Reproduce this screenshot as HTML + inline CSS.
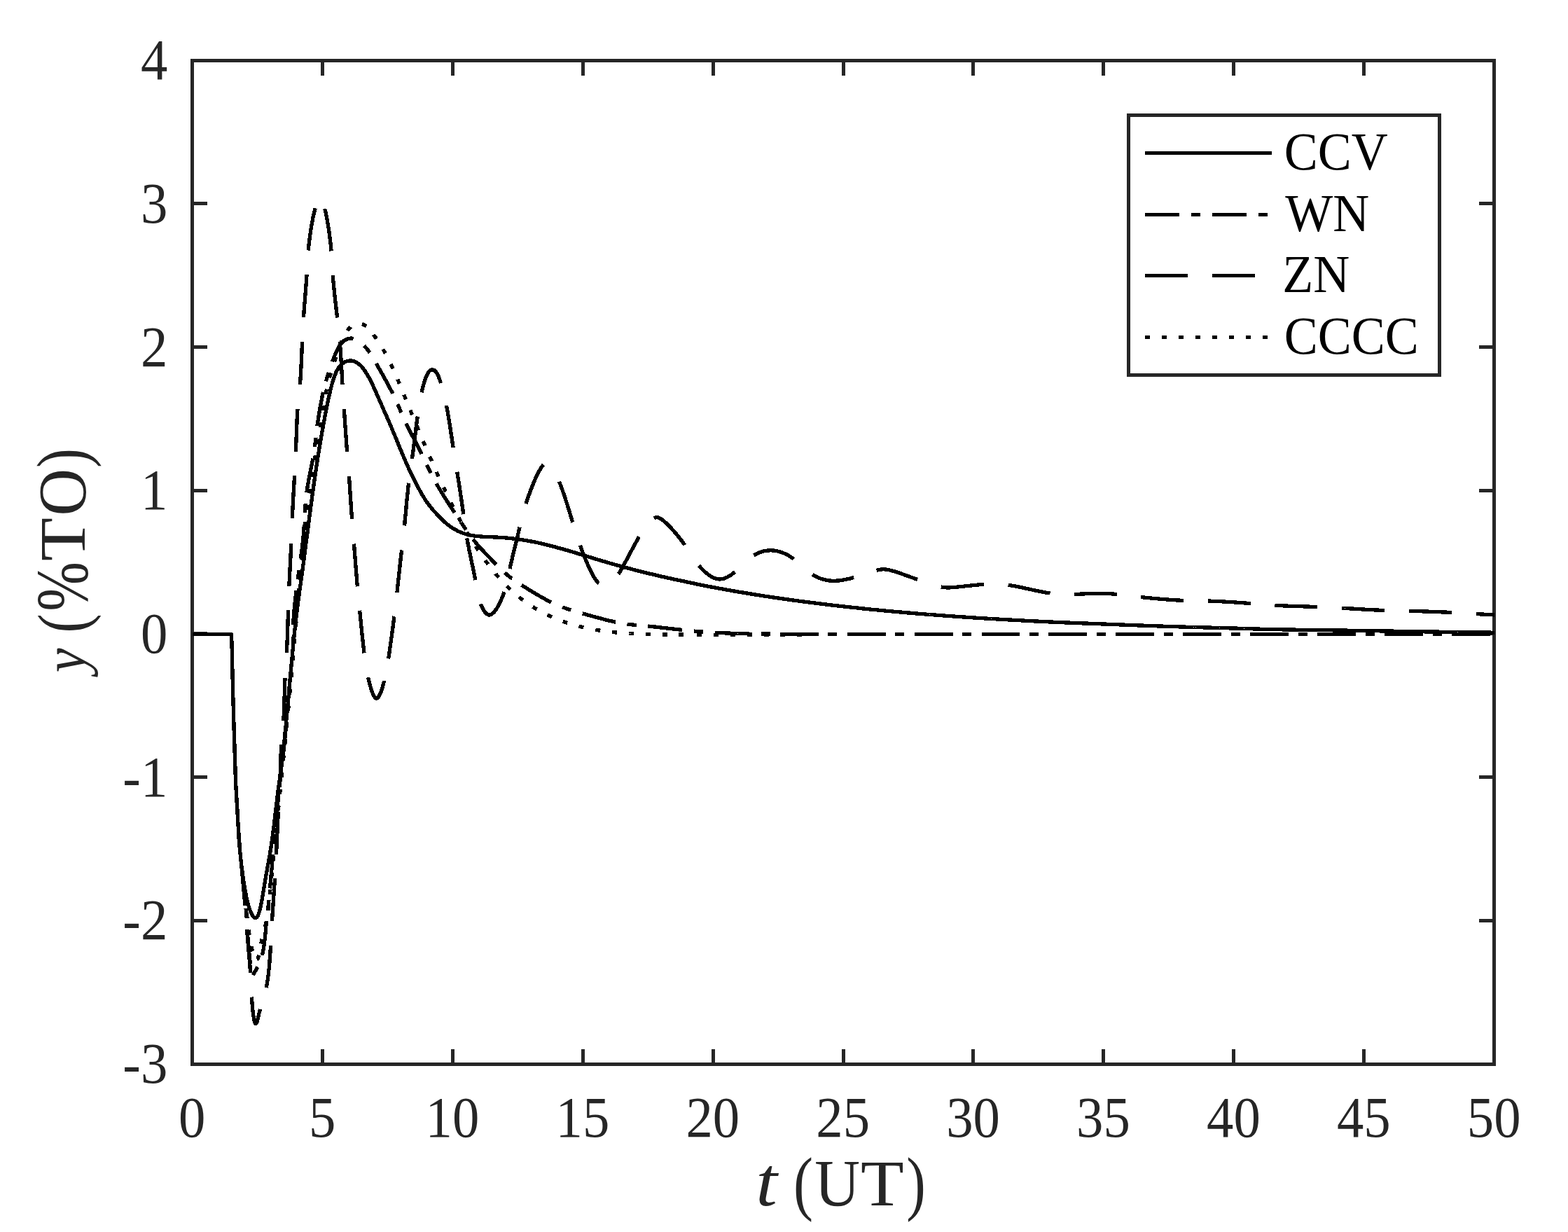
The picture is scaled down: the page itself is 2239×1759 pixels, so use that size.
<!DOCTYPE html>
<html lang="en"><head><meta charset="utf-8"><title>Disturbance response: CCV, WN, ZN, CCCC</title>
<style>html,body{margin:0;padding:0;background:#fff;}body{width:2239px;height:1759px;overflow:hidden;}svg{display:block;}</style>
</head><body>
<svg width="2239" height="1759" viewBox="0 0 2239 1759"><g shape-rendering="crispEdges"><rect x="272" y="84" width="1864" height="5" fill="#262626"/><rect x="272" y="1517" width="1864" height="5" fill="#262626"/><rect x="272" y="84" width="5" height="1438" fill="#262626"/><rect x="2131" y="84" width="5" height="1438" fill="#262626"/><rect x="458" y="1498" width="5" height="19" fill="#262626"/><rect x="458" y="89" width="5" height="19" fill="#262626"/><rect x="644" y="1498" width="5" height="19" fill="#262626"/><rect x="644" y="89" width="5" height="19" fill="#262626"/><rect x="830" y="1498" width="5" height="19" fill="#262626"/><rect x="830" y="89" width="5" height="19" fill="#262626"/><rect x="1016" y="1498" width="5" height="19" fill="#262626"/><rect x="1016" y="89" width="5" height="19" fill="#262626"/><rect x="1202" y="1498" width="5" height="19" fill="#262626"/><rect x="1202" y="89" width="5" height="19" fill="#262626"/><rect x="1387" y="1498" width="5" height="19" fill="#262626"/><rect x="1387" y="89" width="5" height="19" fill="#262626"/><rect x="1573" y="1498" width="5" height="19" fill="#262626"/><rect x="1573" y="89" width="5" height="19" fill="#262626"/><rect x="1759" y="1498" width="5" height="19" fill="#262626"/><rect x="1759" y="89" width="5" height="19" fill="#262626"/><rect x="1945" y="1498" width="5" height="19" fill="#262626"/><rect x="1945" y="89" width="5" height="19" fill="#262626"/><rect x="277" y="1312" width="19" height="5" fill="#262626"/><rect x="2112" y="1312" width="19" height="5" fill="#262626"/><rect x="277" y="1107" width="19" height="5" fill="#262626"/><rect x="2112" y="1107" width="19" height="5" fill="#262626"/><rect x="277" y="902" width="19" height="5" fill="#262626"/><rect x="2112" y="902" width="19" height="5" fill="#262626"/><rect x="277" y="698" width="19" height="5" fill="#262626"/><rect x="2112" y="698" width="19" height="5" fill="#262626"/><rect x="277" y="493" width="19" height="5" fill="#262626"/><rect x="2112" y="493" width="19" height="5" fill="#262626"/><rect x="277" y="288" width="19" height="5" fill="#262626"/><rect x="2112" y="288" width="19" height="5" fill="#262626"/></g>
<g font-family="'Liberation Serif', serif" font-size="80px" fill="#262626"><text transform="translate(274.2,1622.6) scale(0.96,1.026)" text-anchor="middle">0</text><text transform="translate(460.1,1622.6) scale(0.96,1.026)" text-anchor="middle">5</text><text transform="translate(646.0,1622.6) scale(0.96,1.026)" text-anchor="middle">10</text><text transform="translate(831.9,1622.6) scale(0.96,1.026)" text-anchor="middle">15</text><text transform="translate(1017.8,1622.6) scale(0.96,1.026)" text-anchor="middle">20</text><text transform="translate(1203.7,1622.6) scale(0.96,1.026)" text-anchor="middle">25</text><text transform="translate(1389.6,1622.6) scale(0.96,1.026)" text-anchor="middle">30</text><text transform="translate(1575.5,1622.6) scale(0.96,1.026)" text-anchor="middle">35</text><text transform="translate(1761.4,1622.6) scale(0.96,1.026)" text-anchor="middle">40</text><text transform="translate(1947.3,1622.6) scale(0.96,1.026)" text-anchor="middle">45</text><text transform="translate(2133.2,1622.6) scale(0.96,1.026)" text-anchor="middle">50</text><text transform="translate(239.3,1546.1) scale(0.96,1.026)" text-anchor="end">-3</text><text transform="translate(239.3,1341.4) scale(0.96,1.026)" text-anchor="end">-2</text><text transform="translate(239.3,1136.7) scale(0.96,1.026)" text-anchor="end">-1</text><text transform="translate(239.3,932.0) scale(0.96,1.026)" text-anchor="end">0</text><text transform="translate(239.3,727.2) scale(0.96,1.026)" text-anchor="end">1</text><text transform="translate(239.3,522.5) scale(0.96,1.026)" text-anchor="end">2</text><text transform="translate(239.3,317.8) scale(0.96,1.026)" text-anchor="end">3</text><text transform="translate(239.3,113.1) scale(0.96,1.026)" text-anchor="end">4</text></g>
<text font-family="'Liberation Serif', serif" fill="#262626" xml:space="preserve"><tspan x="1079.3" y="1721.3" font-size="100.2px" font-style="italic" textLength="30.6" lengthAdjust="spacingAndGlyphs">t</tspan><tspan x="1120.0" y="1721.3" font-size="20px"> </tspan><tspan x="1133.0" y="1722.5" font-size="100.8px" textLength="28.0" lengthAdjust="spacingAndGlyphs">(</tspan><tspan x="1163.2" y="1722.0" font-size="94.5px" textLength="64.8" lengthAdjust="spacingAndGlyphs">U</tspan><tspan x="1229.1" y="1721.3" font-size="93.5px" textLength="61.7" lengthAdjust="spacingAndGlyphs">T</tspan><tspan x="1294.3" y="1722.5" font-size="100.8px" textLength="27.5" lengthAdjust="spacingAndGlyphs">)</tspan></text>
<text transform="translate(121.1,966.7) rotate(-90)" font-family="'Liberation Serif', serif" fill="#262626" xml:space="preserve"><tspan x="6.5" y="-0.6" font-size="85.8px" font-style="italic" textLength="34.6" lengthAdjust="spacingAndGlyphs">y</tspan><tspan x="50.0" y="0.0" font-size="20px"> </tspan><tspan x="63.3" y="1.8" font-size="100.5px" textLength="27.2" lengthAdjust="spacingAndGlyphs">(</tspan><tspan x="94.0" y="3.4" font-size="105.7px" textLength="70.6" lengthAdjust="spacingAndGlyphs">%</tspan><tspan x="165.8" y="0.0" font-size="93.3px" textLength="62.0" lengthAdjust="spacingAndGlyphs">T</tspan><tspan x="230.2" y="1.1" font-size="97.5px" textLength="67.7" lengthAdjust="spacingAndGlyphs">O</tspan><tspan x="298.7" y="1.7" font-size="101.1px" textLength="28.0" lengthAdjust="spacingAndGlyphs">)</tspan></text>
<g id="curves" shape-rendering="crispEdges"><path d="M274.5 905.5L330.5 905.5L330.5 906.4L330.6 907.3L330.6 908.2L330.6 909.1L330.6 909.7M331.6 944.7L331.6 945.3L331.6 946.2L331.6 947.1L331.7 948.0L331.7 949.0L331.7 949.9L331.7 950.8L331.8 951.7L331.8 952.7L331.8 953.6L331.8 954.6L331.9 955.5L331.9 956.5L331.9 957.4L331.9 958.4L331.9 959.4L332.0 960.3L332.0 961.3L332.0 962.3L332.0 963.3L332.1 964.3L332.1 965.3L332.1 966.2L332.1 967.2L332.2 968.3L332.2 969.3L332.2 970.3L332.2 971.3L332.3 972.3L332.3 973.3L332.3 974.4L332.3 975.4L332.4 976.5L332.4 977.5L332.4 978.5L332.4 979.6L332.5 980.7L332.5 981.7L332.5 982.8L332.5 983.9L332.6 984.9L332.6 986.0L332.6 987.1L332.7 988.2L332.7 989.3L332.7 990.4L332.7 991.5L332.8 992.6L332.8 993.5L332.8 994.4L332.8 995.4L332.9 996.3L332.9 997.2L332.9 998.2L332.9 999.1L333.0 1000.1L333.0 1001.0L333.0 1002.0L333.0 1002.9L333.1 1003.9L333.1 1004.9L333.1 1005.7M334.1 1040.7L334.1 1041.4L334.1 1042.4L334.2 1043.4L334.2 1044.4L334.2 1045.4L334.3 1046.4L334.3 1047.4L334.3 1048.4L334.3 1049.4L334.4 1050.4L334.4 1051.4L334.4 1052.4L334.5 1053.4L334.5 1054.4L334.5 1055.4L334.6 1056.4L334.6 1057.3L334.6 1058.3L334.7 1059.3L334.7 1060.3L334.7 1061.3L334.7 1062.3L334.8 1063.2L334.8 1064.2L334.8 1065.2L334.9 1066.2L334.9 1067.1L334.9 1068.3L335.0 1069.4L335.0 1070.5L335.0 1071.6L335.1 1072.7L335.1 1073.8L335.2 1074.9L335.2 1076.0L335.2 1077.1L335.3 1078.2L335.3 1079.3L335.3 1080.4L335.4 1081.5L335.4 1082.6L335.4 1083.6L335.5 1084.7L335.5 1085.8L335.6 1086.8L335.6 1087.9L335.6 1088.9L335.7 1090.0L335.7 1091.0L335.7 1092.1L335.8 1093.1L335.8 1094.1L335.9 1095.2L335.9 1096.2L335.9 1097.2L336.0 1098.2L336.0 1099.2L336.0 1100.2L336.1 1101.2L336.1 1101.7M337.6 1136.6L337.7 1136.8L337.7 1137.8L337.8 1138.7L337.8 1139.7L337.9 1140.6L337.9 1141.5L338.0 1142.5L338.0 1143.4L338.1 1144.4L338.1 1145.3L338.2 1146.3L338.2 1147.2L338.3 1148.2L338.3 1149.1L338.4 1150.1L338.5 1151.1L338.5 1152.1L338.6 1153.1L338.6 1154.1L338.7 1155.1L338.7 1155.9L338.8 1156.8L338.8 1157.7L338.9 1158.5L339.0 1159.4L339.0 1160.3L339.1 1161.2L339.1 1162.1L339.2 1163.0L339.2 1163.9L339.3 1164.9L339.3 1165.8L339.4 1166.7L339.5 1167.7L339.5 1168.6L339.6 1169.6L339.6 1170.5L339.7 1171.5L339.8 1172.4L339.8 1173.4L339.9 1174.4L339.9 1175.4L340.0 1176.3L340.1 1177.3L340.1 1178.3L340.2 1179.3L340.3 1180.3L340.3 1181.3L340.4 1182.3L340.5 1183.3L340.5 1184.3L340.6 1185.3L340.7 1186.3L340.7 1187.4L340.8 1188.4L340.9 1189.4L341.0 1190.4L341.0 1191.4L341.1 1192.5L341.2 1193.5L341.3 1194.5L341.3 1195.5L341.4 1196.6L341.5 1197.5M344.4 1232.4L344.5 1233.2L344.6 1234.2L344.7 1235.2L344.8 1236.2L344.9 1237.2L345.0 1238.2L345.1 1239.2L345.2 1240.2L345.3 1241.2L345.4 1242.2L345.4 1243.2L345.5 1244.1L345.6 1245.1L345.7 1246.1L345.8 1247.1L345.9 1248.1L346.0 1249.1L346.1 1250.1L346.2 1251.1L346.3 1252.2L346.4 1253.2L346.5 1254.2L346.6 1255.2L346.7 1256.2L346.8 1257.2L346.9 1258.1L346.9 1259.1L347.0 1260.1L347.1 1261.1L347.2 1262.1L347.3 1263.1L347.4 1264.1L347.5 1265.0L347.6 1266.0L347.7 1267.0L347.8 1268.0L347.9 1268.9L347.9 1269.9L348.0 1270.9L348.1 1271.8L348.2 1272.8L348.3 1273.7L348.4 1274.7L348.5 1275.6L348.5 1276.6L348.6 1277.5L348.7 1278.5L348.8 1279.4L348.9 1280.4L348.9 1281.3L349.0 1282.2L349.1 1283.2L349.2 1284.1L349.3 1285.0L349.3 1285.9L349.4 1286.8L349.5 1287.8L349.6 1288.7L349.6 1289.6L349.7 1290.5L349.8 1291.5L349.9 1292.5L349.9 1293.1M352.6 1328.0L352.6 1328.9L352.7 1329.9L352.8 1330.8L352.9 1331.7L352.9 1332.7L353.0 1333.7L353.1 1334.6L353.2 1335.6L353.3 1336.6L353.4 1337.5L353.4 1338.5L353.5 1339.5L353.6 1340.5L353.7 1341.5L353.8 1342.5L353.9 1343.5L354.0 1344.5L354.1 1345.5L354.1 1346.6L354.2 1347.6L354.3 1348.6L354.4 1349.6L354.5 1350.7L354.6 1351.7L354.7 1352.7L354.8 1353.7L354.9 1354.8L355.0 1355.8L355.1 1356.8L355.1 1357.9L355.2 1358.9L355.3 1359.9L355.4 1361.0L355.5 1362.0L355.6 1363.0L355.7 1364.0L355.8 1365.1L355.9 1366.1L355.9 1367.1L356.0 1368.1L356.1 1369.1L356.2 1370.2L356.3 1371.2L356.4 1372.2L356.4 1373.2L356.5 1374.1L356.6 1375.1L356.7 1376.1L356.7 1377.1L356.8 1378.1L356.9 1379.0L357.0 1380.0L357.0 1380.9L357.1 1381.9L357.2 1382.8L357.2 1383.8L357.3 1384.7L357.4 1385.6L357.4 1386.5L357.5 1387.4L357.6 1388.5L357.6 1388.8M359.4 1423.6L359.5 1424.7L359.5 1425.8L359.6 1426.8L359.7 1427.9L359.8 1429.0L359.8 1430.0L359.9 1431.1L360.0 1432.2L360.1 1433.3L360.2 1434.3L360.2 1435.4L360.3 1436.4L360.4 1437.5L360.5 1438.5L360.6 1439.5L360.7 1440.6L360.8 1441.6L360.9 1442.6L361.0 1443.6L361.1 1444.5L361.3 1445.5L361.4 1446.4L361.5 1447.4L361.6 1448.3L361.7 1449.2L361.9 1450.1L362.0 1450.9L362.1 1451.8L362.3 1452.6L362.5 1453.8L362.7 1455.0L362.9 1456.0L363.1 1457.0L363.4 1458.0L363.6 1458.8L363.8 1459.6L364.1 1460.2L364.3 1460.8L364.6 1461.2L364.8 1461.5L365.1 1461.7L365.4 1461.7L365.7 1461.5L366.0 1461.1L366.3 1460.6L366.6 1459.9L366.9 1459.0L367.2 1458.1L367.5 1457.3L367.7 1456.4L367.9 1455.5L368.1 1454.6L368.4 1453.6L368.6 1452.6L368.8 1451.5L369.1 1450.4L369.3 1449.3L369.6 1448.1L369.9 1446.9L370.2 1445.7L370.6 1444.4L370.8 1443.7L371.0 1442.9L371.2 1442.1L371.5 1441.3L371.6 1440.9M380.2 1410.1L380.4 1409.2L380.6 1408.3L380.8 1407.4L381.0 1406.4L381.1 1405.5L381.3 1404.5L381.5 1403.6L381.6 1402.6L381.8 1401.6L381.9 1400.7L382.1 1399.7L382.2 1398.7L382.4 1397.7L382.5 1396.7L382.6 1395.7L382.8 1394.7L382.9 1393.7L383.0 1392.6L383.2 1391.6L383.3 1390.6L383.4 1389.6L383.5 1388.5L383.6 1387.5L383.7 1386.5L383.8 1385.5L384.0 1384.4L384.1 1383.4L384.2 1382.4L384.3 1381.3L384.4 1380.3L384.5 1379.3L384.5 1378.3L384.6 1377.2L384.7 1376.2L384.8 1375.2L384.9 1374.2L385.0 1373.1L385.1 1372.1L385.1 1371.1L385.2 1370.1L385.3 1369.1L385.4 1368.1L385.4 1367.1L385.5 1366.1L385.6 1365.2L385.6 1364.2L385.7 1363.2L385.8 1362.2L385.8 1361.3L385.9 1360.3L385.9 1359.4L386.0 1358.5L386.1 1357.5L386.1 1356.6L386.2 1355.7L386.2 1354.8L386.3 1353.9L386.3 1353.1L386.4 1352.2L386.4 1351.3L386.5 1350.2L386.5 1349.5M388.5 1315.1L388.6 1314.3L388.6 1313.4L388.7 1312.5L388.7 1311.6L388.8 1310.6L388.8 1309.7L388.9 1308.8L389.0 1307.8L389.0 1306.9L389.1 1305.9L389.1 1304.9L389.2 1303.9L389.3 1302.9L389.3 1302.0L389.4 1300.9L389.5 1299.9L389.5 1298.9L389.6 1297.9L389.7 1296.9L389.7 1295.9L389.8 1294.8L389.9 1293.8L389.9 1292.8L390.0 1291.7L390.1 1290.7L390.1 1289.6L390.2 1288.6L390.3 1287.6L390.3 1286.5L390.4 1285.5L390.5 1284.4L390.6 1283.4L390.6 1282.3L390.7 1281.3L390.8 1280.2L390.8 1279.2L390.9 1278.2L391.0 1277.1L391.0 1276.1L391.1 1275.1L391.2 1274.0L391.3 1273.0L391.3 1272.0L391.4 1271.0L391.5 1270.0L391.5 1269.0L391.6 1268.0L391.7 1267.0L391.7 1266.0L391.8 1265.1L391.8 1264.1L391.9 1263.2L392.0 1262.2L392.0 1261.3L392.1 1260.4L392.2 1259.4L392.2 1258.5L392.3 1257.6L392.3 1256.7L392.4 1255.9L392.5 1254.8L392.5 1254.3M394.5 1219.8L394.5 1219.0L394.6 1218.1L394.6 1217.2L394.7 1216.3L394.7 1215.4L394.8 1214.5L394.8 1213.5L394.8 1212.6L394.9 1211.7L394.9 1210.7L395.0 1209.7L395.0 1208.8L395.1 1207.8L395.1 1206.8L395.1 1205.8L395.2 1204.8L395.2 1203.8L395.3 1202.8L395.3 1201.8L395.4 1200.8L395.4 1199.8L395.4 1198.8L395.5 1197.7L395.5 1196.7L395.6 1195.7L395.6 1194.6L395.7 1193.6L395.7 1192.6L395.8 1191.5L395.8 1190.5L395.9 1189.5L395.9 1188.4L396.0 1187.4L396.0 1186.3L396.0 1185.3L396.1 1184.3L396.1 1183.2L396.2 1182.2L396.2 1181.2L396.3 1180.2L396.3 1179.2L396.4 1178.1L396.4 1177.1L396.5 1176.1L396.5 1175.1L396.6 1174.1L396.6 1173.1L396.7 1172.2L396.7 1171.2L396.8 1170.2L396.8 1169.3L396.9 1168.3L396.9 1167.4L397.0 1166.4L397.0 1165.5L397.1 1164.6L397.1 1163.7L397.2 1162.8L397.2 1161.9L397.3 1161.0L397.3 1160.2L397.4 1159.1L397.4 1158.9M399.5 1124.3L399.5 1123.4L399.6 1122.6L399.6 1121.7L399.6 1120.8L399.7 1119.8L399.7 1118.9L399.7 1118.0L399.8 1117.0L399.8 1116.1L399.9 1115.1L399.9 1114.2L399.9 1113.2L400.0 1112.2L400.0 1111.2L400.0 1110.2L400.0 1109.2L400.1 1108.2L400.1 1107.2L400.1 1106.2L400.2 1105.1L400.2 1104.1L400.2 1103.1L400.3 1102.0L400.3 1101.0L400.3 1100.0L400.4 1098.9L400.4 1097.9L400.4 1096.8L400.5 1095.8L400.5 1094.7L400.5 1093.7L400.6 1092.6L400.6 1091.6L400.6 1090.5L400.7 1089.5L400.7 1088.4L400.7 1087.4L400.8 1086.4L400.8 1085.3L400.9 1084.3L400.9 1083.3L400.9 1082.3L401.0 1081.2L401.0 1080.2L401.1 1079.2L401.1 1078.2L401.1 1077.2L401.2 1076.2L401.2 1075.3L401.3 1074.3L401.3 1073.3L401.4 1072.4L401.4 1071.4L401.4 1070.5L401.5 1069.5L401.5 1068.6L401.6 1067.7L401.7 1066.8L401.7 1065.9L401.8 1065.1L401.8 1064.2L401.9 1063.4M404.8 1028.8L404.8 1028.0L404.9 1027.1L404.9 1026.2L405.0 1025.3L405.0 1024.4L405.1 1023.5L405.1 1022.6L405.2 1021.7L405.2 1020.7L405.3 1019.8L405.3 1018.8L405.3 1017.8L405.4 1016.9L405.4 1015.9L405.5 1014.9L405.5 1013.9L405.5 1012.9L405.6 1011.9L405.6 1010.9L405.6 1009.9L405.7 1008.9L405.7 1007.9L405.7 1006.8L405.8 1005.8L405.8 1004.8L405.8 1003.7L405.9 1002.7L405.9 1001.7L405.9 1000.6L406.0 999.6L406.0 998.5L406.0 997.5L406.1 996.5L406.1 995.4L406.1 994.4L406.2 993.4L406.2 992.3L406.2 991.3L406.2 990.3L406.3 989.2L406.3 988.2L406.3 987.2L406.4 986.2L406.4 985.2L406.4 984.1L406.5 983.1L406.5 982.2L406.5 981.2L406.6 980.2L406.6 979.2L406.6 978.2L406.6 977.3L406.7 976.3L406.7 975.4L406.8 974.4L406.8 973.5L406.8 972.6L406.9 971.7L406.9 970.8L406.9 969.9L407.0 969.1L407.0 968.2L407.0 967.9M409.3 932.3L409.3 931.5L409.4 930.6L409.4 929.7L409.5 928.8L409.5 927.9L409.6 927.0L409.6 926.1L409.7 925.1L409.7 924.2L409.8 923.2L409.8 922.3L409.8 921.3L409.9 920.3L409.9 919.3L410.0 918.4L410.0 917.4L410.1 916.4L410.1 915.4L410.1 914.4L410.2 913.3L410.2 912.3L410.3 911.3L410.3 910.3L410.3 909.2L410.4 908.2L410.4 907.2L410.4 906.2L410.5 905.1L410.5 904.1L410.5 903.0L410.6 902.0L410.6 901.0L410.7 899.9L410.7 898.9L410.7 897.9L410.8 896.8L410.8 895.8L410.8 894.8L410.9 893.7L410.9 892.7L410.9 891.7L411.0 890.7L411.0 889.7L411.0 888.7L411.0 887.7L411.1 886.7L411.1 885.7L411.1 884.7L411.2 883.7L411.2 882.8L411.2 881.8L411.3 880.8L411.3 879.9L411.3 879.0L411.3 878.0L411.4 877.1L411.4 876.2L411.4 875.3L411.4 874.4L411.5 873.5L411.5 872.7L411.5 871.6L411.5 871.4M412.8 836.8L412.8 836.0L412.9 835.1L412.9 834.2L413.0 833.3L413.0 832.4L413.1 831.5L413.1 830.6L413.2 829.6L413.2 828.7L413.2 827.7L413.3 826.8L413.3 825.8L413.4 824.8L413.4 823.9L413.5 822.9L413.5 821.9L413.6 820.9L413.6 819.9L413.7 818.9L413.7 817.9L413.8 816.9L413.9 815.8L413.9 814.8L414.0 813.8L414.0 812.8L414.1 811.7L414.1 810.7L414.2 809.7L414.2 808.6L414.3 807.6L414.3 806.6L414.4 805.5L414.4 804.5L414.5 803.5L414.5 802.4L414.6 801.4L414.6 800.4L414.7 799.3L414.8 798.3L414.8 797.3L414.9 796.3L414.9 795.2L415.0 794.2L415.0 793.2L415.1 792.2L415.1 791.2L415.2 790.2L415.2 789.3L415.3 788.3L415.3 787.3L415.4 786.3L415.4 785.4L415.4 784.4L415.5 783.5L415.5 782.6L415.6 781.6L415.6 780.7L415.7 779.8L415.7 778.9L415.7 778.1L415.8 777.2L415.8 776.1L415.8 775.9M417.3 740.1L417.3 739.2L417.4 738.3L417.4 737.4L417.5 736.5L417.5 735.6L417.6 734.7L417.6 733.7L417.6 732.8L417.7 731.8L417.7 730.9L417.8 729.9L417.8 728.9L417.9 727.9L417.9 726.9L418.0 725.9L418.0 724.9L418.1 723.9L418.1 722.9L418.2 721.9L418.2 720.8L418.3 719.8L418.3 718.8L418.4 717.7L418.5 716.7L418.5 715.6L418.6 714.6L418.6 713.6L418.7 712.5L418.7 711.5L418.8 710.4L418.8 709.4L418.9 708.3L419.0 707.3L419.0 706.2L419.1 705.2L419.1 704.2L419.2 703.1L419.2 702.1L419.3 701.0L419.4 700.0L419.4 699.0L419.5 698.0L419.5 697.0L419.6 696.0L419.6 695.0L419.7 694.0L419.7 693.0L419.8 692.0L419.9 691.0L419.9 690.0L420.0 689.1L420.0 688.1L420.1 687.2L420.1 686.2L420.2 685.3L420.2 684.4L420.3 683.5L420.3 682.6L420.4 681.7L420.4 680.9L420.5 680.0L420.5 679.2M422.4 644.8L422.4 643.9L422.5 643.1L422.5 642.2L422.5 641.3L422.6 640.4L422.6 639.5L422.6 638.6L422.7 637.6L422.7 636.7L422.7 635.7L422.8 634.8L422.8 633.8L422.8 632.8L422.9 631.8L422.9 630.8L422.9 629.8L423.0 628.8L423.0 627.8L423.0 626.8L423.1 625.8L423.1 624.8L423.2 623.7L423.2 622.7L423.2 621.7L423.3 620.6L423.3 619.6L423.3 618.6L423.4 617.5L423.4 616.5L423.4 615.4L423.5 614.4L423.5 613.3L423.6 612.3L423.6 611.2L423.6 610.2L423.7 609.2L423.7 608.1L423.8 607.1L423.8 606.0L423.9 605.0L423.9 604.0L423.9 603.0L424.0 601.9L424.0 600.9L424.1 599.9L424.1 598.9L424.2 597.9L424.2 596.9L424.3 596.0L424.3 595.0L424.4 594.0L424.4 593.1L424.5 592.1L424.5 591.2L424.6 590.2L424.7 589.3L424.7 588.4L424.8 587.5L424.8 586.6L424.9 585.7L424.9 584.9L425.0 584.0L425.0 583.9M428.4 548.9L428.5 548.0L428.5 547.2L428.6 546.3L428.7 545.4L428.7 544.5L428.8 543.6L428.9 542.7L428.9 541.8L429.0 540.8L429.0 539.9L429.1 538.9L429.2 537.9L429.2 537.0L429.3 536.0L429.4 535.0L429.4 534.0L429.5 533.0L429.5 532.0L429.6 531.0L429.6 530.0L429.7 529.0L429.7 527.9L429.8 526.9L429.9 525.9L429.9 524.8L430.0 523.8L430.0 522.8L430.1 521.7L430.1 520.7L430.2 519.6L430.2 518.6L430.3 517.6L430.3 516.5L430.4 515.5L430.4 514.4L430.5 513.4L430.5 512.4L430.5 511.3L430.6 510.3L430.6 509.3L430.7 508.2L430.7 507.2L430.8 506.2L430.8 505.2L430.9 504.2L430.9 503.2L430.9 502.2L431.0 501.2L431.0 500.2L431.1 499.2L431.1 498.2L431.1 497.3L431.2 496.3L431.2 495.4L431.3 494.5L431.3 493.5L431.3 492.6L431.4 491.7L431.4 490.8L431.4 489.9L431.5 489.1L431.5 488.2L431.5 488.0M433.5 452.7L433.5 451.8L433.6 451.0L433.6 450.1L433.7 449.2L433.8 448.3L433.9 447.4L433.9 446.4L434.0 445.5L434.1 444.6L434.1 443.6L434.2 442.6L434.3 441.7L434.4 440.7L434.4 439.7L434.5 438.7L434.6 437.7L434.7 436.7L434.8 435.7L434.8 434.7L434.9 433.7L435.0 432.6L435.1 431.6L435.2 430.6L435.3 429.6L435.3 428.5L435.4 427.5L435.5 426.4L435.6 425.4L435.7 424.4L435.8 423.3L435.8 422.3L435.9 421.2L436.0 420.2L436.1 419.2L436.2 418.1L436.2 417.1L436.3 416.0L436.4 415.0L436.5 414.0L436.6 413.0L436.6 411.9L436.7 410.9L436.8 409.9L436.9 408.9L436.9 407.9L437.0 406.9L437.1 405.9L437.2 404.9L437.2 404.0L437.3 403.0L437.4 402.0L437.4 401.1L437.5 400.1L437.6 399.2L437.6 398.3L437.7 397.4L437.7 396.5L437.8 395.6L437.9 394.7L437.9 393.8L438.0 393.0L438.0 391.9L438.0 391.9M440.2 357.5L440.3 356.6L440.3 355.7L440.4 354.8L440.5 353.8L440.6 352.9L440.7 351.9L440.8 351.0L440.9 350.0L441.1 349.0L441.2 348.1L441.3 347.1L441.4 346.1L441.5 345.0L441.7 344.0L441.8 343.0L441.9 342.0L442.0 340.9L442.2 339.9L442.3 338.9L442.5 337.8L442.6 336.7L442.8 335.7L442.9 334.6L443.1 333.6L443.2 332.5L443.4 331.4L443.5 330.4L443.7 329.3L443.8 328.3L444.0 327.2L444.2 326.1L444.4 325.1L444.5 324.0L444.7 323.0L444.9 321.9L445.0 320.9L445.2 319.8L445.4 318.8L445.6 317.8L445.8 316.8L446.0 315.7L446.2 314.7L446.3 313.7L446.5 312.7L446.7 311.8L446.9 310.8L447.1 309.8L447.3 308.9L447.5 307.9L447.7 307.0L447.9 306.1L448.1 305.2L448.3 304.3L448.5 303.4L448.8 302.5L449.0 301.7L449.2 300.8L449.4 300.0L449.6 299.2L449.8 298.4L450.0 297.7L450.1 297.3M463.6 298.0L463.8 298.8L464.0 299.6L464.3 300.4L464.5 301.2L464.7 302.1L464.9 303.0L465.1 303.8L465.3 304.7L465.5 305.6L465.7 306.5L465.9 307.5L466.1 308.4L466.3 309.3L466.4 310.3L466.6 311.3L466.8 312.2L467.0 313.2L467.2 314.2L467.4 315.2L467.6 316.3L467.7 317.3L467.9 318.3L468.1 319.3L468.3 320.4L468.4 321.4L468.6 322.5L468.8 323.5L469.0 324.6L469.1 325.6L469.3 326.7L469.4 327.8L469.6 328.8L469.7 329.9L469.9 330.9L470.1 332.0L470.2 333.1L470.3 334.1L470.5 335.2L470.6 336.3L470.8 337.3L470.9 338.4L471.0 339.4L471.2 340.5L471.3 341.5L471.4 342.5L471.5 343.6L471.7 344.6L471.8 345.6L471.9 346.6L472.0 347.6L472.1 348.6L472.2 349.6L472.3 350.6L472.4 351.5L472.5 352.5L472.6 353.4L472.7 354.4L472.8 355.3L472.9 356.2L473.0 357.1L473.0 358.0L473.1 358.2M475.2 393.0L475.3 393.8L475.4 394.7L475.4 395.6L475.5 396.5L475.6 397.4L475.7 398.3L475.7 399.2L475.8 400.2L475.9 401.1L476.0 402.1L476.1 403.0L476.2 404.0L476.3 405.0L476.4 406.0L476.4 407.0L476.5 408.0L476.6 409.0L476.7 410.0L476.8 411.0L476.9 412.0L477.0 413.1L477.2 414.1L477.3 415.1L477.4 416.2L477.5 417.2L477.6 418.3L477.7 419.3L477.8 420.4L477.9 421.4L478.0 422.5L478.1 423.5L478.3 424.6L478.4 425.6L478.5 426.7L478.6 427.7L478.7 428.8L478.8 429.8L479.0 430.8L479.1 431.9L479.2 432.9L479.3 434.0L479.4 435.0L479.5 436.0L479.7 437.0L479.8 438.0L479.9 439.0L480.0 440.0L480.1 441.0L480.2 442.0L480.3 443.0L480.5 444.0L480.6 444.9L480.7 445.9L480.8 446.8L480.9 447.7L481.0 448.7L481.1 449.6L481.2 450.5L481.3 451.4L481.4 452.2L481.5 453.1L481.6 453.6M485.3 488.2L485.4 489.1L485.4 489.9L485.5 490.8L485.6 491.7L485.6 492.6L485.7 493.5L485.8 494.4L485.8 495.4L485.9 496.3L486.0 497.2L486.0 498.2L486.1 499.2L486.2 500.1L486.2 501.1L486.3 502.1L486.3 503.1L486.4 504.1L486.5 505.1L486.5 506.1L486.6 507.2L486.7 508.2L486.7 509.2L486.8 510.2L486.9 511.3L486.9 512.3L487.0 513.3L487.0 514.4L487.1 515.4L487.2 516.5L487.2 517.5L487.3 518.5L487.3 519.6L487.4 520.6L487.5 521.7L487.5 522.7L487.6 523.8L487.6 524.8L487.7 525.8L487.8 526.9L487.8 527.9L487.9 528.9L487.9 529.9L488.0 531.0L488.0 532.0L488.1 533.0L488.2 534.0L488.2 535.0L488.3 536.0L488.3 536.9L488.4 537.9L488.4 538.9L488.5 539.8L488.5 540.8L488.6 541.7L488.6 542.7L488.7 543.6L488.7 544.5L488.8 545.4L488.8 546.3L488.9 547.2L488.9 548.0L489.0 548.9L489.0 549.1M491.3 584.0L491.4 584.9L491.4 585.7L491.5 586.6L491.5 587.5L491.6 588.4L491.7 589.3L491.7 590.2L491.8 591.2L491.9 592.1L491.9 593.1L492.0 594.0L492.1 595.0L492.1 596.0L492.2 596.9L492.3 597.9L492.3 598.9L492.4 599.9L492.5 600.9L492.5 602.0L492.6 603.0L492.7 604.0L492.7 605.0L492.8 606.1L492.9 607.1L493.0 608.1L493.0 609.2L493.1 610.2L493.2 611.2L493.2 612.3L493.3 613.3L493.4 614.4L493.5 615.4L493.5 616.5L493.6 617.5L493.7 618.6L493.8 619.6L493.8 620.6L493.9 621.7L494.0 622.7L494.0 623.7L494.1 624.8L494.2 625.8L494.3 626.8L494.3 627.8L494.4 628.8L494.5 629.8L494.6 630.8L494.6 631.8L494.7 632.8L494.8 633.8L494.8 634.8L494.9 635.7L495.0 636.7L495.0 637.6L495.1 638.6L495.2 639.5L495.3 640.4L495.3 641.3L495.4 642.2L495.5 643.1L495.5 643.9L495.6 644.8L495.6 644.8M498.4 680.0L498.5 680.9L498.5 681.7L498.6 682.6L498.7 683.5L498.7 684.4L498.8 685.3L498.9 686.3L498.9 687.2L499.0 688.1L499.1 689.1L499.1 690.1L499.2 691.0L499.3 692.0L499.3 693.0L499.4 694.0L499.5 695.0L499.5 696.0L499.6 697.0L499.7 698.0L499.7 699.0L499.8 700.1L499.9 701.1L499.9 702.1L500.0 703.2L500.1 704.2L500.1 705.2L500.2 706.3L500.3 707.3L500.3 708.4L500.4 709.4L500.5 710.5L500.6 711.5L500.6 712.6L500.7 713.6L500.8 714.7L500.8 715.7L500.9 716.7L501.0 717.8L501.0 718.8L501.1 719.8L501.2 720.9L501.2 721.9L501.3 722.9L501.4 723.9L501.4 725.0L501.5 726.0L501.6 727.0L501.6 728.0L501.7 728.9L501.8 729.9L501.8 730.9L501.9 731.9L502.0 732.8L502.0 733.8L502.1 734.7L502.2 735.6L502.2 736.5L502.3 737.5L502.4 738.4L502.4 739.2L502.5 740.1L502.5 740.9M505.4 776.6L505.5 777.5L505.6 778.3L505.6 779.2L505.7 780.1L505.8 781.1L505.9 782.0L505.9 782.9L506.0 783.9L506.1 784.8L506.2 785.8L506.2 786.7L506.3 787.7L506.4 788.7L506.5 789.7L506.6 790.7L506.6 791.7L506.7 792.7L506.8 793.7L506.9 794.7L507.0 795.7L507.0 796.8L507.1 797.8L507.2 798.8L507.3 799.8L507.4 800.9L507.5 801.9L507.5 803.0L507.6 804.0L507.7 805.0L507.8 806.1L507.9 807.1L508.0 808.2L508.0 809.2L508.1 810.3L508.2 811.3L508.3 812.3L508.4 813.4L508.5 814.4L508.5 815.4L508.6 816.5L508.7 817.5L508.8 818.5L508.9 819.5L509.0 820.5L509.0 821.5L509.1 822.5L509.2 823.5L509.3 824.5L509.4 825.5L509.4 826.4L509.5 827.4L509.6 828.4L509.7 829.3L509.8 830.2L509.8 831.2L509.9 832.1L510.0 833.0L510.1 833.9L510.1 834.8L510.2 835.6L510.3 836.5L510.4 837.4M513.6 871.7L513.7 872.6L513.8 873.5L513.9 874.3L514.0 875.2L514.1 876.1L514.2 877.1L514.2 878.0L514.3 878.9L514.4 879.9L514.5 880.8L514.6 881.8L514.7 882.8L514.8 883.7L514.9 884.7L515.0 885.7L515.1 886.7L515.2 887.7L515.3 888.7L515.4 889.7L515.5 890.7L515.6 891.8L515.7 892.8L515.8 893.8L516.0 894.8L516.1 895.9L516.2 896.9L516.3 897.9L516.4 899.0L516.5 900.0L516.6 901.1L516.7 902.1L516.8 903.1L516.9 904.2L517.0 905.2L517.1 906.3L517.2 907.3L517.3 908.3L517.5 909.4L517.6 910.4L517.7 911.4L517.8 912.4L517.9 913.5L518.0 914.5L518.1 915.5L518.2 916.5L518.3 917.5L518.4 918.5L518.5 919.5L518.6 920.5L518.7 921.4L518.9 922.4L519.0 923.4L519.1 924.3L519.2 925.2L519.3 926.2L519.4 927.1L519.5 928.0L519.6 928.9L519.7 929.8L519.8 930.7L519.9 931.8L520.0 932.4M525.6 967.2L525.9 968.4L526.2 969.5L526.4 970.7L526.7 971.9L527.0 973.1L527.3 974.2L527.6 975.4L527.9 976.6L528.2 977.8L528.5 979.0L528.9 980.1L529.2 981.3L529.5 982.4L529.9 983.5L530.2 984.6L530.6 985.7L530.9 986.7L531.3 987.7L531.7 988.7L532.0 989.6L532.4 990.5L532.8 991.4L533.2 992.2L533.5 992.9L533.9 993.6L534.3 994.3L534.7 994.8L535.1 995.4L535.5 995.8L535.8 996.2L536.2 996.5L536.6 996.8L537.0 996.9L537.4 997.0L537.9 997.0L538.3 996.9L538.8 996.7L539.3 996.3L539.7 995.9L540.2 995.4L540.6 994.8L541.1 994.1L541.5 993.3L542.0 992.5L542.4 991.6L542.8 990.7L543.3 989.6L543.7 988.6L544.1 987.5L544.5 986.3L544.9 985.2L545.3 984.0L545.7 982.8L546.1 981.5L546.4 980.3L546.8 979.1L547.1 977.8L547.5 976.6L547.7 975.6L548.0 974.6L548.3 973.6L548.5 972.6L548.6 972.1M554.6 940.5L554.8 939.6L554.9 938.7L555.0 937.8L555.2 936.9L555.3 936.0L555.4 935.0L555.6 934.1L555.7 933.2L555.9 932.2L556.0 931.3L556.1 930.3L556.3 929.3L556.4 928.3L556.6 927.4L556.7 926.4L556.8 925.4L557.0 924.4L557.1 923.4L557.3 922.4L557.4 921.4L557.6 920.4L557.7 919.4L557.8 918.3L558.0 917.3L558.1 916.3L558.3 915.3L558.4 914.3L558.6 913.3L558.7 912.2L558.8 911.2L559.0 910.2L559.1 909.2L559.3 908.2L559.4 907.1L559.5 906.1L559.7 905.1L559.8 904.1L559.9 903.1L560.1 902.1L560.2 901.1L560.3 900.1L560.5 899.1L560.6 898.1L560.7 897.1L560.9 896.2L561.0 895.2L561.1 894.2L561.3 893.3L561.4 892.3L561.5 891.4L561.6 890.4L561.7 889.5L561.9 888.6L562.0 887.6L562.1 886.7L562.2 885.8L562.3 885.0L562.4 884.1L562.6 883.2L562.7 882.4L562.8 881.5L562.9 880.4L563.0 880.1M566.9 846.0L567.0 845.1L567.1 844.3L567.2 843.4L567.3 842.5L567.4 841.5L567.5 840.6L567.6 839.7L567.7 838.7L567.8 837.8L567.9 836.8L568.0 835.9L568.1 834.9L568.2 833.9L568.3 832.9L568.4 831.9L568.6 830.9L568.7 829.9L568.8 828.9L568.9 827.9L569.0 826.9L569.1 825.8L569.2 824.8L569.3 823.8L569.4 822.7L569.5 821.7L569.7 820.6L569.8 819.6L569.9 818.6L570.0 817.5L570.1 816.5L570.2 815.4L570.3 814.4L570.5 813.3L570.6 812.3L570.7 811.3L570.8 810.2L570.9 809.2L571.0 808.1L571.1 807.1L571.2 806.1L571.4 805.1L571.5 804.0L571.6 803.0L571.7 802.0L571.8 801.0L571.9 800.0L572.0 799.0L572.1 798.0L572.2 797.1L572.3 796.1L572.5 795.1L572.6 794.2L572.7 793.2L572.8 792.3L572.9 791.4L573.0 790.4L573.1 789.5L573.2 788.6L573.3 787.8L573.4 786.9L573.5 785.8L573.6 785.4M577.5 750.5L577.6 749.7L577.7 748.8L577.8 747.9L577.9 747.0L578.0 746.1L578.0 745.1L578.1 744.2L578.2 743.2L578.3 742.3L578.4 741.3L578.5 740.4L578.6 739.4L578.7 738.4L578.8 737.4L578.9 736.4L579.0 735.4L579.1 734.4L579.2 733.4L579.3 732.4L579.4 731.3L579.5 730.3L579.6 729.3L579.7 728.3L579.8 727.2L579.9 726.2L580.0 725.1L580.1 724.1L580.1 723.1L580.2 722.0L580.3 721.0L580.4 719.9L580.5 718.9L580.6 717.8L580.7 716.8L580.8 715.7L580.9 714.7L581.0 713.7L581.1 712.6L581.2 711.6L581.4 710.6L581.5 709.5L581.6 708.5L581.7 707.5L581.8 706.5L581.9 705.5L582.0 704.5L582.1 703.5L582.2 702.5L582.3 701.5L582.4 700.6L582.5 699.6L582.6 698.6L582.7 697.7L582.8 696.8L582.9 695.8L583.0 694.9L583.1 694.0L583.2 693.1L583.3 692.2L583.4 691.3L583.5 690.5L583.6 689.8M588.4 655.1L588.5 654.2L588.7 653.4L588.8 652.5L588.9 651.6L589.0 650.7L589.1 649.8L589.3 648.9L589.4 648.0L589.5 647.1L589.6 646.2L589.7 645.2L589.9 644.3L590.0 643.3L590.1 642.4L590.2 641.4L590.4 640.4L590.5 639.4L590.6 638.5L590.7 637.5L590.9 636.5L591.0 635.5L591.1 634.5L591.2 633.5L591.4 632.5L591.5 631.4L591.6 630.4L591.8 629.4L591.9 628.4L592.0 627.4L592.1 626.3L592.3 625.3L592.4 624.3L592.5 623.3L592.7 622.2L592.8 621.2L592.9 620.2L593.1 619.1L593.2 618.1L593.3 617.1L593.4 616.1L593.6 615.0L593.7 614.0L593.8 613.0L594.0 612.0L594.1 611.0L594.2 610.0L594.3 609.0L594.5 608.0L594.6 607.0L594.7 606.0L594.9 605.0L595.0 604.1L595.1 603.1L595.2 602.1L595.4 601.2L595.5 600.2L595.6 599.3L595.7 598.3L595.9 597.4L596.0 596.5L596.1 595.6L596.3 594.6M602.1 560.1L602.4 559.1L602.6 558.0L602.9 556.9L603.1 555.9L603.4 554.9L603.6 553.8L603.9 552.8L604.1 551.8L604.4 550.8L604.7 549.8L604.9 548.8L605.2 547.8L605.5 546.8L605.8 545.9L606.1 545.0L606.4 544.1L606.6 543.2L606.9 542.3L607.2 541.4L607.5 540.6L607.8 539.7L608.2 538.9L608.5 538.1L608.8 537.4L609.3 536.2L609.8 535.1L610.3 534.1L610.9 533.1L611.4 532.2L611.9 531.4L612.5 530.6L613.1 530.0L613.6 529.4L614.4 528.8L615.2 528.4L615.9 528.1L616.7 527.9L617.5 527.9L618.2 528.0L618.9 528.2L619.7 528.5L620.4 528.9L621.0 529.4L621.5 529.9L622.0 530.4L622.5 530.9L623.0 531.5L623.4 532.2L623.9 532.9L624.3 533.6L624.7 534.5L625.2 535.3L625.6 536.2L626.0 537.2L626.4 538.2L626.8 539.3L627.2 540.4L627.7 541.6L628.1 542.8L628.5 544.2L628.7 544.8L629.0 545.5L629.2 546.3L629.4 547.0L629.4 547.0M637.5 579.0L637.6 580.0L637.8 580.9L638.0 581.9L638.2 582.8L638.4 583.8L638.6 584.7L638.7 585.7L638.9 586.7L639.1 587.7L639.3 588.6L639.4 589.6L639.6 590.6L639.8 591.6L640.0 592.6L640.1 593.6L640.3 594.7L640.5 595.7L640.6 596.7L640.8 597.7L641.0 598.7L641.2 599.7L641.3 600.8L641.5 601.8L641.6 602.8L641.8 603.8L642.0 604.8L642.1 605.9L642.3 606.9L642.5 607.9L642.6 608.9L642.8 609.9L642.9 611.0L643.1 612.0L643.2 613.0L643.4 614.0L643.5 615.0L643.7 616.0L643.8 617.0L644.0 618.0L644.1 619.0L644.3 620.0L644.4 621.0L644.6 621.9L644.7 622.9L644.9 623.9L645.0 624.8L645.2 625.8L645.3 626.7L645.4 627.7L645.6 628.6L645.7 629.5L645.8 630.5L646.0 631.4L646.1 632.3L646.2 633.2L646.4 634.1L646.5 634.9L646.6 635.8L646.8 636.7L646.9 637.5L647.1 638.6L647.2 639.2M652.7 673.7L652.9 674.6L653.0 675.5L653.1 676.4L653.3 677.3L653.4 678.2L653.6 679.1L653.7 680.1L653.9 681.0L654.0 682.0L654.2 682.9L654.3 683.9L654.5 684.9L654.6 685.9L654.8 686.9L655.0 687.9L655.1 688.9L655.3 689.9L655.4 690.9L655.6 691.9L655.7 692.9L655.9 693.9L656.1 695.0L656.2 696.0L656.4 697.0L656.5 698.0L656.7 699.1L656.9 700.1L657.0 701.2L657.2 702.2L657.3 703.2L657.5 704.3L657.6 705.3L657.8 706.3L657.9 707.4L658.1 708.4L658.3 709.5L658.4 710.5L658.6 711.5L658.7 712.5L658.9 713.6L659.0 714.6L659.2 715.6L659.3 716.6L659.5 717.6L659.6 718.6L659.7 719.6L659.9 720.6L660.0 721.5L660.2 722.5L660.3 723.5L660.4 724.4L660.6 725.4L660.7 726.3L660.8 727.3L661.0 728.2L661.1 729.1L661.2 730.0L661.3 730.9L661.4 731.8L661.6 732.6L661.7 733.7L661.8 734.1M666.6 768.3L666.8 769.1L667.0 770.0L667.1 770.8L667.3 771.7L667.4 772.6L667.6 773.4L667.8 774.3L668.0 775.2L668.1 776.1L668.3 777.1L668.5 778.0L668.7 778.9L668.9 779.9L669.1 780.8L669.2 781.8L669.4 782.7L669.6 783.7L669.8 784.6L670.0 785.6L670.2 786.6L670.4 787.6L670.6 788.6L670.9 789.5L671.1 790.5L671.3 791.5L671.5 792.5L671.7 793.5L671.9 794.5L672.1 795.5L672.3 796.5L672.5 797.5L672.7 798.6L673.0 799.6L673.2 800.6L673.4 801.6L673.6 802.6L673.8 803.6L674.0 804.6L674.2 805.6L674.4 806.6L674.6 807.6L674.8 808.6L675.1 809.6L675.3 810.6L675.5 811.6L675.7 812.6L675.9 813.6L676.1 814.5L676.3 815.5L676.5 816.5L676.7 817.4L676.9 818.4L677.0 819.4L677.2 820.3L677.4 821.2L677.6 822.2L677.8 823.1L678.0 824.0L678.1 824.9L678.3 825.8L678.5 826.7L678.6 827.6L678.7 828.1M686.5 862.5L687.0 863.7L687.5 864.8L687.9 866.0L688.4 867.1L689.0 868.2L689.5 869.2L690.1 870.3L690.7 871.3L691.2 872.2L691.9 873.1L692.5 873.9L693.1 874.7L693.8 875.4L694.4 876.0L695.1 876.6L695.8 877.1L696.5 877.4L697.2 877.7L697.9 877.9L698.7 878.0L699.4 877.9L700.0 877.8L700.5 877.6L701.1 877.4L701.6 877.1L702.2 876.8L702.8 876.4L703.3 875.9L703.9 875.4L704.5 874.9L705.1 874.3L705.6 873.7L706.2 873.0L706.8 872.3L707.3 871.5L707.9 870.7L708.5 869.9L709.0 869.1L709.6 868.2L710.1 867.3L710.7 866.3L711.2 865.4L711.7 864.4L712.3 863.4L712.8 862.4L713.3 861.4L713.8 860.3L714.3 859.3L714.8 858.2L715.3 857.1L715.8 856.1L716.2 855.0L716.7 853.9L717.1 852.9L717.5 851.8L718.0 850.7L718.4 849.7L718.7 848.7L719.1 847.6L719.5 846.6L719.9 845.5L720.0 845.2M728.0 812.0L728.2 811.2L728.4 810.3L728.6 809.4L728.7 808.5L728.9 807.6L729.2 806.7L729.4 805.8L729.6 804.8L729.8 803.9L730.0 802.9L730.2 802.0L730.4 801.0L730.7 800.0L730.9 799.1L731.1 798.1L731.3 797.1L731.6 796.1L731.8 795.1L732.1 794.1L732.3 793.1L732.5 792.1L732.8 791.1L733.0 790.1L733.3 789.1L733.5 788.1L733.8 787.1L734.0 786.0L734.2 785.0L734.5 784.0L734.7 783.0L735.0 782.0L735.2 781.0L735.5 779.9L735.7 778.9L736.0 777.9L736.2 776.9L736.5 775.9L736.7 774.9L737.0 773.9L737.2 772.9L737.5 771.9L737.7 770.9L737.9 770.0L738.2 769.0L738.4 768.0L738.7 767.0L738.9 766.1L739.1 765.1L739.4 764.2L739.6 763.3L739.8 762.3L740.0 761.4L740.3 760.5L740.5 759.6L740.7 758.7L740.9 757.9L741.1 757.0L741.3 756.1L741.5 755.3L741.7 754.5L741.9 753.6L742.1 752.7M751.0 719.2L751.3 718.3L751.6 717.4L751.9 716.5L752.2 715.5L752.5 714.6L752.8 713.6L753.2 712.6L753.5 711.6L753.9 710.6L754.2 709.6L754.6 708.6L754.9 707.6L755.3 706.6L755.7 705.5L756.1 704.5L756.4 703.5L756.8 702.4L757.2 701.4L757.6 700.3L758.0 699.3L758.4 698.2L758.8 697.2L759.2 696.1L759.6 695.1L760.1 694.0L760.5 693.0L760.9 691.9L761.3 690.9L761.7 689.9L762.2 688.8L762.6 687.8L763.0 686.8L763.5 685.8L763.9 684.8L764.3 683.9L764.8 682.9L765.2 681.9L765.6 681.0L766.1 680.1L766.5 679.1L766.9 678.2L767.4 677.4L767.8 676.5L768.2 675.6L768.6 674.8L769.1 674.0L769.5 673.2L769.9 672.4L770.3 671.7L770.8 670.9L771.2 670.2L771.6 669.5L772.0 668.9L772.4 668.2L772.8 667.6L773.2 667.0L773.6 666.5L774.0 666.0L774.4 665.5L774.8 665.0L775.7 663.9L775.8 663.8M798.5 687.6L798.8 688.5L799.2 689.4L799.6 690.3L799.9 691.2L800.3 692.1L800.6 693.1L801.0 694.0L801.3 695.0L801.7 695.9L802.0 696.9L802.4 697.8L802.7 698.8L803.1 699.8L803.4 700.8L803.8 701.7L804.1 702.7L804.5 703.7L804.8 704.7L805.2 705.7L805.5 706.7L805.8 707.7L806.2 708.7L806.5 709.7L806.8 710.7L807.2 711.7L807.5 712.7L807.8 713.7L808.1 714.7L808.5 715.7L808.8 716.7L809.1 717.7L809.4 718.7L809.7 719.7L810.1 720.7L810.4 721.7L810.7 722.7L811.0 723.7L811.3 724.6L811.6 725.6L811.9 726.6L812.2 727.6L812.5 728.5L812.8 729.5L813.1 730.4L813.4 731.4L813.6 732.3L813.9 733.2L814.2 734.2L814.5 735.1L814.7 736.0L815.0 736.9L815.3 737.8L815.5 738.6L815.8 739.5L816.1 740.4L816.3 741.2L816.6 742.1L816.8 742.9L817.1 743.7L817.3 744.5L817.5 745.3L817.6 745.5M828.3 778.6L828.6 779.5L829.0 780.3L829.3 781.2L829.6 782.1L830.0 783.1L830.3 784.0L830.7 784.9L831.0 785.9L831.4 786.9L831.8 787.8L832.1 788.8L832.5 789.8L832.9 790.8L833.3 791.8L833.7 792.8L834.1 793.8L834.5 794.8L834.9 795.9L835.3 796.9L835.7 797.9L836.2 798.9L836.6 800.0L837.0 801.0L837.4 802.0L837.9 803.0L838.3 804.0L838.8 805.0L839.2 806.1L839.6 807.1L840.1 808.1L840.6 809.1L841.0 810.0L841.5 811.0L841.9 812.0L842.4 813.0L842.8 813.9L843.3 814.9L843.8 815.8L844.2 816.7L844.7 817.6L845.2 818.5L845.7 819.4L846.1 820.3L846.6 821.1L847.1 821.9L847.6 822.8L848.0 823.6L848.5 824.3L849.0 825.1L849.4 825.9L849.9 826.6L850.4 827.3L850.9 828.0L851.3 828.6L851.8 829.3L852.3 829.9L852.8 830.5L853.2 831.0L853.7 831.6L854.6 832.6L855.1 833.0M883.1 819.6L883.6 818.9L884.0 818.2L884.5 817.5L885.0 816.7L885.4 815.9L885.9 815.2L886.3 814.4L886.8 813.6L887.3 812.8L887.7 812.0L888.2 811.2L888.7 810.3L889.1 809.5L889.6 808.7L890.1 807.8L890.5 807.0L891.0 806.1L891.5 805.3L892.0 804.4L892.4 803.5L892.9 802.6L893.4 801.7L893.9 800.8L894.3 800.0L894.8 799.0L895.3 798.1L895.8 797.2L896.3 796.3L896.8 795.4L897.2 794.5L897.7 793.6L898.2 792.7L898.7 791.7L899.2 790.8L899.7 789.9L900.2 789.0L900.7 788.0L901.1 787.1L901.6 786.2L902.1 785.3L902.6 784.3L903.1 783.4L903.6 782.5L904.1 781.6L904.6 780.6L905.1 779.7L905.6 778.8L906.1 777.9L906.6 777.0L907.1 776.1L907.6 775.2L908.1 774.3L908.6 773.4L909.1 772.5L909.6 771.6L910.1 770.7L910.6 769.8L911.1 769.0L911.6 768.1L912.1 767.2L912.7 766.3M934.1 739.7L935.1 739.2L936.2 738.8L937.2 738.7L938.3 738.6L939.4 738.8L940.6 739.2L941.8 739.7L942.3 740.0L942.8 740.3L943.4 740.6L943.9 741.0L944.5 741.3L945.1 741.7L945.7 742.2L946.3 742.6L946.9 743.1L947.5 743.6L948.1 744.1L948.8 744.7L949.4 745.2L950.1 745.8L950.7 746.4L951.4 747.0L952.1 747.7L952.8 748.3L953.5 749.0L954.2 749.7L954.9 750.4L955.6 751.1L956.3 751.9L957.0 752.6L957.7 753.4L958.5 754.2L959.2 754.9L959.9 755.7L960.6 756.5L961.4 757.4L962.1 758.2L962.8 759.0L963.5 759.8L964.3 760.7L965.0 761.5L965.7 762.4L966.4 763.2L967.1 764.1L967.8 765.0L968.5 765.8L969.2 766.7L969.9 767.5L970.6 768.4L971.3 769.3L971.9 770.1L972.6 771.0L973.2 771.8L973.9 772.7L974.5 773.5L975.1 774.4L975.7 775.2L976.3 776.0L976.9 776.8L977.6 777.8L977.8 778.1M998.1 807.6L998.8 808.4L999.5 809.2L1000.2 810.0L1000.9 810.8L1001.6 811.6L1002.4 812.4L1003.1 813.1L1003.9 813.9L1004.7 814.7L1005.5 815.4L1006.3 816.2L1007.1 816.9L1007.9 817.6L1008.7 818.3L1009.6 818.9L1010.4 819.6L1011.2 820.2L1012.1 820.9L1012.9 821.4L1013.8 822.0L1014.7 822.6L1015.5 823.1L1016.4 823.6L1017.3 824.0L1018.1 824.5L1019.0 824.9L1019.9 825.2L1020.7 825.6L1021.6 825.9L1022.5 826.1L1023.3 826.4L1024.2 826.5L1025.1 826.7L1026.0 826.8L1027.0 826.9L1027.9 826.9L1028.9 826.9L1029.8 826.8L1030.7 826.7L1031.7 826.5L1032.6 826.3L1033.5 826.1L1034.4 825.8L1035.3 825.5L1036.2 825.1L1037.1 824.7L1038.0 824.3L1038.9 823.8L1039.8 823.3L1040.7 822.8L1041.6 822.3L1042.5 821.7L1043.4 821.1L1044.3 820.5L1045.2 819.8L1046.1 819.1L1046.9 818.4L1047.8 817.7L1048.7 817.0L1049.4 816.4L1049.4 816.4M1076.4 792.9L1077.3 792.4L1078.3 791.8L1079.2 791.3L1080.1 790.8L1081.1 790.3L1082.0 789.9L1083.0 789.4L1083.9 789.0L1084.9 788.7L1085.8 788.3L1086.8 788.0L1087.8 787.7L1088.7 787.4L1089.7 787.1L1090.7 786.9L1091.6 786.7L1092.6 786.5L1093.6 786.3L1094.6 786.2L1095.6 786.1L1096.6 786.0L1097.5 785.9L1098.5 785.9L1099.5 785.8L1100.5 785.8L1101.5 785.8L1102.5 785.9L1103.4 785.9L1104.3 786.0L1105.2 786.1L1106.0 786.2L1106.9 786.3L1107.8 786.5L1108.7 786.6L1109.6 786.8L1110.5 787.0L1111.4 787.2L1112.2 787.5L1113.1 787.7L1114.0 788.0L1114.9 788.3L1115.8 788.6L1116.7 788.9L1117.5 789.2L1118.4 789.5L1119.3 789.9L1120.2 790.3L1121.0 790.7L1121.9 791.1L1122.8 791.5L1123.7 792.0L1124.5 792.4L1125.4 792.9L1126.2 793.4L1127.1 793.9L1128.0 794.5L1128.8 795.0L1129.7 795.6L1130.5 796.1L1131.4 796.7L1132.2 797.3L1133.0 797.9L1133.2 798.1M1160.3 820.3L1161.2 820.9L1162.0 821.4L1162.9 821.9L1163.8 822.5L1164.7 822.9L1165.6 823.4L1166.5 823.8L1167.4 824.3L1168.3 824.7L1169.2 825.0L1170.1 825.4L1171.0 825.8L1171.9 826.1L1172.8 826.4L1173.7 826.7L1174.6 827.0L1175.5 827.2L1176.4 827.5L1177.3 827.7L1178.3 827.9L1179.2 828.1L1180.1 828.3L1181.0 828.5L1182.0 828.6L1182.9 828.7L1183.8 828.9L1184.7 829.0L1185.7 829.0L1186.6 829.1L1187.5 829.2L1188.5 829.2L1189.4 829.2L1190.4 829.3L1191.3 829.3L1192.3 829.2L1193.2 829.2L1194.2 829.2L1195.2 829.1L1196.1 829.0L1197.1 829.0L1198.1 828.9L1199.0 828.8L1200.0 828.7L1201.0 828.5L1202.0 828.4L1203.0 828.2L1204.0 828.1L1205.0 827.9L1206.0 827.7L1207.0 827.5L1208.0 827.3L1209.0 827.1L1210.0 826.9L1211.1 826.6L1212.1 826.4L1213.2 826.1L1214.2 825.9L1215.3 825.6L1216.4 825.3L1217.4 825.0L1218.4 824.7L1219.1 824.5M1251.6 814.5L1252.7 814.2L1253.7 813.9L1254.7 813.6L1255.7 813.4L1256.7 813.2L1257.6 813.1L1258.6 813.0L1259.5 812.9L1260.5 812.8L1261.4 812.8L1262.4 812.8L1263.4 812.9L1264.5 812.9L1265.6 813.1L1266.8 813.3L1267.4 813.4L1268.2 813.5L1268.9 813.7L1269.6 813.8L1270.4 814.0L1271.2 814.2L1272.0 814.4L1272.8 814.6L1273.6 814.8L1274.5 815.1L1275.3 815.3L1276.2 815.6L1277.1 815.8L1278.0 816.1L1278.9 816.4L1279.8 816.7L1280.8 817.0L1281.7 817.3L1282.7 817.6L1283.6 817.9L1284.6 818.2L1285.6 818.6L1286.5 818.9L1287.5 819.3L1288.5 819.6L1289.5 820.0L1290.5 820.3L1291.6 820.7L1292.6 821.1L1293.6 821.4L1294.6 821.8L1295.6 822.2L1296.7 822.6L1297.7 822.9L1298.7 823.3L1299.8 823.7L1300.8 824.1L1301.8 824.5L1302.9 824.8L1303.9 825.2L1304.9 825.6L1305.9 826.0L1306.9 826.4L1307.9 826.7L1309.0 827.1L1310.0 827.5L1310.0 827.5M1344.0 838.0L1345.0 838.2L1345.9 838.3L1346.9 838.5L1347.8 838.6L1348.7 838.7L1349.6 838.8L1350.5 838.8L1351.4 838.9L1352.4 838.9L1353.3 838.9L1354.2 838.9L1355.2 838.9L1356.2 838.9L1357.2 838.8L1358.3 838.8L1359.4 838.7L1360.5 838.6L1361.3 838.6L1362.1 838.5L1362.9 838.4L1363.7 838.4L1364.5 838.3L1365.4 838.2L1366.2 838.1L1367.1 838.0L1368.0 838.0L1368.9 837.9L1369.8 837.8L1370.8 837.7L1371.7 837.6L1372.7 837.5L1373.7 837.4L1374.6 837.3L1375.6 837.2L1376.6 837.1L1377.6 836.9L1378.7 836.8L1379.7 836.7L1380.7 836.6L1381.7 836.5L1382.8 836.4L1383.8 836.3L1384.9 836.2L1385.9 836.1L1386.9 836.0L1388.0 835.8L1389.0 835.7L1390.1 835.6L1391.1 835.5L1392.2 835.4L1393.2 835.3L1394.2 835.2L1395.3 835.1L1396.3 835.0L1397.3 834.9L1398.3 834.8L1399.3 834.7L1400.3 834.6L1401.3 834.5L1402.3 834.5L1403.3 834.4L1404.3 834.3L1404.7 834.3M1439.6 835.2L1440.4 835.4L1441.3 835.5L1442.2 835.6L1443.1 835.8L1444.0 836.0L1444.9 836.1L1445.9 836.3L1446.8 836.4L1447.7 836.6L1448.7 836.8L1449.6 837.0L1450.6 837.2L1451.6 837.4L1452.5 837.6L1453.5 837.7L1454.5 837.9L1455.5 838.2L1456.5 838.4L1457.5 838.6L1458.5 838.8L1459.5 839.0L1460.5 839.2L1461.5 839.4L1462.5 839.6L1463.5 839.8L1464.5 840.1L1465.6 840.3L1466.6 840.5L1467.6 840.7L1468.6 841.0L1469.6 841.2L1470.7 841.4L1471.7 841.6L1472.7 841.8L1473.7 842.1L1474.7 842.3L1475.8 842.5L1476.8 842.7L1477.8 842.9L1478.8 843.1L1479.8 843.4L1480.8 843.6L1481.8 843.8L1482.8 844.0L1483.8 844.2L1484.8 844.4L1485.8 844.6L1486.8 844.8L1487.8 845.0L1488.7 845.1L1489.7 845.3L1490.7 845.5L1491.6 845.7L1492.6 845.9L1493.5 846.0L1494.4 846.2L1495.4 846.3L1496.3 846.5L1497.2 846.6L1498.1 846.8L1499.2 846.9L1499.4 847.0M1534.2 848.5L1535.2 848.5L1536.2 848.4L1537.1 848.4L1538.1 848.4L1539.1 848.3L1540.1 848.3L1541.1 848.2L1542.1 848.2L1543.1 848.1L1544.1 848.1L1545.1 848.0L1546.1 848.0L1547.1 847.9L1548.1 847.9L1549.1 847.8L1550.1 847.8L1551.0 847.7L1552.0 847.7L1553.0 847.6L1554.0 847.6L1555.0 847.6L1556.0 847.5L1557.0 847.5L1558.0 847.4L1558.9 847.4L1559.9 847.4L1560.9 847.3L1561.9 847.3L1562.8 847.3L1563.8 847.3L1564.7 847.2L1565.7 847.2L1566.6 847.2L1567.6 847.2L1568.6 847.2L1569.6 847.2L1570.6 847.2L1571.6 847.2L1572.6 847.2L1573.6 847.2L1574.6 847.3L1575.5 847.3L1576.5 847.3L1577.5 847.4L1578.5 847.4L1579.4 847.4L1580.4 847.5L1581.3 847.5L1582.3 847.6L1583.3 847.7L1584.2 847.7L1585.2 847.8L1586.1 847.8L1587.1 847.9L1588.0 848.0L1589.0 848.1L1589.9 848.1L1590.9 848.2L1591.8 848.3L1592.8 848.4L1593.7 848.5L1594.7 848.6L1595.1 848.6M1629.0 852.5L1629.9 852.6L1630.8 852.7L1631.7 852.8L1632.7 852.9L1633.6 853.0L1634.5 853.1L1635.5 853.2L1636.5 853.3L1637.4 853.4L1638.4 853.5L1639.4 853.6L1640.4 853.7L1641.4 853.8L1642.4 853.9L1643.4 854.0L1644.4 854.1L1645.4 854.2L1646.4 854.3L1647.4 854.4L1648.5 854.4L1649.5 854.5L1650.5 854.6L1651.5 854.7L1652.6 854.8L1653.6 854.9L1654.6 855.0L1655.7 855.1L1656.7 855.2L1657.7 855.3L1658.8 855.3L1659.8 855.4L1660.9 855.5L1661.9 855.6L1662.9 855.7L1663.9 855.8L1665.0 855.8L1666.0 855.9L1667.0 856.0L1668.0 856.1L1669.1 856.2L1670.1 856.2L1671.1 856.3L1672.1 856.4L1673.1 856.4L1674.1 856.5L1675.0 856.6L1676.0 856.6L1677.0 856.7L1678.0 856.8L1678.9 856.8L1679.9 856.9L1680.8 856.9L1681.8 857.0L1682.7 857.0L1683.6 857.1L1684.5 857.1L1685.4 857.2L1686.3 857.2L1687.2 857.3L1688.0 857.3L1688.9 857.3L1689.7 857.4L1689.8 857.4M1725.1 858.0L1726.0 858.0L1726.8 858.1L1727.7 858.1L1728.6 858.1L1729.6 858.2L1730.5 858.2L1731.4 858.2L1732.4 858.3L1733.3 858.3L1734.3 858.3L1735.3 858.4L1736.2 858.4L1737.2 858.5L1738.2 858.5L1739.2 858.6L1740.3 858.6L1741.3 858.7L1742.3 858.7L1743.3 858.8L1744.3 858.8L1745.4 858.9L1746.4 858.9L1747.5 859.0L1748.5 859.1L1749.6 859.1L1750.6 859.2L1751.7 859.2L1752.7 859.3L1753.8 859.4L1754.8 859.4L1755.9 859.5L1756.9 859.6L1758.0 859.6L1759.0 859.7L1760.1 859.8L1761.1 859.8L1762.2 859.9L1763.2 860.0L1764.3 860.0L1765.3 860.1L1766.3 860.2L1767.4 860.2L1768.4 860.3L1769.4 860.4L1770.4 860.5L1771.4 860.5L1772.4 860.6L1773.4 860.7L1774.4 860.7L1775.4 860.8L1776.4 860.9L1777.3 861.0L1778.3 861.0L1779.2 861.1L1780.1 861.2L1781.1 861.2L1782.0 861.3L1782.9 861.4L1783.8 861.5L1784.6 861.5L1785.5 861.6L1786.0 861.6M1820.4 864.3L1821.3 864.4L1822.1 864.4L1823.0 864.4L1823.9 864.5L1824.8 864.5L1825.8 864.6L1826.7 864.6L1827.6 864.7L1828.6 864.7L1829.5 864.8L1830.5 864.8L1831.5 864.8L1832.5 864.9L1833.5 864.9L1834.5 865.0L1835.5 865.0L1836.5 865.0L1837.5 865.1L1838.5 865.1L1839.5 865.2L1840.6 865.2L1841.6 865.2L1842.6 865.3L1843.7 865.3L1844.7 865.3L1845.8 865.4L1846.8 865.4L1847.9 865.4L1848.9 865.5L1850.0 865.5L1851.0 865.5L1852.1 865.6L1853.1 865.6L1854.2 865.6L1855.2 865.7L1856.3 865.7L1857.3 865.7L1858.4 865.8L1859.4 865.8L1860.5 865.8L1861.5 865.9L1862.5 865.9L1863.5 865.9L1864.6 866.0L1865.6 866.0L1866.6 866.0L1867.6 866.1L1868.6 866.1L1869.6 866.1L1870.6 866.2L1871.5 866.2L1872.5 866.2L1873.4 866.3L1874.4 866.3L1875.3 866.3L1876.2 866.3L1877.2 866.4L1878.1 866.4L1879.0 866.4L1879.8 866.5L1880.7 866.5L1881.4 866.5M1916.1 868.2L1916.9 868.3L1917.8 868.3L1918.7 868.4L1919.6 868.4L1920.5 868.5L1921.4 868.5L1922.3 868.6L1923.2 868.6L1924.2 868.7L1925.1 868.7L1926.1 868.8L1927.1 868.9L1928.0 868.9L1929.0 869.0L1930.0 869.0L1931.0 869.1L1932.0 869.1L1933.0 869.2L1934.0 869.3L1935.0 869.3L1936.0 869.4L1937.1 869.4L1938.1 869.5L1939.1 869.6L1940.1 869.6L1941.2 869.7L1942.2 869.7L1943.2 869.8L1944.3 869.9L1945.3 869.9L1946.4 870.0L1947.4 870.0L1948.5 870.1L1949.5 870.2L1950.5 870.2L1951.6 870.3L1952.6 870.3L1953.6 870.4L1954.7 870.4L1955.7 870.5L1956.7 870.5L1957.7 870.6L1958.8 870.7L1959.8 870.7L1960.8 870.8L1961.8 870.8L1962.8 870.9L1963.8 870.9L1964.7 871.0L1965.7 871.0L1966.7 871.1L1967.6 871.1L1968.6 871.1L1969.5 871.2L1970.5 871.2L1971.4 871.3L1972.3 871.3L1973.2 871.3L1974.1 871.4L1975.0 871.4L1975.9 871.5L1976.7 871.5L1977.0 871.5M2012.1 872.3L2013.0 872.3L2013.9 872.3L2014.7 872.4L2015.6 872.4L2016.5 872.4L2017.4 872.4L2018.3 872.5L2019.3 872.5L2020.2 872.5L2021.1 872.5L2022.1 872.6L2023.0 872.6L2024.0 872.6L2025.0 872.7L2026.0 872.7L2026.9 872.7L2027.9 872.7L2028.9 872.8L2029.9 872.8L2030.9 872.8L2032.0 872.9L2033.0 872.9L2034.0 872.9L2035.0 873.0L2036.1 873.0L2037.1 873.0L2038.1 873.1L2039.2 873.1L2040.2 873.2L2041.2 873.2L2042.3 873.2L2043.3 873.3L2044.4 873.3L2045.4 873.3L2046.5 873.4L2047.5 873.4L2048.6 873.5L2049.6 873.5L2050.7 873.5L2051.7 873.6L2052.7 873.6L2053.8 873.7L2054.8 873.7L2055.8 873.8L2056.9 873.8L2057.9 873.8L2058.9 873.9L2059.9 873.9L2060.9 874.0L2062.0 874.0L2063.0 874.1L2064.0 874.1L2064.9 874.1L2065.9 874.2L2066.9 874.2L2067.9 874.3L2068.8 874.3L2069.8 874.4L2070.7 874.4L2071.7 874.5L2072.6 874.5L2073.1 874.5M2108.0 876.5L2109.0 876.6L2110.0 876.6L2110.9 876.7L2111.9 876.7L2112.8 876.8L2113.8 876.9L2114.7 876.9L2115.7 877.0L2116.6 877.0L2117.5 877.1L2118.5 877.1L2119.4 877.2L2120.4 877.2L2121.3 877.3L2122.3 877.4L2123.3 877.4L2124.2 877.5L2125.2 877.5L2126.2 877.6L2127.2 877.6L2128.2 877.7L2129.2 877.7L2130.3 877.8L2131.3 877.8L2132.4 877.9L2133.5 877.9" fill="none" stroke="#000" stroke-width="5.3" stroke-linejoin="round"/><path d="M274.5 905.5L321.8 905.5M330.8 913.8L330.8 913.8L330.8 914.8L330.9 915.7L330.9 916.7L330.9 917.6L330.9 918.6L331.0 919.6L331.0 920.5L331.0 921.5L331.1 922.5L331.1 923.5L331.1 924.5L331.1 925.5L331.2 926.5L331.2 926.8M331.6 943.8L331.6 944.4L331.6 945.3L331.6 946.2L331.7 947.1L331.7 948.0L331.7 948.9L331.7 949.8L331.7 950.8L331.8 951.7L331.8 952.6L331.8 953.6L331.8 954.5L331.8 955.4L331.9 956.4L331.9 957.3L331.9 958.3L331.9 959.2L331.9 960.2L332.0 961.2L332.0 962.2L332.0 963.1L332.0 964.1L332.0 965.1L332.1 966.1L332.1 967.1L332.1 968.1L332.1 969.1L332.2 970.1L332.2 971.1L332.2 972.1L332.2 973.2L332.3 974.2L332.3 975.2L332.3 976.2L332.3 977.3L332.4 978.3L332.4 979.4L332.4 980.4L332.4 981.5L332.5 982.6L332.5 983.6L332.5 984.7L332.5 985.8L332.6 986.9L332.6 988.0L332.6 989.1L332.7 990.2L332.7 991.3L332.7 992.4L332.7 992.8M333.2 1009.8L333.2 1010.7L333.3 1011.6L333.3 1012.6L333.3 1013.6L333.3 1014.6L333.4 1015.6L333.4 1016.6L333.4 1017.6L333.5 1018.6L333.5 1019.6L333.5 1020.6L333.5 1021.6L333.6 1022.6L333.6 1022.8M334.1 1039.8L334.1 1040.7L334.2 1041.7L334.2 1042.7L334.2 1043.8L334.3 1044.8L334.3 1045.8L334.3 1046.8L334.4 1047.8L334.4 1048.8L334.4 1049.8L334.5 1050.8L334.5 1051.8L334.5 1052.8L334.6 1053.8L334.6 1054.8L334.6 1055.8L334.6 1056.7L334.7 1057.7L334.7 1058.7L334.7 1059.7L334.8 1060.7L334.8 1061.7L334.8 1062.6L334.9 1063.6L334.9 1064.6L334.9 1065.6L335.0 1066.5L335.0 1067.5L335.0 1068.6L335.1 1069.7L335.1 1070.8L335.1 1071.9L335.2 1073.0L335.2 1074.1L335.2 1075.2L335.3 1076.3L335.3 1077.4L335.3 1078.4L335.4 1079.5L335.4 1080.6L335.4 1081.6L335.5 1082.7L335.5 1083.7L335.5 1084.8L335.6 1085.8L335.6 1086.9L335.6 1087.9L335.6 1088.7M336.2 1105.7L336.2 1106.6L336.3 1107.6L336.3 1108.5L336.4 1109.4L336.4 1110.3L336.4 1111.2L336.5 1112.1L336.5 1113.0L336.5 1113.9L336.6 1114.8L336.6 1115.7L336.6 1116.5L336.7 1117.4L336.7 1118.3L336.7 1118.7M337.6 1135.7L337.6 1136.6L337.7 1137.6L337.7 1138.6L337.8 1139.6L337.9 1140.5L337.9 1141.5L338.0 1142.5L338.0 1143.5L338.1 1144.4L338.2 1145.4L338.2 1146.4L338.3 1147.4L338.3 1148.4L338.4 1149.4L338.5 1150.4L338.5 1151.4L338.6 1152.4L338.6 1153.4L338.7 1154.4L338.8 1155.4L338.8 1156.3L338.9 1157.2L338.9 1158.1L339.0 1158.9L339.0 1159.8L339.1 1160.7L339.1 1161.6L339.2 1162.5L339.2 1163.4L339.3 1164.4L339.3 1165.3L339.4 1166.2L339.4 1167.1L339.5 1168.1L339.5 1169.0L339.6 1169.9L339.7 1170.9L339.7 1171.8L339.8 1172.8L339.8 1173.8L339.9 1174.7L339.9 1175.7L340.0 1176.6L340.1 1177.6L340.1 1178.6L340.2 1179.6L340.2 1180.5L340.3 1181.5L340.4 1182.5L340.4 1183.5L340.5 1184.5L340.5 1184.6M341.7 1201.6L341.8 1202.6L341.9 1203.6L341.9 1204.6L342.0 1205.6L342.1 1206.6L342.2 1207.6L342.3 1208.6L342.4 1209.6L342.4 1210.6L342.5 1211.7L342.6 1212.7L342.7 1213.7L342.8 1214.5M344.4 1231.5L344.4 1231.9L344.5 1232.9L344.6 1234.0L344.7 1235.0L344.8 1236.0L344.9 1237.0L345.0 1238.0L345.1 1239.1L345.2 1240.1L345.3 1241.1L345.4 1242.1L345.5 1243.1L345.6 1244.2L345.7 1245.2L345.8 1246.2L345.9 1247.2L346.1 1248.3L346.2 1249.3L346.3 1250.4L346.4 1251.4L346.5 1252.5L346.6 1253.6L346.7 1254.6L346.8 1255.6L346.9 1256.7L347.0 1257.7L347.1 1258.8L347.2 1259.8L347.3 1260.8L347.4 1261.9L347.5 1262.9L347.6 1263.9L347.7 1264.9L347.8 1265.9L347.9 1266.9L348.0 1267.9L348.1 1268.9L348.2 1269.9L348.3 1270.9L348.4 1271.8L348.5 1272.8L348.6 1273.7L348.7 1274.7L348.8 1275.6L348.9 1276.5L348.9 1277.4L349.0 1278.3L349.1 1279.2L349.2 1280.1L349.2 1280.2M351.1 1297.1L351.2 1298.1L351.3 1299.1L351.4 1300.1L351.5 1301.2L351.6 1302.2L351.7 1303.2L351.8 1304.2L351.8 1305.0L351.9 1305.8L352.0 1306.6L352.0 1307.4L352.1 1308.2L352.1 1309.0L352.2 1309.9L352.2 1310.1M353.1 1327.0L353.2 1327.9L353.3 1328.8L353.3 1329.6L353.4 1330.5L353.4 1331.4L353.5 1332.3L353.6 1333.3L353.6 1334.2L353.7 1335.2L353.8 1336.1L353.8 1337.1L353.9 1338.1L354.0 1339.0L354.1 1340.0L354.1 1341.0L354.2 1342.0L354.3 1343.0L354.4 1344.0L354.5 1345.1L354.5 1346.1L354.6 1347.1L354.7 1348.1L354.8 1349.2L354.9 1350.2L355.0 1351.2L355.1 1352.3L355.2 1353.3L355.2 1354.3L355.3 1355.4L355.4 1356.4L355.5 1357.4L355.6 1358.5L355.7 1359.5L355.8 1360.5L355.9 1361.5L356.0 1362.5L356.1 1363.5L356.2 1364.5L356.3 1365.5L356.4 1366.5L356.5 1367.5L356.6 1368.4L356.7 1369.4L356.8 1370.4L356.9 1371.3L357.0 1372.2L357.1 1373.1L357.2 1374.0L357.3 1374.9L357.4 1375.8L357.4 1375.8M361.2 1392.0L361.4 1391.6L361.9 1390.8L362.4 1390.0L362.9 1389.2L363.5 1388.2L364.1 1387.2L364.5 1386.6L364.8 1386.0L365.2 1385.4L365.6 1384.7L366.0 1384.0L366.4 1383.3L366.8 1382.5L367.2 1381.8L367.6 1381.0L367.8 1380.7M374.3 1363.7L374.5 1362.8L374.8 1361.8L375.0 1360.8L375.2 1359.8L375.4 1358.8L375.6 1357.8L375.8 1356.8L376.0 1355.8L376.2 1354.7L376.4 1353.7L376.6 1352.6L376.7 1351.5L376.9 1350.5L377.1 1349.4L377.2 1348.3L377.4 1347.2L377.5 1346.2L377.7 1345.1L377.8 1344.0L377.9 1342.9L378.1 1341.8L378.2 1340.7L378.3 1339.7L378.4 1338.6L378.5 1337.5L378.6 1336.5L378.7 1335.4L378.8 1334.4L378.9 1333.3L379.0 1332.3L379.1 1331.3L379.2 1330.3L379.3 1329.3L379.4 1328.3L379.5 1327.4L379.5 1326.4L379.6 1325.5L379.7 1324.6L379.8 1323.7L379.8 1322.8L379.9 1322.0L380.0 1321.1L380.0 1320.3L380.1 1319.5L380.2 1318.7L380.3 1318.0L380.3 1317.3L380.4 1316.2L380.5 1315.2M382.6 1298.3L382.7 1297.6L382.8 1296.7L382.9 1295.8L383.0 1294.9L383.1 1293.9L383.2 1293.0L383.3 1292.0L383.4 1291.0L383.5 1289.9L383.6 1288.9L383.7 1287.8L383.8 1286.7L383.9 1285.6L383.9 1285.4M385.5 1268.5L385.6 1267.6L385.7 1266.6L385.8 1265.7L385.8 1264.7L385.9 1263.8L386.0 1262.8L386.1 1261.9L386.2 1260.9L386.3 1260.0L386.3 1259.0L386.4 1258.0L386.5 1257.1L386.6 1256.1L386.7 1255.1L386.8 1254.1L386.9 1253.2L386.9 1252.2L387.0 1251.2L387.1 1250.2L387.2 1249.2L387.3 1248.3L387.4 1247.3L387.5 1246.3L387.5 1245.3L387.6 1244.3L387.7 1243.4L387.8 1242.4L387.9 1241.4L388.0 1240.4L388.1 1239.4L388.2 1238.5L388.2 1237.5L388.3 1236.5L388.4 1235.6L388.5 1234.6L388.6 1233.6L388.7 1232.7L388.8 1231.7L388.8 1230.8L388.9 1229.8L389.0 1228.9L389.1 1227.9L389.2 1227.0L389.3 1226.1L389.4 1225.2L389.4 1224.2L389.5 1223.3L389.6 1222.4L389.7 1221.5L389.8 1220.6L389.9 1219.7L389.9 1219.7M391.4 1204.4L391.4 1204.0L391.5 1203.0L391.6 1202.0L391.7 1201.0L391.8 1200.1L391.9 1199.1L392.1 1198.1L392.2 1197.2L392.3 1196.2L392.4 1195.2L392.5 1194.2L392.6 1193.3L392.7 1192.3L392.8 1191.5M394.3 1175.3L394.4 1174.4L394.5 1173.5L394.6 1172.6L394.7 1171.7L394.7 1170.8L394.8 1169.8L394.9 1168.9L395.0 1168.0L395.1 1167.0L395.1 1166.1L395.2 1165.1L395.3 1164.1L395.4 1163.1L395.5 1162.1L395.5 1161.1L395.6 1160.1L395.7 1159.1L395.8 1158.1L395.9 1157.1L396.0 1156.1L396.0 1155.1L396.1 1154.0L396.2 1153.0L396.3 1152.0L396.4 1150.9L396.5 1149.9L396.5 1148.9L396.6 1147.8L396.7 1146.8L396.8 1145.8L396.9 1144.7L397.0 1143.7L397.1 1142.6L397.1 1141.6L397.2 1140.6L397.3 1139.5L397.4 1138.5L397.5 1137.5L397.6 1136.4L397.6 1135.4L397.7 1134.4L397.8 1133.4L397.9 1132.4L398.0 1131.4L398.1 1130.4L398.2 1129.4L398.2 1128.4L398.3 1127.4L398.4 1126.4L398.4 1126.4M400.0 1110.3L400.1 1109.4L400.2 1108.2L400.3 1107.1L400.5 1106.0L400.6 1105.0L400.7 1104.0L400.9 1102.9L401.0 1101.9L401.1 1101.0L401.2 1100.0L401.4 1099.0L401.5 1098.1L401.6 1097.4M403.8 1081.0L403.9 1080.2L404.0 1079.3L404.2 1078.5L404.3 1077.7L404.4 1076.8L404.5 1075.9L404.6 1075.0L404.7 1074.1L404.8 1073.2L404.9 1072.3L405.0 1071.3L405.1 1070.4L405.2 1069.4L405.3 1068.4L405.4 1067.5L405.5 1066.5L405.6 1065.5L405.8 1064.5L405.9 1063.5L406.0 1062.5L406.1 1061.4L406.2 1060.4L406.3 1059.4L406.4 1058.4L406.5 1057.3L406.6 1056.3L406.7 1055.2L406.8 1054.2L406.9 1053.1L407.0 1052.1L407.2 1051.0L407.3 1050.0L407.4 1048.9L407.5 1047.9L407.6 1046.8L407.7 1045.8L407.8 1044.7L407.9 1043.7L408.0 1042.6L408.1 1041.6L408.2 1040.6L408.3 1039.5L408.4 1038.5L408.5 1037.5L408.6 1036.5L408.6 1035.5L408.7 1034.4L408.8 1033.4L408.9 1032.5L408.9 1032.3M410.3 1016.1L410.4 1015.1L410.4 1014.1L410.5 1013.1L410.6 1012.1L410.7 1011.1L410.7 1010.2L410.8 1009.2L410.9 1008.3L410.9 1007.4L411.0 1006.4L411.1 1005.5L411.1 1004.6L411.2 1003.7L411.2 1003.1M412.6 986.6L412.6 985.7L412.7 984.9L412.8 984.0L412.9 983.1L413.0 982.3L413.0 981.4L413.1 980.4L413.2 979.5L413.3 978.6L413.4 977.7L413.5 976.7L413.6 975.8L413.7 974.8L413.7 973.8L413.8 972.8L413.9 971.8L414.0 970.8L414.1 969.8L414.2 968.8L414.3 967.8L414.4 966.8L414.5 965.8L414.6 964.7L414.7 963.7L414.8 962.7L414.9 961.6L415.0 960.6L415.1 959.5L415.2 958.5L415.3 957.4L415.4 956.4L415.5 955.3L415.6 954.3L415.7 953.2L415.8 952.2L415.9 951.1L416.0 950.1L416.1 949.0L416.2 948.0L416.3 946.9L416.4 945.9L416.5 944.9L416.6 943.8L416.6 942.8L416.7 941.8L416.8 940.8L416.9 939.8L417.0 938.7L417.1 937.8M418.2 921.6L418.2 921.3L418.2 920.5L418.3 919.3L418.3 918.1L418.4 916.9L418.4 915.8L418.4 914.7L418.4 913.6L418.5 912.6L418.5 911.5L418.5 910.5L418.5 909.5L418.5 908.6M418.7 892.0L418.7 891.2L418.7 890.4L418.8 889.6L418.8 888.7L418.9 887.9L418.9 887.0L419.0 886.2L419.0 885.3L419.1 884.4L419.1 883.5L419.2 882.6L419.2 881.7L419.3 880.8L419.4 879.8L419.5 878.9L419.5 877.9L419.6 877.0L419.7 876.0L419.8 875.1L419.8 874.1L419.9 873.1L420.0 872.1L420.1 871.1L420.2 870.1L420.3 869.1L420.4 868.1L420.5 867.1L420.6 866.1L420.7 865.1L420.8 864.1L420.9 863.0L421.0 862.0L421.1 861.0L421.2 860.0L421.3 858.9L421.4 857.9L421.5 856.9L421.6 855.8L421.8 854.8L421.9 853.8L422.0 852.7L422.1 851.7L422.2 850.7L422.3 849.6L422.5 848.6L422.6 847.6L422.7 846.6L422.8 845.6L422.9 844.6L423.1 843.5L423.1 843.2M425.2 826.9L425.3 826.7L425.4 825.7L425.5 824.7L425.7 823.7L425.8 822.7L426.0 821.7L426.1 820.7L426.2 819.7L426.4 818.7L426.5 817.7L426.7 816.7L426.8 815.7L426.9 814.7L427.0 814.0M429.4 797.4L429.5 796.5L429.6 795.6L429.7 794.6L429.9 793.7L430.0 792.8L430.1 791.8L430.2 790.9L430.4 790.0L430.5 789.0L430.6 788.1L430.7 787.2L430.8 786.3L430.9 785.3L431.1 784.4L431.2 783.4L431.3 782.5L431.4 781.6L431.5 780.6L431.6 779.7L431.7 778.8L431.8 777.8L432.0 776.9L432.1 775.9L432.2 775.0L432.3 774.0L432.4 773.1L432.5 772.1L432.6 771.2L432.7 770.2L432.8 769.2L432.9 768.3L432.9 767.3L433.0 766.3L433.1 765.3L433.2 764.4L433.3 763.4L433.4 762.4L433.5 761.4L433.6 760.4L433.6 759.4L433.7 758.4L433.8 757.4L433.9 756.4L433.9 755.4L434.0 754.4L434.1 753.5L434.1 752.6L434.2 751.6L434.3 750.7L434.3 749.7L434.4 748.8L434.4 748.7M435.3 732.4L435.3 732.2L435.4 731.2L435.5 730.2L435.5 729.2L435.6 728.2L435.7 727.2L435.7 726.2L435.8 725.2L435.9 724.2L435.9 723.2L436.0 722.2L436.1 721.1L436.2 720.1L436.2 719.4M438.0 702.8L438.1 701.8L438.3 700.7L438.4 699.7L438.6 698.6L438.7 697.6L438.9 696.5L439.0 695.4L439.2 694.4L439.4 693.3L439.6 692.3L439.7 691.3L439.9 690.2L440.1 689.2L440.3 688.1L440.5 687.1L440.7 686.1L440.8 685.1L441.0 684.0L441.2 683.0L441.4 682.0L441.6 681.0L441.8 680.0L442.0 679.0L442.2 678.0L442.4 677.0L442.6 676.0L442.8 675.1L443.0 674.1L443.2 673.1L443.4 672.2L443.6 671.2L443.8 670.3L443.9 669.4L444.1 668.4L444.3 667.5L444.5 666.6L444.7 665.7L444.9 664.8L445.1 663.9L445.2 663.0L445.4 662.2L445.6 661.3L445.8 660.4L445.9 659.6L446.1 658.8L446.3 657.9L446.4 657.1L446.6 656.3L446.7 655.5L446.9 654.7M449.5 637.8L449.6 637.1L449.7 636.2L449.8 635.3L449.9 634.4L450.0 633.5L450.1 632.7L450.2 631.8L450.3 630.9L450.4 630.0L450.5 629.2L450.6 628.3L450.7 627.4L450.8 626.5L450.9 625.6L450.9 624.9M453.0 608.0L453.1 607.1L453.2 606.2L453.4 605.3L453.5 604.4L453.6 603.5L453.8 602.6L453.9 601.6L454.1 600.6L454.2 599.7L454.4 598.7L454.5 597.7L454.7 596.7L454.8 595.8L455.0 594.8L455.1 593.8L455.3 592.7L455.5 591.7L455.6 590.7L455.8 589.7L456.0 588.7L456.1 587.7L456.3 586.6L456.5 585.6L456.7 584.6L456.8 583.6L457.0 582.6L457.2 581.5L457.4 580.5L457.6 579.5L457.7 578.5L457.9 577.5L458.1 576.5L458.3 575.5L458.5 574.5L458.7 573.5L458.8 572.6L459.0 571.6L459.2 570.7L459.4 569.7L459.6 568.8L459.8 567.8L460.0 566.9L460.1 566.0L460.3 565.1L460.5 564.2L460.7 563.4L460.9 562.5L461.1 561.7L461.3 560.5L461.5 559.8M465.5 544.5L465.7 543.8L465.9 542.9L466.2 542.0L466.5 541.1L466.7 540.2L467.0 539.3L467.3 538.5L467.5 537.6L467.8 536.7L468.1 535.9L468.4 535.0L468.6 534.1L468.9 533.3L469.2 532.4L469.3 532.1M474.6 516.5L474.9 515.5L475.3 514.5L475.7 513.5L476.0 512.5L476.4 511.6L476.8 510.6L477.2 509.6L477.6 508.7L477.9 507.8L478.3 506.8L478.7 505.9L479.1 505.0L479.5 504.1L479.9 503.2L480.3 502.4L480.6 501.5L481.0 500.7L481.4 499.9L481.8 499.1L482.3 498.1L482.8 497.1L483.3 496.2L483.9 495.3L484.4 494.4L484.9 493.6L485.4 492.7L486.0 491.9L486.6 491.2L487.1 490.5L487.7 489.8L488.4 489.0L489.0 488.4L489.7 487.7L490.4 487.1L491.2 486.5L492.0 486.0L492.8 485.5L493.6 485.1L494.4 484.6L495.3 484.3L496.2 484.0L497.1 483.7L498.0 483.5L498.9 483.3L499.9 483.2L500.9 483.1L501.9 483.1L502.9 483.2L504.0 483.3L504.7 483.5M519.9 493.6L520.4 494.1L521.1 494.9L521.8 495.6L522.4 496.4L523.1 497.1L523.7 497.9L524.3 498.7L525.0 499.4L525.6 500.2L526.1 501.0L526.7 501.8L527.3 502.6L527.8 503.4L528.1 503.7M537.2 518.9L537.7 519.6L538.1 520.4L538.5 521.2L539.0 521.9L539.4 522.7L539.9 523.5L540.4 524.4L540.8 525.2L541.3 526.0L541.8 526.8L542.2 527.7L542.7 528.5L543.2 529.4L543.7 530.3L544.2 531.1L544.7 532.0L545.1 532.9L545.6 533.8L546.1 534.6L546.6 535.5L547.1 536.4L547.6 537.3L548.1 538.2L548.6 539.1L549.1 540.0L549.6 540.9L550.1 541.8L550.6 542.7L551.1 543.6L551.6 544.5L552.1 545.4L552.5 546.2L553.0 547.1L553.5 548.0L554.0 548.9L554.4 549.8L554.9 550.6L555.4 551.5L555.8 552.4L556.3 553.2L556.7 554.1L557.2 554.9L557.6 555.7L558.0 556.5L558.4 557.4L558.9 558.2L559.3 559.0L559.7 559.8L560.1 560.5L560.6 561.6L560.7 561.9M567.8 577.1L567.9 577.3L568.3 578.1L568.6 579.0L569.0 579.8L569.3 580.6L569.6 581.4L570.0 582.2L570.3 583.0L570.7 583.8L571.0 584.6L571.3 585.4L571.7 586.2L572.0 587.1L572.4 587.9L572.7 588.7L572.9 589.1M579.8 604.5L580.2 605.3L580.6 606.1L581.0 606.9L581.4 607.8L581.8 608.6L582.2 609.4L582.7 610.3L583.1 611.1L583.5 612.0L584.0 612.9L584.4 613.8L584.9 614.7L585.3 615.5L585.8 616.4L586.3 617.4L586.7 618.3L587.2 619.2L587.7 620.1L588.2 621.0L588.6 622.0L589.1 622.9L589.6 623.8L590.1 624.7L590.6 625.7L591.1 626.6L591.5 627.5L592.0 628.5L592.5 629.4L593.0 630.3L593.5 631.2L594.0 632.2L594.4 633.1L594.9 634.0L595.4 634.9L595.9 635.8L596.3 636.7L596.8 637.6L597.2 638.5L597.7 639.4L598.1 640.2L598.6 641.1L599.0 642.0L599.4 642.8L599.9 643.6L600.3 644.5L600.7 645.3L601.1 646.1L601.5 646.9L602.0 647.9L602.1 648.2M609.4 663.6L609.7 664.2L610.1 665.0L610.5 665.8L610.8 666.6L611.2 667.4L611.5 668.2L611.9 669.0L612.3 669.8L612.7 670.6L613.0 671.4L613.4 672.2L613.8 673.0L614.2 673.8L614.6 674.6L615.0 675.4M623.0 690.4L623.4 691.2L623.9 691.9L624.3 692.7L624.8 693.5L625.3 694.3L625.8 695.1L626.2 695.9L626.7 696.8L627.2 697.6L627.7 698.4L628.2 699.3L628.8 700.1L629.3 701.0L629.8 701.8L630.3 702.7L630.9 703.6L631.4 704.4L631.9 705.3L632.5 706.2L633.0 707.1L633.6 707.9L634.1 708.8L634.7 709.7L635.2 710.6L635.8 711.5L636.3 712.3L636.9 713.2L637.4 714.1L638.0 714.9L638.5 715.8L639.1 716.6L639.6 717.5L640.2 718.3L640.7 719.2L641.2 720.0L641.8 720.9L642.3 721.7L642.8 722.5L643.3 723.3L643.9 724.1L644.4 724.9L644.9 725.6L645.4 726.4L645.9 727.1L646.3 727.9L646.8 728.6L647.3 729.3L647.7 730.0L648.2 730.7L648.9 731.7L649.0 731.9M658.3 745.7L658.3 745.8L658.9 746.6L659.4 747.3L659.9 748.1L660.3 748.8L660.8 749.5L661.2 750.1L661.7 750.8L662.1 751.5L662.6 752.2L663.1 752.9L663.5 753.7L664.0 754.4L664.5 755.1L665.0 755.9L665.4 756.5M675.4 770.0L676.0 770.7L676.6 771.4L677.2 772.1L677.8 772.9L678.4 773.6L679.0 774.3L679.6 775.0L680.3 775.8L680.9 776.5L681.5 777.3L682.2 778.0L682.9 778.8L683.5 779.5L684.2 780.3L684.9 781.0L685.6 781.8L686.3 782.6L686.9 783.3L687.6 784.1L688.3 784.9L689.0 785.6L689.7 786.4L690.4 787.1L691.1 787.9L691.9 788.7L692.6 789.4L693.3 790.2L694.0 790.9L694.7 791.7L695.4 792.4L696.1 793.2L696.8 793.9L697.5 794.6L698.2 795.4L698.9 796.1L699.6 796.8L700.3 797.5L701.0 798.2L701.6 798.9L702.3 799.6L703.0 800.3L703.6 801.0L704.3 801.6L704.9 802.3L705.6 802.9L706.2 803.6L706.8 804.2L707.5 804.8L708.1 805.5L708.6 806.0M720.7 817.6L721.1 818.0L721.8 818.6L722.4 819.2L723.1 819.7L723.7 820.3L724.4 820.8L725.1 821.4L725.7 821.9L726.4 822.5L727.1 823.0L727.8 823.6L728.5 824.1L729.2 824.7L729.9 825.2L730.7 825.8L730.8 825.8M744.7 835.3L745.4 835.8L746.2 836.3L746.9 836.7L747.7 837.2L748.5 837.7L749.3 838.2L750.1 838.7L750.9 839.2L751.7 839.7L752.5 840.2L753.3 840.8L754.2 841.3L755.0 841.8L755.9 842.3L756.8 842.9L757.6 843.4L758.5 843.9L759.4 844.4L760.3 845.0L761.2 845.5L762.0 846.0L762.9 846.6L763.8 847.1L764.7 847.6L765.6 848.2L766.5 848.7L767.4 849.2L768.3 849.8L769.2 850.3L770.1 850.8L771.0 851.3L771.9 851.8L772.8 852.3L773.7 852.8L774.6 853.3L775.5 853.8L776.4 854.3L777.2 854.8L778.1 855.3L779.0 855.7L779.8 856.2L780.7 856.7L781.5 857.1L782.3 857.5L783.2 858.0L784.0 858.4L784.8 858.8L785.6 859.2L786.3 859.6L787.0 860.0M803.0 866.8L803.2 866.9L804.0 867.2L804.9 867.5L805.7 867.7L806.5 868.0L807.3 868.3L808.2 868.6L809.0 868.9L809.8 869.1L810.6 869.4L811.5 869.7L812.3 870.0L813.1 870.2L814.0 870.5L814.8 870.8L815.3 870.9M831.7 875.9L832.5 876.1L833.4 876.4L834.2 876.6L835.1 876.9L836.0 877.1L836.9 877.4L837.8 877.6L838.7 877.9L839.7 878.1L840.6 878.4L841.6 878.7L842.5 878.9L843.5 879.2L844.5 879.5L845.4 879.7L846.4 880.0L847.4 880.3L848.4 880.6L849.4 880.8L850.4 881.1L851.4 881.4L852.4 881.6L853.4 881.9L854.4 882.2L855.4 882.4L856.4 882.7L857.5 883.0L858.5 883.2L859.5 883.5L860.5 883.7L861.5 884.0L862.5 884.3L863.5 884.5L864.5 884.8L865.4 885.0L866.4 885.2L867.4 885.5L868.4 885.7L869.3 886.0L870.3 886.2L871.2 886.4L872.2 886.6L873.1 886.9L874.0 887.1L874.9 887.3L875.8 887.5L876.7 887.7L877.6 887.9L878.4 888.1L879.1 888.2M895.6 891.1L895.9 891.2L896.8 891.3L897.7 891.4L898.6 891.5L899.5 891.6L900.4 891.7L901.2 891.8L902.1 891.9L903.0 892.0L903.9 892.1L904.7 892.2L905.6 892.3L906.5 892.4L907.4 892.4L908.3 892.5L908.5 892.5M925.3 894.0L926.1 894.1L926.9 894.2L927.8 894.3L928.6 894.4L929.5 894.4L930.4 894.5L931.3 894.6L932.2 894.7L933.1 894.8L934.0 894.9L934.9 895.0L935.8 895.1L936.8 895.2L937.7 895.3L938.7 895.4L939.6 895.5L940.6 895.7L941.6 895.8L942.6 895.9L943.6 896.0L944.6 896.1L945.6 896.2L946.6 896.3L947.6 896.4L948.6 896.6L949.6 896.7L950.6 896.8L951.7 896.9L952.7 897.0L953.7 897.2L954.8 897.3L955.8 897.4L956.8 897.5L957.9 897.6L958.9 897.7L960.0 897.9L961.0 898.0L962.0 898.1L963.1 898.2L964.1 898.3L965.2 898.4L966.2 898.6L967.2 898.7L968.3 898.8L969.3 898.9L970.3 899.0L971.4 899.1L972.4 899.2L973.4 899.3L974.0 899.4M990.9 901.1L991.4 901.1L992.4 901.2L993.4 901.3L994.4 901.4L995.4 901.4L996.3 901.5L997.3 901.6L998.3 901.7L999.3 901.8L1000.2 901.8L1001.2 901.9L1002.2 902.0L1003.1 902.1L1003.8 902.1M1020.8 903.2L1021.8 903.2L1022.8 903.3L1023.7 903.3L1024.7 903.4L1025.7 903.4L1026.7 903.5L1027.7 903.5L1028.7 903.6L1029.7 903.6L1030.7 903.7L1031.7 903.7L1032.7 903.8L1033.6 903.8L1034.6 903.8L1035.6 903.9L1036.6 903.9L1037.6 904.0L1038.6 904.0L1039.6 904.0L1040.6 904.1L1041.6 904.1L1042.6 904.1L1043.6 904.2L1044.6 904.2L1045.6 904.2L1046.6 904.3L1047.6 904.3L1048.6 904.3L1049.6 904.3L1050.6 904.4L1051.6 904.4L1052.6 904.4L1053.5 904.5L1054.5 904.5L1055.5 904.5L1056.5 904.5L1057.5 904.5L1058.4 904.6L1059.4 904.6L1060.4 904.6L1061.3 904.6L1062.3 904.7L1063.3 904.7L1064.2 904.7L1065.2 904.7L1066.1 904.7L1067.1 904.8L1068.0 904.8L1069.0 904.8L1069.8 904.8M1086.7 905.0L1086.9 905.0L1087.8 905.0L1088.7 905.0L1089.7 905.0L1090.6 905.1L1091.6 905.1L1092.6 905.1L1093.5 905.1L1094.5 905.1L1095.5 905.1L1096.5 905.1L1097.4 905.1L1098.4 905.1L1099.4 905.1L1099.7 905.1M1116.6 905.2L1117.4 905.2L1118.2 905.2L1119.1 905.2L1119.9 905.2L1120.8 905.2L1121.6 905.2L1122.5 905.2L1123.3 905.2L1124.2 905.2L1125.1 905.2L1125.9 905.2L1126.8 905.2L1127.7 905.2L1128.6 905.3L1129.5 905.3L1130.4 905.3L1131.3 905.3L1132.2 905.3L1133.2 905.3L1134.1 905.3L1135.0 905.3L1135.9 905.3L1136.9 905.3L1137.8 905.3L1138.8 905.3L1139.7 905.3L1140.7 905.3L1141.6 905.3L1142.6 905.3L1143.6 905.3L1144.5 905.3L1145.5 905.3L1146.5 905.3L1147.5 905.3L1148.5 905.3L1149.5 905.3L1150.5 905.3L1151.5 905.3L1152.5 905.3L1153.5 905.3L1154.5 905.3L1155.5 905.3L1156.5 905.4L1157.5 905.4L1158.5 905.4L1159.5 905.4L1160.6 905.4L1161.6 905.4L1162.6 905.4L1163.6 905.4L1164.7 905.4L1165.6 905.4M1182.3 905.4L1182.5 905.4L1183.6 905.4L1184.6 905.4L1185.7 905.4L1186.7 905.4L1187.8 905.4L1188.9 905.4L1189.9 905.5L1191.0 905.5L1192.1 905.5L1193.1 905.5L1194.2 905.5L1195.2 905.5L1195.3 905.5M1212.2 905.5L1213.2 905.5L1214.2 905.5L1215.3 905.5L1216.3 905.5L1217.4 905.5L1218.4 905.5L1219.5 905.5L1220.5 905.5L1221.5 905.5L1222.6 905.5L1223.6 905.5L1224.6 905.5L1225.7 905.5L1226.7 905.5L1227.7 905.5L1228.8 905.5L1229.8 905.5L1230.8 905.5L1231.8 905.5L1232.8 905.5L1233.9 905.5L1234.9 905.5L1235.9 905.5L1236.9 905.5L1237.9 905.5L1239.0 905.5L1240.0 905.5L1241.0 905.5L1242.0 905.5L1243.0 905.5L1244.0 905.5L1245.0 905.5L1246.0 905.5L1247.1 905.5L1248.1 905.5L1249.1 905.5L1250.1 905.5L1251.1 905.5L1252.1 905.5L1253.1 905.5L1254.1 905.5L1255.1 905.5L1256.1 905.5L1257.1 905.5L1258.1 905.5L1259.1 905.5L1260.1 905.5L1261.1 905.5L1261.2 905.5M1278.4 905.5L1278.9 905.5L1279.9 905.5L1280.9 905.5L1281.9 905.5L1282.9 905.5L1283.9 905.5L1284.8 905.5L1285.8 905.5L1286.8 905.5L1287.8 905.5L1288.8 905.5L1289.8 905.5L1290.8 905.5L1291.4 905.5M1308.5 905.5L1309.5 905.5L1310.4 905.5L1311.4 905.5L1312.4 905.5L1313.4 905.5L1314.4 905.5L1315.4 905.5L1316.4 905.5L1317.4 905.5L1318.3 905.5L1319.3 905.5L1320.3 905.5L1321.3 905.5L1322.3 905.5L1323.3 905.5L1324.3 905.5L1325.3 905.5L1326.2 905.5L1327.2 905.5L1328.2 905.5L1329.2 905.5L1330.2 905.5L1331.2 905.5L1332.2 905.5L1333.2 905.5L1334.2 905.5L1335.2 905.5L1336.1 905.5L1337.1 905.5L1338.1 905.5L1339.1 905.5L1340.1 905.5L1341.1 905.5L1342.1 905.5L1343.1 905.5L1344.1 905.5L1345.1 905.5L1346.1 905.5L1347.1 905.5L1348.0 905.5L1349.0 905.5L1350.0 905.5L1351.0 905.5L1352.0 905.5L1353.0 905.5L1354.0 905.5L1355.0 905.5L1356.0 905.5L1357.0 905.5L1357.5 905.5M1374.0 905.5L1374.9 905.5L1375.9 905.5L1376.9 905.5L1377.9 905.5L1378.9 905.5L1379.9 905.5L1380.9 905.5L1381.9 905.5L1382.9 905.5L1383.9 905.5L1384.9 905.5L1385.9 905.5L1386.9 905.5L1387.0 905.5M1403.8 905.5L1404.8 905.5L1405.8 905.5L1406.8 905.5L1407.8 905.5L1408.8 905.5L1409.8 905.5L1410.8 905.5L1411.8 905.5L1412.8 905.5L1413.8 905.5L1414.8 905.5L1415.8 905.5L1416.8 905.5L1417.8 905.5L1418.8 905.5L1419.8 905.5L1420.8 905.5L1421.8 905.5L1422.8 905.5L1423.8 905.5L1424.8 905.5L1425.9 905.5L1426.9 905.5L1427.9 905.5L1428.9 905.5L1429.9 905.5L1430.9 905.5L1431.9 905.5L1432.9 905.5L1433.9 905.5L1434.9 905.5L1435.9 905.5L1436.9 905.5L1437.9 905.5L1438.9 905.5L1439.9 905.5L1440.9 905.5L1441.9 905.5L1442.9 905.5L1443.9 905.5L1444.9 905.5L1445.9 905.5L1446.9 905.5L1447.9 905.5L1448.9 905.5L1449.9 905.5L1450.9 905.5L1451.9 905.5L1452.8 905.5M1470.0 905.5L1470.9 905.5L1471.9 905.5L1472.9 905.5L1473.9 905.5L1474.9 905.5L1475.9 905.5L1477.0 905.5L1478.0 905.5L1479.0 905.5L1480.0 905.5L1481.0 905.5L1482.0 905.5L1483.0 905.5M1500.0 905.5L1501.0 905.5L1502.0 905.5L1503.0 905.5L1504.0 905.5L1505.0 905.5L1506.0 905.5L1507.0 905.5L1508.0 905.5L1509.0 905.5L1510.0 905.5L1511.0 905.5L1512.0 905.5L1513.0 905.5L1514.0 905.5L1515.0 905.5L1516.0 905.5L1517.0 905.5L1518.0 905.5L1519.0 905.5L1520.0 905.5L1521.0 905.5L1522.0 905.5L1523.1 905.5L1524.1 905.5L1525.1 905.5L1526.1 905.5L1527.1 905.5L1528.1 905.5L1529.1 905.5L1530.1 905.5L1531.1 905.5L1532.1 905.5L1533.1 905.5L1534.1 905.5L1535.1 905.5L1536.1 905.5L1537.1 905.5L1538.1 905.5L1539.1 905.5L1540.1 905.5L1541.1 905.5L1542.1 905.5L1543.1 905.5L1544.1 905.5L1545.1 905.5L1546.1 905.5L1547.1 905.5L1548.1 905.5L1549.0 905.5M1566.1 905.5L1566.1 905.5L1567.1 905.5L1568.1 905.5L1569.1 905.5L1570.1 905.5L1571.1 905.5L1572.1 905.5L1573.1 905.5L1574.1 905.5L1575.1 905.5L1576.1 905.5L1577.1 905.5L1578.1 905.5L1579.1 905.5M1596.1 905.5L1597.1 905.5L1598.1 905.5L1599.1 905.5L1600.1 905.5L1601.1 905.5L1602.1 905.5L1603.1 905.5L1604.1 905.5L1605.1 905.5L1606.1 905.5L1607.1 905.5L1608.1 905.5L1609.1 905.5L1610.1 905.5L1611.1 905.5L1612.1 905.5L1613.1 905.5L1614.1 905.5L1615.1 905.5L1616.1 905.5L1617.1 905.5L1618.1 905.5L1619.1 905.5L1620.1 905.5L1621.1 905.5L1622.1 905.5L1623.1 905.5L1624.1 905.5L1625.1 905.5L1626.1 905.5L1627.1 905.5L1628.1 905.5L1629.1 905.5L1630.1 905.5L1631.1 905.5L1632.1 905.5L1633.1 905.5L1634.1 905.5L1635.1 905.5L1636.1 905.5L1637.1 905.5L1638.1 905.5L1639.1 905.5L1640.1 905.5L1641.1 905.5L1642.1 905.5L1643.1 905.5L1644.1 905.5L1645.1 905.5L1645.1 905.5M1662.1 905.5L1662.1 905.5L1663.1 905.5L1664.1 905.5L1665.1 905.5L1666.1 905.5L1667.1 905.5L1668.1 905.5L1669.1 905.5L1670.1 905.5L1671.1 905.5L1672.1 905.5L1673.1 905.5L1674.1 905.5L1675.1 905.5L1675.1 905.5M1692.0 905.5L1693.0 905.5L1694.0 905.5L1695.0 905.5L1696.0 905.5L1697.0 905.5L1698.0 905.5L1699.0 905.5L1700.0 905.5L1701.0 905.5L1702.0 905.5L1703.0 905.5L1704.0 905.5L1705.0 905.5L1706.0 905.5L1707.0 905.5L1708.0 905.5L1709.0 905.5L1710.0 905.5L1711.0 905.5L1712.0 905.5L1713.0 905.5L1714.0 905.5L1715.0 905.5L1716.0 905.5L1717.0 905.5L1718.0 905.5L1719.0 905.5L1720.0 905.5L1721.0 905.5L1722.0 905.5L1723.0 905.5L1724.0 905.5L1725.0 905.5L1726.0 905.5L1727.0 905.5L1728.0 905.5L1729.0 905.5L1730.0 905.5L1731.0 905.5L1732.0 905.5L1733.0 905.5L1734.0 905.5L1735.0 905.5L1736.0 905.5L1737.0 905.5L1738.0 905.5L1739.0 905.5L1740.0 905.5L1741.0 905.5L1741.0 905.5M1758.0 905.5L1759.0 905.5L1760.0 905.5L1761.0 905.5L1762.0 905.5L1763.0 905.5L1764.0 905.5L1765.0 905.5L1766.0 905.5L1767.0 905.5L1768.0 905.5L1769.0 905.5L1770.0 905.5L1771.0 905.5L1771.0 905.5M1787.9 905.5L1788.9 905.5L1789.9 905.5L1790.9 905.5L1791.9 905.5L1792.9 905.5L1793.9 905.5L1794.9 905.5L1795.9 905.5L1796.9 905.5L1797.9 905.5L1798.9 905.5L1799.9 905.5L1800.9 905.5L1801.9 905.5L1802.9 905.5L1803.9 905.5L1804.9 905.5L1805.9 905.5L1806.9 905.5L1807.9 905.5L1808.9 905.5L1809.9 905.5L1810.9 905.5L1811.9 905.5L1812.9 905.5L1813.9 905.5L1814.9 905.5L1815.9 905.5L1816.9 905.5L1817.9 905.5L1818.9 905.5L1819.9 905.5L1820.9 905.5L1821.9 905.5L1822.9 905.5L1823.9 905.5L1824.9 905.5L1825.9 905.5L1826.9 905.5L1827.9 905.5L1828.9 905.5L1829.9 905.5L1830.9 905.5L1831.9 905.5L1832.9 905.5L1833.9 905.5L1834.9 905.5L1835.9 905.5L1836.9 905.5L1836.9 905.5M1853.9 905.5L1854.9 905.5L1855.9 905.5L1856.9 905.5L1857.9 905.5L1858.9 905.5L1859.9 905.5L1860.9 905.5L1861.9 905.5L1862.9 905.5L1863.9 905.5L1864.9 905.5L1865.9 905.5L1866.9 905.5L1866.9 905.5M1883.9 905.5L1884.9 905.5L1885.9 905.5L1886.9 905.5L1888.0 905.5L1889.0 905.5L1890.0 905.5L1891.0 905.5L1892.0 905.5L1893.0 905.5L1894.0 905.5L1895.0 905.5L1896.0 905.5L1897.0 905.5L1898.0 905.5L1899.0 905.5L1900.0 905.5L1901.0 905.5L1902.0 905.5L1903.0 905.5L1904.0 905.5L1905.0 905.5L1906.0 905.5L1907.0 905.5L1908.0 905.5L1909.0 905.5L1910.0 905.5L1911.0 905.5L1912.0 905.5L1913.0 905.5L1914.0 905.5L1915.0 905.5L1916.0 905.5L1917.0 905.5L1918.0 905.5L1919.0 905.5L1920.0 905.5L1921.0 905.5L1922.0 905.5L1923.0 905.5L1924.0 905.5L1925.0 905.5L1926.0 905.5L1927.0 905.5L1928.0 905.5L1929.0 905.5L1930.0 905.5L1931.0 905.5L1932.0 905.5L1932.9 905.5M1950.0 905.5L1950.1 905.5L1951.1 905.5L1952.1 905.5L1953.1 905.5L1954.1 905.5L1955.1 905.5L1956.1 905.5L1957.1 905.5L1958.1 905.5L1959.1 905.5L1960.1 905.5L1961.1 905.5L1962.1 905.5L1963.0 905.5M1980.1 905.5L1981.1 905.5L1982.1 905.5L1983.1 905.5L1984.1 905.5L1985.1 905.5L1986.1 905.5L1987.1 905.5L1988.1 905.5L1989.1 905.5L1990.1 905.5L1991.1 905.5L1992.1 905.5L1993.1 905.5L1994.1 905.5L1995.1 905.5L1996.1 905.5L1997.1 905.5L1998.1 905.5L1999.1 905.5L2000.1 905.5L2001.1 905.5L2002.1 905.5L2003.1 905.5L2004.1 905.5L2005.1 905.5L2006.1 905.5L2007.1 905.5L2008.1 905.5L2009.1 905.5L2010.1 905.5L2011.1 905.5L2012.1 905.5L2013.1 905.5L2014.1 905.5L2015.1 905.5L2016.1 905.5L2017.1 905.5L2018.1 905.5L2019.1 905.5L2020.1 905.5L2021.1 905.5L2022.1 905.5L2023.1 905.5L2024.1 905.5L2025.1 905.5L2026.1 905.5L2027.1 905.5L2028.1 905.5L2029.1 905.5L2029.1 905.5M2046.0 905.5L2046.1 905.5L2047.1 905.5L2048.1 905.5L2049.0 905.5L2050.0 905.5L2051.0 905.5L2052.0 905.5L2053.0 905.5L2054.0 905.5L2055.0 905.5L2056.0 905.5L2057.0 905.5L2058.0 905.5L2059.0 905.5M2075.9 905.5L2077.2 905.5L2078.5 905.5L2079.8 905.5L2081.0 905.5L2082.3 905.5L2083.6 905.5L2084.8 905.5L2086.1 905.5L2087.4 905.5L2088.6 905.5L2089.8 905.5L2091.1 905.5L2092.3 905.5L2093.6 905.5L2094.8 905.5L2096.0 905.5L2097.2 905.5L2098.4 905.5L2099.6 905.5L2100.8 905.5L2101.9 905.5L2103.1 905.5L2104.2 905.5L2105.4 905.5L2106.5 905.5L2107.6 905.5L2108.7 905.5L2109.8 905.5L2110.8 905.5L2111.9 905.5L2112.9 905.5L2114.0 905.5L2115.0 905.5L2116.0 905.5L2116.9 905.5L2117.9 905.5L2118.8 905.5L2119.7 905.5L2120.6 905.5L2121.5 905.5L2122.4 905.5L2123.2 905.5L2124.1 905.5L2124.9 905.5L2124.9 905.5" fill="none" stroke="#000" stroke-width="5.3" stroke-linejoin="round"/><path d="M274.5 905.5L280.7 905.5M297.7 905.5L304.7 905.5M321.7 905.5L328.7 905.5M331.0 920.7L331.0 921.5L331.1 922.5L331.1 923.4L331.1 924.4L331.1 925.4L331.2 926.4L331.2 927.4L331.2 927.7M331.6 944.7L331.6 945.3L331.6 946.2L331.7 947.1L331.7 948.0L331.7 948.9L331.7 949.8L331.7 950.7L331.8 951.7L331.8 951.7M332.1 968.7L332.1 969.1L332.2 970.1L332.2 971.1L332.2 972.1L332.2 973.1L332.3 974.2L332.3 975.2L332.3 975.7M332.7 992.7L332.7 993.4L332.8 994.3L332.8 995.3L332.8 996.2L332.8 997.2L332.9 998.1L332.9 999.1L332.9 999.7M333.4 1016.7L333.4 1016.7L333.4 1017.7L333.5 1018.7L333.5 1019.7L333.5 1020.7L333.5 1021.7L333.6 1022.7L333.6 1023.6M334.1 1040.6L334.1 1040.9L334.2 1041.9L334.2 1042.9L334.2 1043.9L334.3 1044.9L334.3 1045.9L334.3 1046.9L334.3 1047.6M334.9 1064.6L334.9 1064.7L334.9 1065.6L334.9 1066.6L335.0 1067.5L335.0 1068.6L335.0 1069.7L335.1 1070.8L335.1 1071.6M335.7 1088.6L335.7 1088.8L335.7 1089.8L335.7 1090.8L335.8 1091.9L335.8 1092.9L335.8 1093.9L335.9 1094.8L335.9 1095.6M336.5 1112.6L336.5 1112.8L336.5 1113.6L336.6 1114.5L336.6 1115.4L336.6 1116.3L336.7 1117.1L336.7 1118.0L336.8 1118.9L336.8 1119.6M337.6 1136.6L337.6 1136.6L337.7 1137.6L337.7 1138.6L337.8 1139.6L337.8 1140.6L337.9 1141.6L337.9 1142.6L338.0 1143.6M339.0 1160.5L339.0 1161.1L339.1 1162.0L339.2 1162.9L339.2 1163.8L339.3 1164.7L339.3 1165.6L339.4 1166.5L339.4 1167.4L339.4 1167.5M340.6 1184.5L340.6 1184.6L340.6 1185.6L340.7 1186.6L340.8 1187.6L340.8 1188.5L340.9 1189.5L341.0 1190.5L341.0 1191.5M342.3 1208.4L342.3 1208.5L342.4 1209.5L342.5 1210.5L342.6 1211.5L342.7 1212.5L342.8 1213.5L342.8 1214.5L342.9 1215.4M344.4 1232.3L344.5 1232.5L344.6 1233.5L344.7 1234.6L344.8 1235.6L344.9 1236.6L344.9 1237.6L345.0 1238.6L345.1 1239.3M346.8 1256.2L346.9 1256.8L347.0 1257.8L347.1 1258.8L347.2 1259.8L347.3 1260.9L347.4 1261.9L347.5 1262.9L347.6 1263.2M349.4 1280.1L349.5 1280.9L349.6 1281.9L349.7 1282.9L349.9 1283.8L350.0 1284.8L350.1 1285.8L350.2 1286.8L350.2 1287.0M352.2 1303.9L352.3 1304.4L352.4 1305.3L352.5 1306.3L352.6 1307.3L352.7 1308.2L352.9 1309.2L353.0 1310.1L353.1 1310.9M355.2 1327.7L355.3 1328.4L355.4 1329.3L355.5 1330.4L355.7 1331.5L355.8 1332.6L356.0 1333.7L356.1 1334.7M358.8 1351.4L359.0 1352.1L359.2 1353.0L359.4 1354.0L359.6 1354.8L359.9 1355.9L360.1 1357.0L360.4 1358.0L360.5 1358.2M366.9 1369.9L367.6 1369.3L368.2 1368.3L368.8 1367.0L369.0 1366.4L369.2 1365.7L369.4 1365.0L369.6 1364.3L369.7 1363.6M372.6 1347.5L372.7 1347.2L372.9 1346.2L373.1 1345.1L373.3 1344.1L373.5 1343.1L373.7 1342.0L373.9 1341.0L374.0 1340.7M378.4 1323.8L378.6 1323.3L378.8 1322.3L379.0 1321.4L379.3 1320.4L379.5 1319.5L379.7 1318.6L379.9 1317.6L380.1 1317.0M383.0 1300.3L383.0 1300.0L383.1 1299.1L383.2 1298.2L383.4 1297.3L383.5 1296.4L383.6 1295.5L383.7 1294.5L383.8 1293.6L383.8 1293.3M385.4 1276.5L385.4 1276.3L385.5 1275.3L385.6 1274.2L385.7 1273.1L385.8 1272.0L385.9 1270.9L386.0 1269.8L386.0 1269.5M387.7 1252.6L387.7 1252.2L387.8 1251.2L387.9 1250.3L388.0 1249.4L388.1 1248.4L388.2 1247.5L388.3 1246.5L388.4 1245.6M390.1 1228.8L390.1 1228.1L390.3 1227.0L390.4 1225.9L390.5 1224.8L390.6 1223.7L390.7 1222.6L390.8 1221.8M392.5 1205.0L392.6 1204.5L392.6 1203.6L392.7 1202.6L392.8 1201.7L392.9 1200.7L393.0 1199.8L393.1 1198.8L393.2 1198.0M394.9 1181.1L395.0 1180.4L395.1 1179.4L395.2 1178.4L395.3 1177.4L395.4 1176.4L395.5 1175.4L395.6 1174.4L395.6 1174.2M397.3 1157.3L397.3 1157.3L397.4 1156.2L397.5 1155.2L397.6 1154.2L397.7 1153.2L397.8 1152.2L397.9 1151.2L398.0 1150.3M399.7 1133.5L399.7 1132.9L399.8 1131.9L399.9 1130.9L400.0 1129.9L400.1 1128.9L400.2 1127.9L400.3 1126.9L400.3 1126.5M402.0 1109.6L402.1 1109.0L402.2 1108.0L402.3 1107.0L402.4 1105.9L402.5 1104.9L402.6 1103.9L402.7 1102.9L402.7 1102.7M404.5 1085.8L404.5 1084.9L404.6 1083.9L404.7 1083.0L404.8 1082.0L404.9 1081.0L405.0 1080.0L405.1 1079.0L405.2 1078.8M406.9 1062.0L406.9 1061.5L407.0 1060.5L407.1 1059.5L407.2 1058.6L407.3 1057.6L407.4 1056.6L407.5 1055.6L407.6 1055.0M409.2 1038.1L409.3 1038.0L409.4 1037.0L409.5 1036.0L409.6 1035.0L409.6 1034.0L409.7 1033.0L409.8 1032.0L409.9 1031.2M411.5 1014.3L411.6 1014.1L411.6 1013.1L411.7 1012.2L411.8 1011.2L411.9 1010.2L412.0 1009.2L412.1 1008.2L412.2 1007.3M413.7 990.4L413.8 990.3L413.8 989.3L413.9 988.3L414.0 987.2L414.1 986.2L414.2 985.2L414.3 984.2L414.4 983.5M415.9 966.6L415.9 966.1L416.0 965.1L416.1 964.1L416.2 963.1L416.3 962.1L416.4 961.1L416.5 960.1L416.5 959.6M418.0 942.7L418.0 942.2L418.1 941.2L418.2 940.2L418.3 939.2L418.4 938.2L418.5 937.3L418.6 936.3L418.6 935.7M420.1 918.9L420.2 918.0L420.3 917.0L420.4 915.9L420.5 914.9L420.5 913.9L420.6 912.8L420.7 911.9M422.2 895.0L422.2 894.8L422.3 893.8L422.4 892.8L422.5 891.9L422.6 890.9L422.7 889.9L422.8 888.9L422.9 888.0M424.3 871.1L424.4 870.5L424.5 869.5L424.6 868.5L424.7 867.5L424.7 866.6L424.8 865.6L424.9 864.6L425.0 864.2M426.4 847.3L426.4 846.9L426.5 845.9L426.6 844.9L426.7 843.9L426.8 842.9L426.8 841.9L426.9 840.9L427.0 840.3M428.4 823.4L428.4 822.9L428.5 821.9L428.6 820.9L428.6 819.9L428.7 818.9L428.8 817.9L428.9 816.8L428.9 816.4M430.3 799.5L430.4 798.6L430.5 797.6L430.6 796.6L430.6 795.6L430.7 794.6L430.8 793.5L430.9 792.6M432.4 775.7L432.5 774.8L432.6 773.8L432.7 772.9L432.8 771.9L432.9 770.9L432.9 770.0L433.0 769.0L433.1 768.7M434.8 751.8L434.9 750.8L435.1 749.7L435.2 748.6L435.3 747.5L435.5 746.4L435.6 745.3L435.6 744.9M437.8 728.1L437.8 727.9L438.0 726.9L438.1 726.0L438.2 725.0L438.4 724.0L438.5 723.1L438.7 722.1L438.8 721.1M441.3 704.4L441.3 704.3L441.5 703.4L441.6 702.4L441.8 701.5L441.9 700.5L442.1 699.6L442.2 698.7L442.4 697.7L442.4 697.5M445.2 680.7L445.3 679.8L445.5 678.9L445.6 677.9L445.8 677.0L445.9 676.0L446.1 675.1L446.3 674.2L446.3 673.8M449.1 657.1L449.3 656.3L449.5 655.3L449.6 654.3L449.8 653.4L450.0 652.4L450.1 651.4L450.3 650.4L450.3 650.2M453.2 633.5L453.3 632.8L453.5 631.8L453.6 630.8L453.8 629.8L454.0 628.8L454.1 627.7L454.3 626.7L454.3 626.6M457.1 609.9L457.2 609.3L457.4 608.3L457.5 607.3L457.7 606.4L457.9 605.4L458.0 604.4L458.2 603.4L458.2 603.0M461.0 586.2L461.1 585.5L461.3 584.5L461.4 583.6L461.6 582.6L461.8 581.6L461.9 580.7L462.1 579.7L462.1 579.3M465.2 562.7L465.2 562.5L465.4 561.7L465.5 560.9L465.7 560.0L465.8 559.2L466.1 558.0L466.3 556.9L466.6 555.8M470.5 539.2L470.8 538.4L471.0 537.5L471.3 536.6L471.5 535.7L471.8 534.8L472.0 533.9L472.3 533.1L472.5 532.5M477.6 516.3L477.8 515.5L478.1 514.6L478.4 513.7L478.7 512.8L479.0 511.9L479.3 510.9L479.6 510.0L479.8 509.6M485.4 493.5L485.7 492.7L486.1 491.8L486.4 490.8L486.8 489.9L487.2 488.9L487.6 488.0L488.0 487.1L488.0 487.0M496.1 472.1L496.2 472.0L496.7 471.3L497.2 470.6L497.7 470.0L498.3 469.3L499.0 468.5L499.7 467.7L500.4 467.0L500.6 466.7M517.0 462.4L518.0 462.8L519.1 463.4L520.1 464.0L520.8 464.5L521.5 464.9L522.2 465.4L522.8 466.0L523.0 466.1M533.5 477.9L533.7 478.3L534.3 479.1L534.9 479.9L535.5 480.8L536.1 481.6L536.7 482.5L537.3 483.3L537.5 483.6M546.8 498.4L547.0 498.8L547.5 499.7L548.0 500.5L548.5 501.4L549.0 502.3L549.5 503.1L549.9 504.0L550.2 504.5M558.1 520.0L558.4 520.5L558.8 521.4L559.2 522.3L559.6 523.1L560.1 524.0L560.5 524.9L560.9 525.8L561.1 526.3M567.8 541.5L568.0 542.0L568.4 542.9L568.8 543.9L569.1 544.8L569.5 545.6L569.9 546.5L570.2 547.4L570.5 548.0M576.9 563.7L577.1 564.3L577.5 565.2L577.8 566.0L578.2 566.9L578.6 567.8L578.9 568.8L579.3 569.7L579.5 570.2M585.8 585.7L586.0 586.2L586.4 587.1L586.8 588.0L587.2 588.9L587.5 589.8L587.9 590.8L588.3 591.7L588.5 592.2M594.9 607.7L595.1 608.1L595.5 609.0L595.9 609.9L596.3 610.8L596.6 611.8L597.0 612.7L597.4 613.6L597.6 614.2M604.2 629.7L604.4 630.1L604.7 631.0L605.1 632.0L605.5 632.9L605.9 633.8L606.3 634.7L606.7 635.5L606.9 636.1M613.6 651.9L613.9 652.4L614.3 653.3L614.6 654.2L615.0 655.1L615.4 656.0L615.8 656.8L616.2 657.7L616.4 658.3M623.3 673.9L623.5 674.5L623.9 675.3L624.3 676.2L624.7 677.1L625.1 678.0L625.5 678.8L625.9 679.7L626.2 680.3M633.3 695.8L633.5 696.3L634.0 697.2L634.4 698.0L634.8 698.9L635.2 699.8L635.6 700.7L636.0 701.6L636.3 702.1M643.9 717.7L644.2 718.3L644.6 719.1L645.1 720.0L645.5 720.9L646.0 721.8L646.4 722.6L646.9 723.5L647.1 724.0M654.9 738.9L655.2 739.4L655.7 740.3L656.1 741.1L656.6 742.0L657.1 742.9L657.6 743.7L658.0 744.6L658.3 745.1M666.6 759.7L666.9 760.2L667.4 761.0L667.9 761.9L668.4 762.8L668.9 763.6L669.4 764.5L670.0 765.3L670.2 765.7M679.1 780.0L679.4 780.5L680.0 781.3L680.5 782.1L681.0 783.0L681.6 783.8L682.1 784.6L682.6 785.4L683.0 785.9M692.8 800.0L693.1 800.5L693.7 801.3L694.3 802.1L694.8 802.9L695.4 803.6L696.0 804.4L696.6 805.2L696.9 805.7M707.6 819.1L707.9 819.6L708.6 820.3L709.2 821.1L709.8 821.8L710.5 822.6L711.1 823.3L711.8 824.0L712.1 824.4M723.6 836.7L723.9 837.1L724.6 837.8L725.3 838.4L726.0 839.1L726.7 839.8L727.4 840.5L728.1 841.1L728.6 841.6M741.2 852.6L741.7 853.0L742.5 853.6L743.2 854.2L744.0 854.8L744.8 855.4L745.6 856.0L746.4 856.6L746.8 856.9M760.7 866.4L761.1 866.7L762.0 867.2L762.8 867.7L763.7 868.2L764.5 868.8L765.4 869.3L766.2 869.8L766.7 870.0M781.6 877.9L782.1 878.1L783.0 878.6L783.9 879.0L784.8 879.4L785.7 879.8L786.6 880.2L787.5 880.7L787.9 880.9M803.7 887.2L804.1 887.3L805.1 887.7L806.0 888.0L807.0 888.3L807.9 888.6L808.9 889.0L809.8 889.3L810.3 889.4M826.6 894.1L827.1 894.3L828.1 894.5L829.0 894.8L830.0 895.0L830.9 895.2L831.9 895.4L832.8 895.7L833.4 895.8M850.3 899.2L850.9 899.3L851.9 899.4L852.8 899.6L853.8 899.7L854.8 899.9L855.7 900.0L856.7 900.2L857.2 900.3M874.1 902.4L874.6 902.5L875.6 902.6L876.6 902.7L877.6 902.8L878.6 902.9L879.6 903.0L880.6 903.1L881.1 903.1M898.0 904.4L898.5 904.5L899.5 904.5L900.5 904.6L901.5 904.6L902.5 904.7L903.5 904.7L904.5 904.8L905.0 904.8M921.9 905.5L922.4 905.5L923.4 905.5L924.4 905.5L925.4 905.6L926.4 905.6L927.3 905.6L928.3 905.6L928.9 905.6M945.6 905.9L946.3 905.9L947.2 905.9L948.2 905.9L949.1 905.9L950.0 905.9L951.0 906.0L951.9 906.0L952.6 906.0M968.8 906.1L969.6 906.1L970.5 906.1L971.4 906.1L972.3 906.1L973.3 906.1L974.2 906.1L975.2 906.1L975.8 906.1M994.8 906.3L995.6 906.3L996.9 906.3L998.3 906.3L998.9 906.3L999.6 906.3L1000.3 906.3L1001.0 906.3L1001.7 906.3L1001.8 906.3M1018.7 906.3L1018.9 906.3L1019.8 906.3L1020.7 906.3L1021.6 906.3L1022.4 906.3L1023.3 906.3L1024.2 906.3L1025.1 906.3L1025.7 906.3M1042.6 906.2L1043.5 906.2L1044.5 906.2L1045.6 906.2L1046.6 906.2L1047.6 906.2L1048.7 906.2L1049.6 906.2M1066.6 906.1L1067.1 906.1L1068.3 906.1L1069.4 906.1L1070.5 906.1L1071.7 906.1L1072.8 906.1L1073.6 906.1M1090.5 906.0L1091.5 906.0L1092.7 906.0L1093.8 906.0L1095.0 906.0L1096.2 906.0L1097.4 906.0L1097.5 906.0M1114.4 905.9L1114.7 905.9L1115.6 905.9L1116.5 905.9L1117.4 905.9L1118.3 905.9L1119.2 905.9L1120.0 905.9L1120.9 905.9L1121.4 905.9M1138.3 905.9L1139.0 905.9L1140.0 905.9L1140.9 905.9L1141.8 905.9L1142.7 905.9L1143.6 905.9L1144.6 905.9L1145.3 905.9M1162.3 905.8L1162.4 905.8L1163.3 905.8L1164.3 905.8L1165.2 905.8L1166.2 905.8L1167.1 905.8L1168.1 905.8L1169.0 905.8L1169.3 905.8M1186.2 905.8L1186.5 905.8L1187.5 905.8L1188.5 905.8L1189.5 905.8L1190.5 905.7L1191.5 905.7L1192.4 905.7L1193.2 905.7M1210.1 905.7L1210.5 905.7L1211.5 905.7L1212.6 905.7L1213.6 905.7L1214.6 905.7L1215.6 905.7L1216.6 905.7L1217.1 905.7M1234.0 905.7L1234.3 905.7L1235.3 905.7L1236.4 905.7L1237.4 905.7L1238.5 905.7L1239.6 905.7L1240.6 905.7L1241.0 905.7M1258.0 905.6L1258.8 905.6L1259.9 905.6L1261.0 905.6L1262.1 905.6L1263.2 905.6L1264.3 905.6L1265.0 905.6M1281.9 905.6L1282.0 905.6L1283.1 905.6L1284.2 905.6L1285.3 905.6L1286.5 905.6L1287.6 905.6L1288.7 905.6L1288.9 905.6M1305.8 905.6L1306.7 905.6L1307.6 905.6L1308.6 905.6L1309.5 905.6L1310.5 905.6L1311.5 905.6L1312.4 905.6L1312.8 905.6M1329.7 905.6L1329.8 905.6L1330.7 905.6L1331.7 905.6L1332.7 905.6L1333.7 905.6L1334.6 905.6L1335.6 905.6L1336.6 905.6L1336.7 905.6M1353.7 905.6L1354.3 905.6L1355.3 905.6L1356.3 905.6L1357.3 905.6L1358.3 905.6L1359.3 905.6L1360.3 905.6L1360.7 905.6M1377.6 905.5L1378.4 905.5L1379.4 905.5L1380.4 905.5L1381.4 905.5L1382.4 905.5L1383.4 905.5L1384.4 905.5L1384.6 905.5M1401.5 905.5L1401.6 905.5L1402.6 905.5L1403.7 905.5L1404.7 905.5L1405.7 905.5L1406.7 905.5L1407.7 905.5L1408.5 905.5M1425.4 905.5L1426.1 905.5L1427.1 905.5L1428.2 905.5L1429.2 905.5L1430.2 905.5L1431.2 905.5L1432.3 905.5L1432.4 905.5M1449.4 905.5L1449.7 905.5L1450.7 905.5L1451.7 905.5L1452.8 905.5L1453.8 905.5L1454.8 905.5L1455.8 905.5L1456.4 905.5M1473.3 905.5L1474.3 905.5L1475.3 905.5L1476.3 905.5L1477.3 905.5L1478.3 905.5L1479.4 905.5L1480.3 905.5M1497.2 905.5L1497.7 905.5L1498.7 905.5L1499.7 905.5L1500.8 905.5L1501.8 905.5L1502.8 905.5L1503.8 905.5L1504.2 905.5M1521.1 905.5L1522.0 905.5L1523.0 905.5L1524.0 905.5L1525.0 905.5L1526.0 905.5L1527.0 905.5L1528.0 905.5L1528.1 905.5M1545.1 905.5L1546.0 905.5L1547.0 905.5L1548.0 905.5L1548.9 905.5L1549.9 905.5L1550.9 905.5L1551.9 905.5L1552.1 905.5M1569.0 905.5L1569.5 905.5L1570.5 905.5L1571.5 905.5L1572.5 905.5L1573.4 905.5L1574.4 905.5L1575.4 905.5L1576.0 905.5M1592.9 905.5L1593.6 905.5L1594.5 905.5L1595.5 905.5L1596.4 905.5L1597.5 905.5L1598.6 905.5L1599.7 905.5L1599.9 905.5M1616.9 905.5L1617.2 905.5L1618.3 905.5L1619.4 905.5L1620.5 905.5L1621.5 905.5L1622.6 905.5L1623.7 905.5L1623.9 905.5M1641.0 905.5L1641.7 905.5L1642.8 905.5L1643.8 905.5L1644.9 905.5L1645.9 905.5L1647.0 905.5L1648.0 905.5M1665.0 905.5L1665.6 905.5L1666.7 905.5L1667.7 905.5L1668.7 905.5L1669.7 905.5L1670.8 905.5L1671.8 905.5L1672.0 905.5M1689.0 905.5L1690.0 905.5L1691.0 905.5L1692.0 905.5L1693.0 905.5L1694.0 905.5L1695.0 905.5L1696.0 905.5L1696.0 905.5M1713.0 905.5L1713.8 905.5L1714.8 905.5L1715.8 905.5L1716.8 905.5L1717.8 905.5L1718.7 905.5L1719.7 905.5L1720.0 905.5M1737.0 905.5L1737.3 905.5L1738.2 905.5L1739.2 905.5L1740.2 905.5L1741.1 905.5L1742.1 905.5L1743.1 905.5L1744.0 905.5L1744.0 905.5M1761.1 905.5L1761.3 905.5L1762.3 905.5L1763.2 905.5L1764.2 905.5L1765.1 905.5L1766.1 905.5L1767.0 905.5L1768.0 905.5L1768.1 905.5M1785.1 905.5L1785.1 905.5L1786.1 905.5L1787.0 905.5L1788.0 905.5L1788.9 905.5L1789.9 905.5L1790.8 905.5L1791.8 905.5L1792.1 905.5M1809.1 905.5L1809.8 905.5L1810.7 905.5L1811.7 905.5L1812.6 905.5L1813.6 905.5L1814.5 905.5L1815.5 905.5L1816.1 905.5M1833.1 905.5L1833.5 905.5L1834.4 905.5L1835.3 905.5L1836.3 905.5L1837.2 905.5L1838.2 905.5L1839.1 905.5L1840.1 905.5L1840.1 905.5M1857.1 905.5L1857.2 905.5L1858.2 905.5L1859.1 905.5L1860.1 905.5L1861.0 905.5L1862.0 905.5L1862.9 905.5L1863.9 905.5L1864.1 905.5M1881.1 905.5L1881.2 905.5L1882.1 905.5L1883.1 905.5L1884.1 905.5L1885.0 905.5L1886.0 905.5L1887.0 905.5L1887.9 905.5L1888.1 905.5M1905.0 905.5L1905.4 905.5L1906.4 905.5L1907.4 905.5L1908.4 905.5L1909.4 905.5L1910.3 905.5L1911.3 905.5L1912.0 905.5M1929.0 905.5L1929.1 905.5L1930.1 905.5L1931.1 905.5L1932.1 905.5L1933.1 905.5L1934.1 905.5L1935.1 905.5L1936.0 905.5M1953.0 905.5L1953.3 905.5L1954.3 905.5L1955.3 905.5L1956.3 905.5L1957.3 905.5L1958.4 905.5L1959.4 905.5L1960.0 905.5M1977.0 905.5L1978.0 905.5L1979.0 905.5L1980.1 905.5L1981.1 905.5L1982.2 905.5L1983.2 905.5L1984.0 905.5M2000.9 905.5L2001.2 905.5L2002.3 905.5L2003.4 905.5L2004.4 905.5L2005.5 905.5L2006.6 905.5L2007.7 905.5L2007.9 905.5M2024.9 905.5L2025.1 905.5L2026.2 905.5L2027.3 905.5L2028.4 905.5L2030.0 905.5L2031.6 905.5L2031.9 905.5M2048.9 905.5L2049.1 905.5L2050.7 905.5L2052.3 905.5L2053.9 905.5L2055.5 905.5L2055.9 905.5M2072.9 905.5L2074.0 905.5L2075.5 905.5L2077.0 905.5L2078.5 905.5L2079.9 905.5M2096.9 905.5L2098.0 905.5L2099.3 905.5L2100.5 905.5L2101.8 905.5L2103.0 905.5L2103.9 905.5M2120.9 905.5L2121.1 905.5L2122.0 905.5L2122.9 905.5L2123.7 905.5L2124.5 905.5L2125.2 905.5L2126.0 905.5L2126.7 905.5L2127.4 905.5L2127.9 905.5" fill="none" stroke="#000" stroke-width="5.3" stroke-linejoin="round"/><path d="M274.5 905.5L330.5 905.5L330.5 906.4L330.6 907.3L330.6 908.2L330.6 909.1L330.7 910.1L330.7 911.0L330.7 911.9L330.8 912.9L330.8 913.8L330.8 914.8L330.9 915.7L330.9 916.7L330.9 917.6L331.0 918.6L331.0 919.5L331.0 920.5L331.0 921.5L331.1 922.5L331.1 923.5L331.1 924.5L331.1 925.5L331.2 926.5L331.2 927.5L331.2 928.5L331.3 929.5L331.3 930.5L331.3 931.6L331.3 932.6L331.4 933.6L331.4 934.7L331.4 935.7L331.4 936.8L331.5 937.9L331.5 938.9L331.5 940.0L331.5 940.9L331.5 941.8L331.6 942.6L331.6 943.5L331.6 944.4L331.6 945.3L331.6 946.2L331.7 947.1L331.7 948.0L331.7 949.0L331.7 949.9L331.7 950.8L331.8 951.7L331.8 952.7L331.8 953.6L331.8 954.5L331.8 955.5L331.9 956.4L331.9 957.4L331.9 958.3L331.9 959.3L331.9 960.2L332.0 961.2L332.0 962.2L332.0 963.2L332.0 964.1L332.0 965.1L332.1 966.1L332.1 967.1L332.1 968.1L332.1 969.1L332.2 970.1L332.2 971.1L332.2 972.2L332.2 973.2L332.2 974.2L332.3 975.2L332.3 976.3L332.3 977.3L332.3 978.4L332.4 979.4L332.4 980.5L332.4 981.5L332.4 982.6L332.5 983.7L332.5 984.7L332.5 985.8L332.6 986.9L332.6 988.0L332.6 989.1L332.6 990.2L332.7 991.3L332.7 992.4L332.7 993.3L332.8 994.3L332.8 995.2L332.8 996.1L332.8 997.1L332.9 998.0L332.9 999.0L332.9 999.9L332.9 1000.9L333.0 1001.8L333.0 1002.8L333.0 1003.8L333.1 1004.7L333.1 1005.7L333.1 1006.7L333.1 1007.7L333.2 1008.6L333.2 1009.6L333.2 1010.6L333.3 1011.6L333.3 1012.6L333.3 1013.5L333.3 1014.5L333.4 1015.5L333.4 1016.5L333.4 1017.5L333.5 1018.5L333.5 1019.5L333.5 1020.5L333.6 1021.5L333.6 1022.5L333.6 1023.5L333.7 1024.5L333.7 1025.5L333.7 1026.5L333.7 1027.5L333.8 1028.5L333.8 1029.5L333.8 1030.5L333.9 1031.5L333.9 1032.5L333.9 1033.5L334.0 1034.5L334.0 1035.6L334.0 1036.6L334.1 1037.6L334.1 1038.6L334.1 1039.6L334.2 1040.6L334.2 1041.6L334.2 1042.6L334.3 1043.6L334.3 1044.6L334.3 1045.6L334.4 1046.6L334.4 1047.6L334.4 1048.6L334.5 1049.6L334.5 1050.6L334.5 1051.6L334.5 1052.6L334.6 1053.6L334.6 1054.6L334.6 1055.6L334.7 1056.6L334.7 1057.6L334.7 1058.6L334.8 1059.6L334.8 1060.6L334.8 1061.6L334.9 1062.5L334.9 1063.5L334.9 1064.5L334.9 1065.5L335.0 1066.5L335.0 1067.4L335.0 1068.5L335.1 1069.7L335.1 1070.8L335.1 1071.9L335.2 1073.0L335.2 1074.1L335.2 1075.2L335.3 1076.3L335.3 1077.4L335.3 1078.4L335.4 1079.5L335.4 1080.6L335.4 1081.7L335.4 1082.7L335.5 1083.8L335.5 1084.9L335.5 1085.9L335.6 1087.0L335.6 1088.0L335.6 1089.1L335.7 1090.1L335.7 1091.1L335.7 1092.2L335.8 1093.2L335.8 1094.2L335.8 1095.2L335.8 1096.2L335.9 1097.2L335.9 1098.2L335.9 1099.2L336.0 1100.2L336.0 1101.2L336.0 1102.1L336.1 1103.1L336.1 1104.1L336.1 1105.0L336.2 1106.0L336.2 1106.9L336.2 1107.8L336.3 1108.8L336.3 1109.7L336.3 1110.6L336.4 1111.5L336.4 1112.4L336.4 1113.3L336.5 1114.2L336.5 1115.1L336.5 1116.0L336.6 1116.8L336.6 1117.7L336.7 1118.6L336.7 1119.4L336.7 1120.2L336.8 1121.1L336.8 1121.9L336.9 1122.7L336.9 1123.5L336.9 1124.6L337.0 1125.6L337.1 1126.7L337.1 1127.7L337.2 1128.7L337.2 1129.8L337.3 1130.8L337.4 1131.7L337.4 1132.7L337.5 1133.7L337.5 1134.7L337.6 1135.6L337.7 1136.6L337.7 1137.6L337.8 1138.5L337.9 1139.5L337.9 1140.4L338.0 1141.4L338.0 1142.3L338.1 1143.3L338.2 1144.2L338.2 1145.2L338.3 1146.2L338.4 1147.1L338.4 1148.1L338.5 1149.1L338.5 1150.0L338.6 1151.0L338.7 1152.0L338.7 1153.0L338.8 1154.0L338.8 1155.1L338.9 1155.9L338.9 1156.8L339.0 1157.7L339.0 1158.6L339.1 1159.5L339.1 1160.4L339.2 1161.3L339.2 1162.2L339.3 1163.1L339.3 1164.0L339.4 1164.9L339.4 1165.9L339.5 1166.8L339.5 1167.8L339.6 1168.7L339.6 1169.7L339.7 1170.6L339.7 1171.6L339.8 1172.6L339.8 1173.5L339.9 1174.5L339.9 1175.5L340.0 1176.5L340.0 1177.5L340.1 1178.5L340.1 1179.5L340.2 1180.5L340.2 1181.5L340.3 1182.5L340.3 1183.5L340.4 1184.5L340.4 1185.5L340.5 1186.6L340.6 1187.6L340.6 1188.6L340.7 1189.6L340.7 1190.7L340.8 1191.7L340.9 1192.7L340.9 1193.8L341.0 1194.8L341.1 1195.8L341.1 1196.9L341.2 1197.9L341.3 1198.9L341.4 1200.0L341.4 1201.0L341.5 1202.0L341.6 1203.1L341.7 1204.1L341.8 1205.1L341.9 1206.2L341.9 1207.2L342.0 1208.2L342.1 1209.3L342.2 1210.3L342.3 1211.3L342.4 1212.4L342.5 1213.4L342.6 1214.4L342.7 1215.4L342.8 1216.5L342.9 1217.5L343.0 1218.5L343.1 1219.5L343.2 1220.5L343.3 1221.5L343.4 1222.5L343.5 1223.5L343.6 1224.6L343.7 1225.6L343.8 1226.6L343.9 1227.5L344.0 1228.5L344.1 1229.5L344.2 1230.5L344.4 1231.5L344.5 1232.5L344.6 1233.4L344.7 1234.4L344.8 1235.4L344.9 1236.3L345.0 1237.3L345.2 1238.3L345.3 1239.2L345.4 1240.1L345.5 1241.1L345.6 1242.0L345.8 1243.0L345.9 1243.9L346.0 1244.8L346.1 1245.7L346.2 1246.6L346.4 1247.7L346.5 1248.9L346.7 1250.0L346.8 1251.0L347.0 1252.1L347.1 1253.2L347.3 1254.3L347.5 1255.3L347.6 1256.4L347.8 1257.4L347.9 1258.4L348.1 1259.4L348.2 1260.4L348.4 1261.4L348.5 1262.4L348.7 1263.3L348.8 1264.3L349.0 1265.2L349.1 1266.2L349.3 1267.1L349.4 1268.0L349.6 1268.9L349.7 1269.7L349.9 1270.6L350.0 1271.4L350.2 1272.3L350.3 1273.1L350.5 1273.9L350.6 1274.7L350.8 1275.4L351.0 1276.5L351.2 1277.6L351.4 1278.6L351.6 1279.6L351.8 1280.5L352.0 1281.5L352.2 1282.4L352.4 1283.4L352.6 1284.3L352.8 1285.2L353.1 1286.1L353.3 1287.0L353.5 1287.9L353.7 1288.9L354.0 1289.8L354.3 1290.8L354.5 1291.8L354.8 1292.7L355.1 1293.7L355.4 1294.7L355.7 1295.8L356.1 1296.8L356.4 1297.8L356.7 1298.8L357.1 1299.8L357.5 1300.7L357.9 1301.7L358.3 1302.7L358.7 1303.6L359.2 1304.6L359.8 1305.6L360.3 1306.6L360.8 1307.4L361.4 1308.2L361.9 1309.0L362.5 1309.6L363.0 1310.1L363.6 1310.5L364.2 1310.7L364.7 1310.8L365.3 1310.7L365.9 1310.4L366.5 1309.9L367.1 1309.2L367.7 1308.3L368.2 1307.2L368.8 1306.0L369.3 1304.6L369.5 1304.0L369.8 1303.3L370.0 1302.6L370.2 1301.9L370.4 1301.2L370.6 1300.5L370.8 1299.7L371.0 1298.9L371.2 1298.1L371.4 1297.3L371.6 1296.5L371.8 1295.6L372.0 1294.7L372.2 1293.8L372.4 1292.9L372.6 1292.0L372.8 1291.1L373.0 1290.1L373.2 1289.1L373.4 1288.2L373.6 1287.2L373.8 1286.2L374.0 1285.2L374.1 1284.2L374.3 1283.1L374.5 1282.1L374.7 1281.1L374.9 1280.0L375.1 1279.0L375.2 1277.9L375.4 1276.9L375.6 1275.8L375.8 1274.7L375.9 1273.7L376.1 1272.6L376.3 1271.5L376.5 1270.4L376.6 1269.4L376.8 1268.3L377.0 1267.2L377.2 1266.2L377.3 1265.1L377.5 1264.1L377.7 1263.0L377.8 1262.0L378.0 1260.9L378.2 1259.9L378.3 1258.9L378.5 1257.8L378.7 1256.7L378.9 1255.6L379.1 1254.6L379.3 1253.5L379.4 1252.4L379.6 1251.4L379.8 1250.3L380.0 1249.3L380.2 1248.2L380.4 1247.2L380.6 1246.2L380.7 1245.2L380.9 1244.2L381.1 1243.2L381.3 1242.2L381.5 1241.2L381.6 1240.3L381.8 1239.3L382.0 1238.3L382.2 1237.4L382.4 1236.4L382.5 1235.5L382.7 1234.5L382.9 1233.6L383.1 1232.6L383.2 1231.7L383.4 1230.8L383.6 1229.8L383.7 1228.9L383.9 1228.0L384.1 1227.1L384.2 1226.1L384.4 1225.2L384.6 1224.3L384.7 1223.4L384.9 1222.4L385.1 1221.5L385.2 1220.6L385.4 1219.6L385.5 1218.7L385.7 1217.8L385.8 1216.9L386.0 1215.9L386.1 1215.0L386.3 1214.0L386.4 1213.1L386.6 1212.2L386.7 1211.2L386.9 1210.3L387.0 1209.3L387.2 1208.4L387.3 1207.4L387.5 1206.5L387.6 1205.5L387.7 1204.6L387.9 1203.6L388.0 1202.6L388.1 1201.7L388.3 1200.7L388.4 1199.8L388.5 1198.8L388.7 1197.8L388.8 1196.9L388.9 1195.9L389.1 1194.9L389.2 1194.0L389.3 1193.0L389.5 1192.0L389.6 1191.0L389.7 1190.1L389.8 1189.1L390.0 1188.1L390.1 1187.1L390.2 1186.2L390.3 1185.2L390.5 1184.2L390.6 1183.2L390.7 1182.3L390.8 1181.3L390.9 1180.3L391.1 1179.3L391.2 1178.3L391.3 1177.3L391.4 1176.3L391.5 1175.3L391.7 1174.3L391.8 1173.3L391.9 1172.3L392.0 1171.3L392.1 1170.3L392.3 1169.2L392.4 1168.2L392.5 1167.2L392.6 1166.2L392.7 1165.2L392.9 1164.2L393.0 1163.2L393.1 1162.2L393.2 1161.2L393.3 1160.2L393.4 1159.2L393.6 1158.2L393.7 1157.2L393.8 1156.2L393.9 1155.2L394.0 1154.2L394.1 1153.2L394.3 1152.2L394.4 1151.2L394.5 1150.2L394.6 1149.2L394.7 1148.2L394.9 1147.2L395.0 1146.2L395.1 1145.3L395.2 1144.3L395.3 1143.3L395.4 1142.3L395.6 1141.3L395.7 1140.2L395.8 1139.2L396.0 1138.1L396.1 1137.1L396.2 1136.0L396.4 1135.0L396.5 1133.9L396.6 1132.9L396.7 1131.8L396.9 1130.8L397.0 1129.8L397.1 1128.8L397.3 1127.8L397.4 1126.8L397.5 1125.8L397.7 1124.8L397.8 1123.8L397.9 1122.8L398.0 1121.9L398.2 1120.9L398.3 1120.0L398.4 1119.1L398.6 1118.2L398.7 1117.2L398.8 1116.4L398.9 1115.5L399.0 1114.6L399.2 1113.8L399.3 1112.9L399.4 1112.1L399.5 1111.3L399.6 1110.5L399.7 1109.7L399.9 1108.7L400.0 1107.8L400.2 1106.8L400.3 1105.9L400.4 1105.0L400.6 1104.1L400.7 1103.2L400.8 1102.3L401.0 1101.4L401.1 1100.4L401.2 1099.5L401.4 1098.5L401.5 1097.5L401.7 1096.5L401.8 1095.5L401.9 1094.4L402.1 1093.3L402.2 1092.1L402.4 1090.9L402.5 1089.7L402.6 1089.0L402.7 1088.4L402.8 1087.7L402.9 1087.0L402.9 1086.3L403.0 1085.5L403.1 1084.8L403.2 1084.1L403.3 1083.3L403.4 1082.5L403.5 1081.7L403.6 1080.9L403.6 1080.1L403.7 1079.3L403.8 1078.5L403.9 1077.6L404.0 1076.8L404.1 1075.9L404.2 1075.0L404.3 1074.1L404.4 1073.3L404.5 1072.4L404.6 1071.4L404.7 1070.5L404.8 1069.6L404.9 1068.6L405.0 1067.7L405.1 1066.7L405.2 1065.8L405.3 1064.8L405.4 1063.8L405.5 1062.8L405.6 1061.8L405.7 1060.8L405.8 1059.8L405.9 1058.8L406.0 1057.8L406.1 1056.8L406.2 1055.7L406.3 1054.7L406.4 1053.7L406.5 1052.6L406.6 1051.5L406.7 1050.5L406.8 1049.4L406.9 1048.4L407.0 1047.3L407.1 1046.2L407.2 1045.1L407.3 1044.1L407.5 1043.0L407.6 1041.9L407.7 1040.8L407.8 1039.7L407.9 1038.6L408.0 1037.5L408.1 1036.4L408.2 1035.3L408.3 1034.2L408.4 1033.1L408.5 1032.0L408.6 1030.9L408.7 1029.8L408.8 1028.7L408.9 1027.6L409.0 1026.5L409.1 1025.3L409.2 1024.2L409.4 1023.1L409.5 1022.0L409.6 1020.9L409.7 1019.8L409.8 1018.7L409.9 1017.6L410.0 1016.5L410.1 1015.4L410.2 1014.4L410.3 1013.3L410.4 1012.2L410.5 1011.1L410.6 1010.0L410.7 1008.9L410.8 1007.8L410.9 1006.7L411.0 1005.6L411.1 1004.5L411.2 1003.4L411.3 1002.4L411.4 1001.3L411.5 1000.2L411.6 999.1L411.7 998.1L411.8 997.0L411.9 996.0L412.0 994.9L412.1 993.8L412.2 992.8L412.3 991.8L412.4 990.7L412.5 989.7L412.6 988.6L412.6 987.6L412.7 986.6L412.8 985.5L412.9 984.5L413.0 983.5L413.1 982.5L413.2 981.5L413.3 980.5L413.4 979.4L413.5 978.4L413.6 977.4L413.7 976.4L413.8 975.4L413.8 974.5L413.9 973.5L414.0 972.5L414.1 971.5L414.2 970.5L414.3 969.5L414.4 968.5L414.5 967.6L414.6 966.6L414.6 965.6L414.7 964.7L414.8 963.7L414.9 962.7L415.0 961.8L415.1 960.8L415.2 959.9L415.2 958.9L415.3 958.0L415.4 957.0L415.5 956.1L415.6 955.2L415.7 954.2L415.8 953.3L415.8 952.4L415.9 951.4L416.0 950.5L416.1 949.6L416.2 948.7L416.3 947.7L416.3 946.8L416.4 945.9L416.5 945.0L416.6 944.1L416.7 943.2L416.8 942.3L416.8 941.4L416.9 940.5L417.0 939.6L417.1 938.7L417.2 937.8L417.3 936.9L417.3 936.0L417.4 935.0L417.5 933.9L417.6 932.9L417.7 931.9L417.8 930.9L417.9 929.9L418.0 928.9L418.1 927.9L418.2 926.9L418.3 925.9L418.4 924.9L418.5 923.9L418.6 922.9L418.6 921.9L418.7 920.9L418.8 919.9L418.9 918.9L419.0 917.9L419.1 916.9L419.2 915.9L419.3 914.9L419.4 914.0L419.5 913.0L419.6 912.0L419.7 911.0L419.8 910.0L419.9 909.1L420.0 908.1L420.1 907.1L420.2 906.1L420.3 905.2L420.4 904.2L420.5 903.2L420.6 902.2L420.7 901.3L420.8 900.3L420.9 899.3L421.0 898.4L421.1 897.4L421.2 896.4L421.3 895.5L421.4 894.5L421.5 893.5L421.6 892.5L421.7 891.6L421.8 890.6L421.9 889.6L422.0 888.7L422.2 887.7L422.3 886.7L422.4 885.7L422.5 884.8L422.6 883.8L422.7 882.8L422.8 881.8L423.0 880.9L423.1 879.9L423.2 878.9L423.3 878.0L423.4 877.0L423.5 876.0L423.7 875.1L423.8 874.1L423.9 873.1L424.0 872.2L424.1 871.2L424.3 870.2L424.4 869.2L424.5 868.3L424.6 867.3L424.8 866.3L424.9 865.3L425.0 864.4L425.1 863.4L425.3 862.4L425.4 861.4L425.5 860.5L425.7 859.5L425.8 858.5L425.9 857.5L426.1 856.5L426.2 855.6L426.3 854.6L426.5 853.6L426.6 852.6L426.7 851.6L426.9 850.6L427.0 849.7L427.1 848.7L427.3 847.7L427.4 846.7L427.5 845.7L427.7 844.7L427.8 843.8L427.9 842.8L428.1 841.8L428.2 840.8L428.3 839.8L428.5 838.8L428.6 837.9L428.8 836.9L428.9 835.9L429.0 834.9L429.2 833.9L429.3 832.9L429.4 832.0L429.6 831.0L429.7 830.0L429.8 829.0L430.0 828.0L430.1 827.1L430.3 826.1L430.4 825.1L430.5 824.1L430.7 823.1L430.8 822.2L430.9 821.2L431.1 820.2L431.2 819.2L431.3 818.2L431.5 817.2L431.6 816.2L431.7 815.2L431.9 814.2L432.0 813.2L432.1 812.2L432.3 811.2L432.4 810.2L432.5 809.3L432.7 808.3L432.8 807.3L432.9 806.3L433.1 805.3L433.2 804.3L433.3 803.3L433.5 802.4L433.6 801.4L433.7 800.4L433.9 799.4L434.0 798.4L434.1 797.4L434.3 796.4L434.4 795.5L434.5 794.5L434.6 793.5L434.8 792.5L434.9 791.5L435.0 790.6L435.2 789.6L435.3 788.6L435.4 787.6L435.5 786.7L435.7 785.7L435.8 784.7L435.9 783.7L436.1 782.8L436.2 781.8L436.3 780.8L436.4 779.8L436.6 778.9L436.7 777.9L436.8 776.9L436.9 775.9L437.1 775.0L437.2 774.0L437.3 773.0L437.4 772.1L437.6 771.1L437.7 770.1L437.8 769.1L437.9 768.2L438.1 767.2L438.2 766.2L438.3 765.2L438.5 764.2L438.6 763.2L438.7 762.2L438.9 761.2L439.0 760.2L439.1 759.1L439.3 758.1L439.4 757.1L439.5 756.1L439.6 755.1L439.8 754.1L439.9 753.1L440.0 752.1L440.2 751.1L440.3 750.1L440.4 749.1L440.6 748.0L440.7 747.0L440.8 746.0L441.0 745.0L441.1 744.0L441.2 743.0L441.4 742.0L441.5 741.0L441.6 740.0L441.7 739.0L441.9 738.0L442.0 737.0L442.1 736.0L442.3 735.0L442.4 734.0L442.5 733.0L442.7 732.0L442.8 731.0L442.9 730.0L443.1 729.0L443.2 728.0L443.3 727.0L443.5 726.0L443.6 725.0L443.7 724.0L443.9 723.0L444.0 722.0L444.1 721.1L444.2 720.1L444.4 719.1L444.5 718.1L444.6 717.1L444.8 716.1L444.9 715.1L445.0 714.1L445.2 713.1L445.3 712.2L445.4 711.2L445.6 710.2L445.7 709.3L445.8 708.3L446.0 707.3L446.1 706.3L446.2 705.4L446.4 704.4L446.5 703.4L446.6 702.5L446.8 701.5L446.9 700.5L447.0 699.6L447.2 698.6L447.3 697.6L447.4 696.7L447.6 695.7L447.7 694.7L447.8 693.8L448.0 692.8L448.1 691.9L448.2 690.9L448.4 689.9L448.5 689.0L448.7 688.0L448.8 687.0L448.9 686.1L449.1 685.1L449.2 684.2L449.3 683.2L449.5 682.2L449.6 681.3L449.8 680.3L449.9 679.4L450.0 678.4L450.2 677.5L450.3 676.5L450.5 675.6L450.6 674.6L450.7 673.6L450.9 672.7L451.0 671.7L451.2 670.8L451.3 669.8L451.4 668.9L451.6 667.9L451.7 667.0L451.9 666.0L452.0 665.1L452.2 664.1L452.3 663.2L452.5 662.2L452.6 661.2L452.8 660.2L452.9 659.2L453.1 658.2L453.2 657.2L453.4 656.2L453.5 655.2L453.7 654.2L453.8 653.3L454.0 652.3L454.1 651.3L454.3 650.3L454.5 649.3L454.6 648.3L454.8 647.3L454.9 646.4L455.1 645.4L455.2 644.4L455.4 643.4L455.6 642.4L455.7 641.5L455.9 640.5L456.0 639.5L456.2 638.5L456.4 637.5L456.5 636.6L456.7 635.6L456.8 634.6L457.0 633.7L457.2 632.7L457.3 631.7L457.5 630.8L457.7 629.8L457.8 628.8L458.0 627.9L458.1 626.9L458.3 625.9L458.5 625.0L458.6 624.0L458.8 623.1L459.0 622.1L459.1 621.2L459.3 620.2L459.5 619.3L459.6 618.3L459.8 617.4L460.0 616.4L460.1 615.5L460.3 614.4L460.5 613.4L460.7 612.3L460.9 611.3L461.1 610.3L461.3 609.2L461.4 608.2L461.6 607.1L461.8 606.1L462.0 605.1L462.2 604.0L462.4 603.0L462.6 602.0L462.8 601.0L463.0 600.0L463.2 598.9L463.3 597.9L463.5 596.9L463.7 595.9L463.9 594.9L464.1 593.9L464.3 592.9L464.5 591.9L464.7 590.9L464.9 589.9L465.1 588.9L465.3 587.9L465.4 587.0L465.6 586.0L465.8 585.0L466.0 584.0L466.2 583.1L466.4 582.1L466.6 581.1L466.8 580.2L467.0 579.2L467.2 578.3L467.4 577.3L467.6 576.4L467.8 575.4L468.0 574.3L468.2 573.3L468.4 572.3L468.6 571.3L468.8 570.3L469.0 569.3L469.3 568.4L469.5 567.4L469.7 566.4L469.9 565.4L470.1 564.5L470.3 563.5L470.5 562.5L470.8 561.6L471.0 560.6L471.2 559.7L471.4 558.8L471.6 557.9L471.8 556.9L472.1 556.0L472.3 555.1L472.5 554.2L472.7 553.3L473.0 552.5L473.2 551.6L473.4 550.7L473.7 549.8L473.9 549.0L474.1 548.1L474.4 547.3L474.6 546.5L474.8 545.6L475.1 544.6L475.4 543.6L475.8 542.6L476.1 541.6L476.4 540.6L476.7 539.6L477.1 538.7L477.4 537.7L477.7 536.8L478.1 535.9L478.4 535.0L478.8 534.1L479.2 533.3L479.5 532.4L479.9 531.6L480.3 530.8L480.7 530.0L481.1 529.2L481.5 528.4L481.9 527.7L482.5 526.8L483.1 525.9L483.6 525.0L484.2 524.2L484.9 523.4L485.5 522.6L486.2 521.9L486.8 521.2L487.5 520.5L488.3 519.8L489.0 519.2L489.8 518.6L490.5 518.1L491.3 517.6L492.1 517.1L493.0 516.7L493.8 516.3L494.7 515.9L495.6 515.6L496.5 515.4L497.4 515.2L498.3 515.1L499.2 515.0L500.1 514.9L501.1 515.0L501.9 515.1L502.8 515.2L503.7 515.4L504.5 515.6L505.4 515.9L506.3 516.3L507.2 516.6L508.0 517.1L508.9 517.5L509.7 518.0L510.5 518.5L511.3 519.1L512.1 519.7L512.9 520.3L513.7 521.0L514.4 521.6L515.1 522.3L515.7 522.9L516.4 523.6L517.0 524.3L517.6 525.0L518.2 525.8L518.8 526.5L519.4 527.3L520.0 528.1L520.6 528.9L521.1 529.7L521.7 530.5L522.3 531.4L522.8 532.2L523.3 533.1L523.9 533.9L524.4 534.8L524.9 535.6L525.3 536.4L525.8 537.3L526.3 538.1L526.7 538.9L527.2 539.8L527.6 540.6L528.1 541.5L528.5 542.3L529.0 543.2L529.4 544.1L529.9 544.9L530.3 545.8L530.7 546.7L531.2 547.6L531.6 548.5L532.0 549.4L532.5 550.3L532.9 551.2L533.3 552.1L533.7 553.0L534.2 554.0L534.6 554.8L534.9 555.7L535.3 556.5L535.7 557.4L536.1 558.3L536.5 559.1L536.9 560.0L537.3 560.9L537.6 561.8L538.0 562.6L538.4 563.5L538.8 564.4L539.2 565.3L539.6 566.2L540.0 567.1L540.3 568.0L540.7 568.9L541.1 569.8L541.5 570.7L541.9 571.6L542.3 572.5L542.7 573.4L543.1 574.3L543.5 575.2L543.9 576.1L544.3 577.0L544.7 577.9L545.1 578.8L545.5 579.7L545.9 580.6L546.3 581.5L546.7 582.4L547.1 583.4L547.5 584.3L547.9 585.2L548.3 586.1L548.7 587.0L549.1 587.9L549.5 588.8L549.9 589.7L550.3 590.5L550.7 591.4L551.1 592.3L551.5 593.2L551.9 594.1L552.2 594.9L552.6 595.8L553.0 596.6L553.4 597.5L553.7 598.3L554.1 599.2L554.5 600.0L554.9 600.9L555.3 601.8L555.6 602.7L556.0 603.5L556.4 604.4L556.8 605.3L557.1 606.2L557.5 607.0L557.9 607.9L558.3 608.8L558.6 609.7L559.0 610.6L559.4 611.5L559.8 612.4L560.2 613.3L560.5 614.3L560.9 615.2L561.3 616.2L561.7 617.2L562.2 618.2L562.6 619.2L563.0 620.3L563.3 621.0L563.7 621.8L564.0 622.6L564.3 623.4L564.7 624.3L565.0 625.1L565.4 625.9L565.7 626.8L566.1 627.6L566.4 628.5L566.8 629.4L567.1 630.3L567.5 631.2L567.9 632.0L568.2 633.0L568.6 633.9L569.0 634.8L569.4 635.7L569.8 636.6L570.1 637.5L570.5 638.5L570.9 639.4L571.3 640.3L571.7 641.2L572.1 642.2L572.5 643.1L572.9 644.0L573.2 645.0L573.6 645.9L574.0 646.8L574.4 647.8L574.8 648.7L575.2 649.6L575.6 650.5L576.0 651.5L576.4 652.4L576.8 653.3L577.2 654.2L577.5 655.1L577.9 656.0L578.3 656.9L578.7 657.8L579.1 658.7L579.5 659.7L580.0 660.7L580.4 661.6L580.8 662.6L581.2 663.5L581.6 664.4L582.0 665.4L582.5 666.3L582.9 667.2L583.3 668.1L583.7 669.0L584.1 669.9L584.5 670.8L584.9 671.7L585.3 672.5L585.8 673.4L586.2 674.3L586.6 675.2L587.0 676.0L587.4 676.9L587.8 677.8L588.2 678.6L588.7 679.5L589.1 680.4L589.5 681.2L589.9 682.1L590.4 683.0L590.8 683.8L591.2 684.7L591.7 685.6L592.1 686.4L592.5 687.3L593.0 688.2L593.4 689.1L593.9 690.0L594.4 690.9L594.8 691.8L595.3 692.7L595.8 693.6L596.3 694.5L596.7 695.4L597.2 696.3L597.7 697.2L598.2 698.0L598.7 698.9L599.1 699.8L599.6 700.7L600.1 701.5L600.6 702.4L601.1 703.3L601.6 704.1L602.0 704.9L602.5 705.8L603.0 706.6L603.5 707.4L604.0 708.2L604.4 709.0L604.9 709.8L605.4 710.6L605.9 711.3L606.3 712.1L606.8 712.8L607.2 713.5L607.7 714.2L608.3 715.1L608.9 716.0L609.5 716.8L610.1 717.6L610.6 718.4L611.2 719.2L611.8 720.0L612.4 720.8L613.0 721.6L613.6 722.3L614.2 723.1L614.8 723.8L615.4 724.6L616.0 725.3L616.6 726.1L617.3 726.8L617.9 727.6L618.6 728.4L619.2 729.0L619.7 729.7L620.3 730.4L620.9 731.1L621.5 731.7L622.2 732.4L622.8 733.1L623.4 733.8L624.1 734.5L624.7 735.2L625.4 735.9L626.0 736.6L626.7 737.3L627.4 738.0L628.1 738.7L628.8 739.5L629.4 740.1L630.1 740.8L630.9 741.5L631.6 742.2L632.3 742.9L633.0 743.6L633.7 744.2L634.4 744.9L635.2 745.5L635.9 746.2L636.6 746.8L637.5 747.5L638.3 748.2L639.1 748.9L640.0 749.5L640.8 750.1L641.6 750.8L642.5 751.4L643.3 752.0L644.2 752.6L645.0 753.1L645.9 753.7L646.7 754.2L647.6 754.8L648.4 755.3L649.3 755.8L650.1 756.3L651.0 756.7L651.9 757.2L652.7 757.6L653.6 758.1L654.5 758.5L655.3 758.9L656.2 759.3L657.1 759.7L658.0 760.1L658.9 760.4L659.8 760.8L660.8 761.1L661.7 761.4L662.6 761.7L663.5 762.0L664.4 762.3L665.3 762.5L666.2 762.8L667.1 763.0L668.1 763.3L669.0 763.5L669.9 763.7L670.8 763.9L671.7 764.1L672.7 764.3L673.6 764.4L674.5 764.6L675.5 764.8L676.5 764.9L677.4 765.1L678.4 765.2L679.3 765.3L680.3 765.4L681.3 765.5L682.2 765.6L683.2 765.7L684.2 765.8L685.1 765.9L686.1 766.0L687.1 766.1L688.0 766.1L689.0 766.2L690.0 766.3L690.9 766.3L691.9 766.4L692.9 766.4L693.9 766.5L694.8 766.5L695.8 766.5L696.8 766.6L697.7 766.6L698.7 766.7L699.7 766.7L700.7 766.7L701.6 766.8L702.6 766.8L703.6 766.8L704.5 766.9L705.5 766.9L706.5 766.9L707.5 767.0L708.4 767.0L709.4 767.1L710.4 767.1L711.4 767.2L712.3 767.2L713.3 767.3L714.3 767.3L715.2 767.4L716.2 767.4L717.2 767.5L718.2 767.6L719.1 767.7L720.1 767.7L721.1 767.8L722.0 767.9L723.0 768.0L724.0 768.1L725.0 768.2L725.9 768.2L726.9 768.3L727.9 768.4L728.8 768.5L729.8 768.7L730.8 768.8L731.7 768.9L732.7 769.0L733.7 769.1L734.7 769.2L735.6 769.3L736.6 769.5L737.6 769.6L738.5 769.7L739.5 769.9L740.5 770.0L741.4 770.1L742.4 770.3L743.4 770.4L744.3 770.6L745.3 770.7L746.3 770.9L747.2 771.0L748.2 771.2L749.2 771.3L750.2 771.5L751.1 771.6L752.1 771.8L753.1 772.0L754.0 772.2L755.0 772.3L756.0 772.5L756.9 772.7L757.9 772.9L758.9 773.1L759.8 773.2L760.8 773.4L761.8 773.6L762.7 773.8L763.7 774.0L764.7 774.2L765.6 774.4L766.6 774.6L767.6 774.8L768.5 775.0L769.5 775.3L770.5 775.5L771.4 775.7L772.4 775.9L773.4 776.1L774.3 776.3L775.3 776.6L776.3 776.8L777.2 777.0L778.2 777.3L779.2 777.5L780.1 777.7L781.1 778.0L782.1 778.2L783.0 778.5L784.0 778.7L784.9 778.9L785.8 779.2L786.8 779.4L787.7 779.6L788.6 779.9L789.5 780.1L790.4 780.4L791.4 780.6L792.3 780.9L793.2 781.1L794.1 781.4L795.0 781.6L796.0 781.9L796.9 782.1L797.8 782.4L798.7 782.6L799.6 782.9L800.6 783.1L801.5 783.4L802.4 783.7L803.3 783.9L804.2 784.2L805.1 784.4L806.1 784.7L807.0 785.0L807.9 785.2L808.8 785.5L809.7 785.8L810.7 786.0L811.6 786.3L812.5 786.6L813.4 786.9L814.3 787.1L815.3 787.4L816.2 787.7L817.1 787.9L818.0 788.2L818.9 788.5L819.9 788.8L820.8 789.0L821.7 789.3L822.6 789.6L823.5 789.9L824.4 790.2L825.4 790.4L826.3 790.7L827.2 791.0L828.1 791.3L829.0 791.6L830.0 791.8L830.9 792.1L831.8 792.4L832.7 792.7L833.6 793.0L834.6 793.2L835.5 793.5L836.4 793.8L837.3 794.1L838.2 794.4L839.1 794.6L840.1 794.9L841.0 795.2L841.9 795.5L842.8 795.8L843.7 796.0L844.7 796.3L845.6 796.6L846.5 796.9L847.4 797.2L848.3 797.4L849.2 797.7L850.2 798.0L851.1 798.3L852.0 798.5L852.9 798.8L853.8 799.1L854.8 799.4L855.7 799.6L856.6 799.9L857.5 800.2L858.4 800.5L859.4 800.7L860.3 801.0L861.2 801.3L862.1 801.6L863.1 801.8L864.0 802.1L864.9 802.4L865.8 802.6L866.8 802.9L867.7 803.2L868.6 803.4L869.5 803.7L870.5 804.0L871.4 804.2L872.3 804.5L873.2 804.8L874.2 805.0L875.1 805.3L876.0 805.6L876.9 805.8L877.9 806.1L878.8 806.3L879.7 806.6L880.6 806.8L881.6 807.1L882.5 807.4L883.4 807.6L884.3 807.9L885.3 808.1L886.2 808.4L887.1 808.6L888.0 808.9L889.0 809.1L889.9 809.4L890.8 809.6L891.7 809.9L892.7 810.1L893.6 810.4L894.5 810.6L895.4 810.9L896.3 811.1L897.3 811.4L898.2 811.6L899.1 811.9L900.0 812.1L901.0 812.3L901.9 812.6L902.8 812.8L903.7 813.1L904.6 813.3L905.6 813.5L906.5 813.8L907.4 814.0L908.3 814.3L909.2 814.5L910.2 814.7L911.1 815.0L912.0 815.2L912.9 815.4L913.9 815.7L914.9 815.9L915.8 816.2L916.8 816.4L917.8 816.6L918.7 816.9L919.7 817.1L920.7 817.4L921.6 817.6L922.6 817.8L923.6 818.1L924.5 818.3L925.5 818.5L926.4 818.8L927.4 819.0L928.4 819.2L929.3 819.5L930.3 819.7L931.3 819.9L932.2 820.2L933.2 820.4L934.1 820.6L935.1 820.9L936.1 821.1L937.0 821.3L938.0 821.5L938.9 821.8L939.9 822.0L940.9 822.2L941.8 822.4L942.8 822.6L943.7 822.9L944.7 823.1L945.6 823.3L946.6 823.5L947.5 823.7L948.5 823.9L949.5 824.2L950.4 824.4L951.4 824.6L952.3 824.8L953.3 825.0L954.2 825.2L955.2 825.4L956.1 825.6L957.1 825.9L958.0 826.1L959.0 826.3L959.9 826.5L960.9 826.7L961.9 826.9L962.8 827.1L963.8 827.3L964.8 827.5L965.7 827.7L966.7 827.9L967.7 828.2L968.6 828.4L969.6 828.6L970.6 828.8L971.6 829.0L972.6 829.2L973.5 829.4L974.5 829.6L975.5 829.8L976.5 830.0L977.5 830.2L978.5 830.5L979.6 830.7L980.6 830.9L981.6 831.1L982.6 831.3L983.6 831.5L984.7 831.8L985.7 832.0L986.8 832.2L987.6 832.4L988.4 832.5L989.3 832.7L990.1 832.9L991.0 833.1L991.8 833.3L992.7 833.4L993.6 833.6L994.4 833.8L995.3 834.0L996.2 834.2L997.1 834.4L998.0 834.5L998.9 834.7L999.9 834.9L1000.8 835.1L1001.8 835.3L1002.7 835.5L1003.7 835.7L1004.7 835.9L1005.7 836.1L1006.7 836.3L1007.7 836.5L1008.7 836.7L1009.8 836.9L1010.8 837.1L1011.9 837.3L1013.0 837.5L1014.1 837.7L1015.2 838.0L1016.0 838.1L1016.8 838.3L1017.7 838.4L1018.5 838.6L1019.4 838.8L1020.2 838.9L1021.1 839.1L1022.0 839.2L1022.9 839.4L1023.8 839.6L1024.7 839.7L1025.6 839.9L1026.5 840.1L1027.4 840.2L1028.3 840.4L1029.2 840.6L1030.2 840.8L1031.1 840.9L1032.1 841.1L1033.0 841.3L1034.0 841.4L1034.9 841.6L1035.9 841.8L1036.9 842.0L1037.8 842.1L1038.8 842.3L1039.8 842.5L1040.8 842.6L1041.8 842.8L1042.8 843.0L1043.7 843.2L1044.7 843.3L1045.7 843.5L1046.7 843.7L1047.8 843.9L1048.8 844.0L1049.8 844.2L1050.8 844.4L1051.8 844.6L1052.8 844.7L1053.8 844.9L1054.8 845.1L1055.9 845.3L1056.9 845.4L1057.9 845.6L1058.9 845.8L1059.9 845.9L1061.0 846.1L1062.0 846.3L1063.0 846.5L1064.0 846.6L1065.0 846.8L1066.1 847.0L1067.1 847.1L1068.1 847.3L1069.1 847.5L1070.1 847.6L1071.1 847.8L1072.2 848.0L1073.2 848.1L1074.2 848.3L1075.2 848.5L1076.3 848.6L1077.3 848.8L1078.3 849.0L1079.3 849.1L1080.3 849.3L1081.3 849.4L1082.3 849.6L1083.3 849.8L1084.4 849.9L1085.4 850.1L1086.4 850.2L1087.4 850.4L1088.4 850.6L1089.4 850.7L1090.4 850.9L1091.4 851.0L1092.4 851.2L1093.4 851.3L1094.4 851.5L1095.4 851.6L1096.4 851.8L1097.4 851.9L1098.3 852.1L1099.3 852.2L1100.3 852.4L1101.3 852.5L1102.3 852.7L1103.3 852.8L1104.3 853.0L1105.3 853.1L1106.3 853.3L1107.2 853.4L1108.2 853.5L1109.2 853.7L1110.2 853.8L1111.2 854.0L1112.2 854.1L1113.2 854.3L1114.1 854.4L1115.1 854.5L1116.1 854.7L1117.1 854.8L1118.1 855.0L1119.0 855.1L1120.0 855.2L1121.0 855.4L1122.0 855.5L1123.0 855.7L1124.0 855.8L1124.9 855.9L1125.9 856.1L1126.9 856.2L1127.9 856.3L1128.9 856.5L1129.8 856.6L1130.8 856.8L1131.8 856.9L1132.8 857.0L1133.8 857.2L1134.7 857.3L1135.7 857.4L1136.7 857.6L1137.7 857.7L1138.7 857.8L1139.6 858.0L1140.6 858.1L1141.6 858.2L1142.6 858.3L1143.6 858.5L1144.6 858.6L1145.5 858.7L1146.5 858.9L1147.5 859.0L1148.5 859.1L1149.5 859.3L1150.4 859.4L1151.4 859.5L1152.4 859.6L1153.4 859.8L1154.4 859.9L1155.4 860.0L1156.3 860.1L1157.3 860.3L1158.3 860.4L1159.3 860.5L1160.3 860.6L1161.2 860.8L1162.2 860.9L1163.2 861.0L1164.2 861.1L1165.2 861.3L1166.2 861.4L1167.1 861.5L1168.1 861.6L1169.1 861.7L1170.1 861.9L1171.1 862.0L1172.0 862.1L1173.0 862.2L1174.0 862.4L1175.0 862.5L1176.0 862.6L1177.0 862.7L1177.9 862.8L1178.9 862.9L1179.9 863.1L1180.9 863.2L1181.9 863.3L1182.9 863.4L1183.8 863.5L1184.8 863.6L1185.8 863.8L1186.8 863.9L1187.8 864.0L1188.7 864.1L1189.7 864.2L1190.7 864.3L1191.7 864.5L1192.7 864.6L1193.6 864.7L1194.6 864.8L1195.6 864.9L1196.6 865.0L1197.6 865.1L1198.6 865.2L1199.5 865.4L1200.5 865.5L1201.5 865.6L1202.5 865.7L1203.5 865.8L1204.4 865.9L1205.4 866.0L1206.4 866.1L1207.4 866.2L1208.4 866.3L1209.4 866.5L1210.3 866.6L1211.3 866.7L1212.3 866.8L1213.3 866.9L1214.3 867.0L1215.3 867.1L1216.2 867.2L1217.2 867.3L1218.2 867.4L1219.2 867.5L1220.2 867.6L1221.2 867.7L1222.1 867.8L1223.1 867.9L1224.1 868.0L1225.1 868.1L1226.1 868.3L1227.1 868.4L1228.0 868.5L1229.0 868.6L1230.0 868.7L1231.0 868.8L1232.0 868.9L1233.0 869.0L1233.9 869.1L1234.9 869.2L1235.9 869.3L1236.9 869.4L1237.9 869.5L1238.9 869.6L1239.8 869.7L1240.8 869.8L1241.8 869.9L1242.8 870.0L1243.8 870.1L1244.8 870.2L1245.7 870.3L1246.7 870.4L1247.7 870.5L1248.7 870.6L1249.7 870.7L1250.7 870.7L1251.6 870.8L1252.6 870.9L1253.6 871.0L1254.6 871.1L1255.6 871.2L1256.6 871.3L1257.5 871.4L1258.5 871.5L1259.5 871.6L1260.5 871.7L1261.5 871.8L1262.5 871.9L1263.5 872.0L1264.4 872.1L1265.4 872.2L1266.4 872.3L1267.4 872.3L1268.4 872.4L1269.4 872.5L1270.3 872.6L1271.3 872.7L1272.3 872.8L1273.3 872.9L1274.3 873.0L1275.3 873.1L1276.3 873.2L1277.2 873.2L1278.2 873.3L1279.2 873.4L1280.2 873.5L1281.2 873.6L1282.2 873.7L1283.2 873.8L1284.1 873.9L1285.1 874.0L1286.1 874.0L1287.1 874.1L1288.1 874.2L1289.1 874.3L1290.0 874.4L1291.0 874.5L1292.0 874.6L1293.0 874.6L1294.0 874.7L1295.0 874.8L1296.0 874.9L1296.9 875.0L1297.9 875.1L1298.9 875.1L1299.9 875.2L1300.9 875.3L1301.9 875.4L1302.9 875.5L1303.8 875.6L1304.8 875.6L1305.8 875.7L1306.8 875.8L1307.8 875.9L1308.8 876.0L1309.8 876.0L1310.8 876.1L1311.7 876.2L1312.7 876.3L1313.7 876.4L1314.7 876.5L1315.7 876.5L1316.7 876.6L1317.7 876.7L1318.6 876.8L1319.6 876.8L1320.6 876.9L1321.6 877.0L1322.6 877.1L1323.6 877.2L1324.6 877.2L1325.5 877.3L1326.5 877.4L1327.5 877.5L1328.5 877.5L1329.5 877.6L1330.5 877.7L1331.5 877.8L1332.5 877.8L1333.4 877.9L1334.4 878.0L1335.4 878.1L1336.4 878.1L1337.4 878.2L1338.4 878.3L1339.4 878.4L1340.4 878.4L1341.3 878.5L1342.3 878.6L1343.3 878.7L1344.3 878.7L1345.3 878.8L1346.3 878.9L1347.3 879.0L1348.3 879.0L1349.2 879.1L1350.2 879.2L1351.2 879.2L1352.2 879.3L1353.2 879.4L1354.2 879.5L1355.2 879.5L1356.2 879.6L1357.2 879.7L1358.1 879.7L1359.1 879.8L1360.1 879.9L1361.1 880.0L1362.1 880.0L1363.1 880.1L1364.1 880.2L1365.1 880.2L1366.0 880.3L1367.0 880.4L1368.0 880.4L1369.0 880.5L1370.0 880.6L1371.0 880.6L1372.0 880.7L1373.0 880.8L1374.0 880.8L1374.9 880.9L1375.9 881.0L1376.9 881.0L1377.9 881.1L1378.9 881.2L1379.9 881.2L1380.9 881.3L1381.9 881.4L1382.9 881.4L1383.8 881.5L1384.8 881.6L1385.8 881.6L1386.8 881.7L1387.8 881.8L1388.8 881.8L1389.8 881.9L1390.8 881.9L1391.8 882.0L1392.8 882.1L1393.7 882.1L1394.7 882.2L1395.7 882.3L1396.7 882.3L1397.7 882.4L1398.7 882.5L1399.7 882.5L1400.7 882.6L1401.7 882.6L1402.7 882.7L1403.6 882.8L1404.6 882.8L1405.6 882.9L1406.6 882.9L1407.6 883.0L1408.6 883.1L1409.6 883.1L1410.6 883.2L1411.6 883.2L1412.6 883.3L1413.5 883.4L1414.5 883.4L1415.5 883.5L1416.5 883.5L1417.5 883.6L1418.5 883.7L1419.5 883.7L1420.5 883.8L1421.5 883.8L1422.5 883.9L1423.5 884.0L1424.4 884.0L1425.4 884.1L1426.4 884.1L1427.4 884.2L1428.4 884.2L1429.4 884.3L1430.4 884.4L1431.4 884.4L1432.4 884.5L1433.4 884.5L1434.4 884.6L1435.4 884.6L1436.3 884.7L1437.3 884.8L1438.3 884.8L1439.3 884.9L1440.3 884.9L1441.3 885.0L1442.3 885.0L1443.3 885.1L1444.3 885.1L1445.3 885.2L1446.3 885.2L1447.3 885.3L1448.2 885.4L1449.2 885.4L1450.2 885.5L1451.2 885.5L1452.2 885.6L1453.2 885.6L1454.2 885.7L1455.2 885.7L1456.2 885.8L1457.2 885.8L1458.2 885.9L1459.2 885.9L1460.2 886.0L1461.2 886.0L1462.1 886.1L1463.1 886.2L1464.1 886.2L1465.1 886.3L1466.1 886.3L1467.1 886.4L1468.1 886.4L1469.1 886.5L1470.1 886.5L1471.1 886.6L1472.1 886.6L1473.0 886.7L1474.0 886.7L1475.0 886.8L1476.0 886.8L1477.0 886.9L1478.0 886.9L1479.0 887.0L1479.9 887.0L1480.9 887.1L1481.9 887.1L1482.9 887.2L1483.9 887.2L1484.8 887.3L1485.8 887.3L1486.8 887.3L1487.8 887.4L1488.7 887.4L1489.7 887.5L1490.7 887.5L1491.7 887.6L1492.6 887.6L1493.6 887.7L1494.6 887.7L1495.5 887.8L1496.5 887.8L1497.4 887.9L1498.4 887.9L1499.4 887.9L1500.3 888.0L1501.3 888.0L1502.2 888.1L1503.2 888.1L1504.1 888.2L1505.1 888.2L1506.0 888.2L1507.0 888.3L1507.9 888.3L1508.8 888.4L1509.8 888.4L1510.7 888.4L1511.6 888.5L1512.6 888.5L1513.6 888.6L1514.6 888.6L1515.6 888.7L1516.6 888.7L1517.5 888.7L1518.5 888.8L1519.5 888.8L1520.5 888.9L1521.4 888.9L1522.4 888.9L1523.4 889.0L1524.4 889.0L1525.3 889.1L1526.3 889.1L1527.3 889.1L1528.2 889.2L1529.2 889.2L1530.2 889.3L1531.2 889.3L1532.1 889.3L1533.1 889.4L1534.1 889.4L1535.0 889.4L1536.0 889.5L1537.0 889.5L1538.0 889.6L1539.0 889.6L1539.9 889.6L1540.9 889.7L1541.9 889.7L1542.9 889.7L1543.9 889.8L1544.9 889.8L1545.9 889.9L1546.9 889.9L1547.9 889.9L1548.9 890.0L1549.9 890.0L1550.9 890.1L1551.9 890.1L1552.9 890.1L1554.0 890.2L1555.0 890.2L1556.0 890.2L1557.1 890.3L1558.1 890.3L1559.1 890.4L1560.2 890.4L1561.2 890.4L1562.2 890.5L1563.2 890.5L1564.2 890.6L1565.2 890.6L1566.2 890.6L1567.2 890.7L1568.2 890.7L1569.2 890.8L1570.2 890.8L1571.2 890.8L1572.3 890.9L1573.3 890.9L1574.3 890.9L1575.3 891.0L1576.4 891.0L1577.4 891.1L1578.4 891.1L1579.4 891.1L1580.4 891.2L1581.5 891.2L1582.5 891.3L1583.5 891.3L1584.5 891.3L1585.5 891.4L1586.6 891.4L1587.6 891.5L1588.6 891.5L1589.6 891.5L1590.6 891.6L1591.6 891.6L1592.6 891.7L1593.6 891.7L1594.6 891.7L1595.6 891.8L1596.5 891.8L1597.5 891.8L1598.5 891.9L1599.5 891.9L1600.4 892.0L1601.4 892.0L1602.3 892.0L1603.3 892.1L1604.2 892.1L1605.1 892.1L1606.0 892.2L1607.0 892.2L1607.9 892.2L1608.8 892.3L1609.6 892.3L1610.5 892.3L1611.4 892.4L1612.3 892.4L1613.1 892.4L1614.0 892.5L1614.8 892.5L1616.0 892.5L1617.1 892.6L1618.2 892.6L1619.3 892.7L1620.4 892.7L1621.5 892.7L1622.6 892.8L1623.6 892.8L1624.7 892.9L1625.7 892.9L1626.7 892.9L1627.7 893.0L1628.7 893.0L1629.7 893.0L1630.6 893.1L1631.6 893.1L1632.6 893.1L1633.5 893.2L1634.5 893.2L1635.4 893.2L1636.4 893.3L1637.3 893.3L1638.2 893.3L1639.2 893.4L1640.1 893.4L1641.1 893.4L1642.0 893.5L1643.0 893.5L1643.8 893.5L1644.8 893.6L1645.7 893.6L1646.6 893.6L1647.5 893.7L1648.4 893.7L1649.3 893.7L1650.2 893.8L1651.2 893.8L1652.1 893.8L1653.0 893.9L1654.0 893.9L1654.9 893.9L1655.8 894.0L1656.8 894.0L1657.7 894.0L1658.7 894.1L1659.6 894.1L1660.6 894.1L1661.6 894.2L1662.5 894.2L1663.5 894.2L1664.4 894.3L1665.4 894.3L1666.4 894.3L1667.4 894.4L1668.4 894.4L1669.3 894.4L1670.3 894.4L1671.3 894.5L1672.3 894.5L1673.3 894.5L1674.2 894.6L1675.2 894.6L1676.2 894.6L1677.2 894.7L1678.2 894.7L1679.2 894.7L1680.2 894.8L1681.1 894.8L1682.1 894.8L1683.1 894.9L1684.1 894.9L1685.1 894.9L1686.1 894.9L1687.1 895.0L1688.2 895.0L1689.2 895.0L1690.2 895.1L1691.2 895.1L1692.2 895.1L1693.2 895.2L1694.2 895.2L1695.2 895.2L1696.3 895.2L1697.3 895.3L1698.3 895.3L1699.3 895.3L1700.4 895.4L1701.4 895.4L1702.4 895.4L1703.5 895.4L1704.5 895.5L1705.5 895.5L1706.5 895.5L1707.5 895.6L1708.5 895.6L1709.5 895.6L1710.5 895.6L1711.5 895.7L1712.5 895.7L1713.4 895.7L1714.4 895.7L1715.4 895.8L1716.4 895.8L1717.4 895.8L1718.4 895.9L1719.4 895.9L1720.4 895.9L1721.4 895.9L1722.4 896.0L1723.4 896.0L1724.4 896.0L1725.4 896.0L1726.4 896.1L1727.4 896.1L1728.5 896.1L1729.5 896.1L1730.5 896.2L1731.5 896.2L1732.5 896.2L1733.5 896.3L1734.5 896.3L1735.5 896.3L1736.5 896.3L1737.5 896.4L1738.5 896.4L1739.5 896.4L1740.5 896.4L1741.5 896.5L1742.5 896.5L1743.4 896.5L1744.4 896.5L1745.3 896.6L1746.3 896.6L1747.2 896.6L1748.2 896.6L1749.2 896.7L1750.1 896.7L1751.1 896.7L1752.0 896.8L1753.0 896.8L1753.9 896.8L1754.9 896.8L1755.8 896.9L1756.7 896.9L1757.7 896.9L1758.6 896.9L1759.6 897.0L1760.5 897.0L1761.5 897.0L1762.4 897.0L1763.4 897.1L1764.3 897.1L1765.3 897.1L1766.2 897.1L1767.2 897.2L1768.1 897.2L1769.0 897.2L1770.0 897.3L1770.9 897.3L1771.9 897.3L1772.8 897.3L1773.7 897.4L1774.7 897.4L1775.6 897.4L1776.5 897.5L1777.5 897.5L1778.4 897.5L1779.4 897.5L1780.3 897.6L1781.3 897.6L1782.3 897.6L1783.2 897.7L1784.2 897.7L1785.2 897.7L1786.1 897.7L1787.1 897.8L1788.1 897.8L1789.0 897.8L1790.0 897.9L1791.0 897.9L1791.9 897.9L1792.9 898.0L1793.9 898.0L1794.9 898.0L1795.8 898.0L1796.8 898.1L1797.8 898.1L1798.8 898.1L1799.8 898.2L1800.8 898.2L1801.8 898.2L1802.8 898.2L1803.8 898.3L1804.8 898.3L1805.9 898.3L1806.9 898.4L1807.9 898.4L1809.0 898.4L1810.0 898.4L1811.0 898.5L1812.1 898.5L1813.2 898.5L1814.2 898.5L1815.3 898.6L1816.4 898.6L1817.3 898.6L1818.2 898.6L1819.1 898.6L1820.0 898.7L1820.9 898.7L1821.8 898.7L1822.7 898.7L1823.6 898.7L1824.6 898.7L1825.5 898.8L1826.4 898.8L1827.4 898.8L1828.3 898.8L1829.3 898.8L1830.2 898.8L1831.2 898.9L1832.1 898.9L1833.1 898.9L1834.0 898.9L1835.0 898.9L1836.0 898.9L1836.9 899.0L1837.9 899.0L1838.9 899.0L1839.9 899.0L1840.9 899.0L1841.8 899.0L1842.8 899.0L1843.8 899.1L1844.8 899.1L1845.8 899.1L1846.8 899.1L1847.8 899.1L1848.8 899.1L1849.8 899.1L1850.8 899.2L1851.8 899.2L1852.8 899.2L1853.8 899.2L1854.8 899.2L1855.8 899.2L1856.8 899.2L1857.8 899.2L1858.8 899.3L1859.8 899.3L1860.9 899.3L1861.9 899.3L1862.9 899.3L1863.9 899.3L1864.9 899.3L1865.9 899.3L1866.9 899.4L1867.9 899.4L1868.9 899.4L1869.9 899.4L1871.0 899.4L1872.0 899.4L1873.0 899.4L1874.0 899.5L1875.0 899.5L1876.0 899.5L1877.0 899.5L1878.0 899.5L1879.0 899.5L1880.0 899.5L1881.0 899.5L1882.0 899.6L1883.0 899.6L1884.0 899.6L1885.0 899.6L1886.0 899.6L1887.0 899.6L1888.0 899.6L1889.0 899.7L1890.0 899.7L1891.0 899.7L1892.0 899.7L1893.0 899.7L1894.0 899.7L1895.0 899.7L1896.0 899.7L1897.0 899.8L1898.0 899.8L1899.0 899.8L1900.0 899.8L1900.9 899.8L1901.9 899.8L1902.9 899.8L1903.9 899.9L1904.9 899.9L1905.9 899.9L1906.9 899.9L1907.9 899.9L1908.9 899.9L1909.9 899.9L1910.8 900.0L1911.8 900.0L1912.8 900.0L1913.8 900.0L1914.8 900.0L1915.8 900.0L1916.8 900.0L1917.8 900.1L1918.7 900.1L1919.7 900.1L1920.7 900.1L1921.7 900.1L1922.7 900.1L1923.7 900.1L1924.6 900.2L1925.6 900.2L1926.6 900.2L1927.6 900.2L1928.6 900.2L1929.6 900.2L1930.5 900.2L1931.5 900.3L1932.5 900.3L1933.5 900.3L1934.5 900.3L1935.5 900.3L1936.4 900.3L1937.4 900.3L1938.4 900.4L1939.4 900.4L1940.4 900.4L1941.3 900.4L1942.3 900.4L1943.3 900.4L1944.3 900.4L1945.3 900.5L1946.2 900.5L1947.2 900.5L1948.2 900.5L1949.2 900.5L1950.2 900.5L1951.1 900.6L1952.1 900.6L1953.1 900.6L1954.1 900.6L1955.1 900.6L1956.0 900.6L1957.0 900.6L1958.0 900.7L1959.0 900.7L1959.9 900.7L1960.9 900.7L1961.9 900.7L1962.9 900.7L1963.9 900.7L1964.8 900.8L1965.8 900.8L1966.8 900.8L1967.8 900.8L1968.8 900.8L1969.7 900.8L1970.7 900.9L1971.7 900.9L1972.7 900.9L1973.6 900.9L1974.6 900.9L1975.6 900.9L1976.6 900.9L1977.6 901.0L1978.5 901.0L1979.5 901.0L1980.5 901.0L1981.5 901.0L1982.5 901.0L1983.4 901.1L1984.4 901.1L1985.4 901.1L1986.4 901.1L1987.4 901.1L1988.4 901.1L1989.3 901.1L1990.3 901.2L1991.3 901.2L1992.3 901.2L1993.3 901.2L1994.2 901.2L1995.2 901.2L1996.2 901.3L1997.2 901.3L1998.2 901.3L1999.2 901.3L2000.1 901.3L2001.1 901.3L2002.1 901.3L2003.1 901.4L2004.1 901.4L2005.1 901.4L2006.1 901.4L2007.0 901.4L2008.0 901.4L2009.0 901.5L2010.0 901.5L2011.0 901.5L2012.0 901.5L2013.0 901.5L2014.0 901.5L2014.9 901.5L2015.9 901.6L2016.9 901.6L2017.9 901.6L2018.9 901.6L2019.9 901.6L2020.9 901.6L2021.9 901.7L2022.9 901.7L2023.9 901.7L2024.9 901.7L2025.9 901.7L2026.9 901.7L2027.8 901.7L2028.8 901.8L2029.8 901.8L2030.8 901.8L2031.8 901.8L2032.8 901.8L2033.8 901.8L2034.8 901.9L2035.8 901.9L2036.8 901.9L2037.8 901.9L2038.8 901.9L2039.8 901.9L2040.8 901.9L2041.8 902.0L2042.8 902.0L2043.8 902.0L2044.8 902.0L2045.8 902.0L2046.8 902.0L2047.8 902.1L2048.8 902.1L2049.8 902.1L2050.8 902.1L2051.8 902.1L2052.8 902.1L2053.9 902.1L2054.9 902.2L2055.9 902.2L2056.9 902.2L2057.8 902.2L2058.8 902.2L2059.8 902.2L2060.8 902.3L2061.8 902.3L2062.8 902.3L2063.8 902.3L2064.8 902.3L2065.8 902.3L2066.8 902.3L2067.8 902.4L2068.8 902.4L2069.8 902.4L2070.8 902.4L2071.7 902.4L2072.7 902.4L2073.7 902.4L2074.7 902.5L2075.7 902.5L2076.6 902.5L2077.6 902.5L2078.6 902.5L2079.6 902.5L2080.5 902.5L2081.5 902.6L2082.5 902.6L2083.4 902.6L2084.4 902.6L2085.4 902.6L2086.3 902.6L2087.3 902.6L2088.2 902.7L2089.2 902.7L2090.1 902.7L2091.1 902.7L2092.0 902.7L2093.1 902.7L2094.2 902.7L2095.2 902.7L2096.3 902.8L2097.4 902.8L2098.5 902.8L2099.5 902.8L2100.6 902.8L2101.6 902.8L2102.7 902.8L2103.7 902.9L2104.8 902.9L2105.8 902.9L2106.8 902.9L2107.9 902.9L2108.9 902.9L2109.9 902.9L2110.9 903.0L2111.9 903.0L2112.9 903.0L2113.9 903.0L2114.9 903.0L2115.9 903.0L2116.9 903.0L2117.9 903.0L2118.8 903.0L2119.8 903.1L2120.8 903.1L2121.7 903.1L2122.7 903.1L2123.6 903.1L2124.5 903.1L2125.5 903.1L2126.4 903.1L2127.3 903.1L2128.2 903.1L2129.1 903.2L2130.0 903.2L2130.9 903.2L2131.8 903.2L2132.6 903.2L2133.5 903.2" fill="none" stroke="#000" stroke-width="5.3" stroke-linejoin="round"/></g>
<g shape-rendering="crispEdges"><rect x="1609" y="162" width="449" height="376" fill="#262626"/><rect x="1614" y="167" width="439" height="366" fill="#fff"/><path d="M1635 218.5H1816" stroke="#000" stroke-width="5" fill="none"/><path d="M1635 306.5H1816" stroke="#000" stroke-width="5" fill="none" stroke-dasharray="49 17 13 17"/><path d="M1635 393.5H1816" stroke="#000" stroke-width="5" fill="none" stroke-dasharray="61 35"/><path d="M1635 481.5H1816" stroke="#000" stroke-width="5" fill="none" stroke-dasharray="7 17"/></g><g font-family="'Liberation Serif', serif" font-size="72px" fill="#000"><text transform="translate(1833.8,242.3) scale(1,1.045)">CCV</text><text transform="translate(1835.3,330.3) scale(1,1.045)">WN</text><text transform="translate(1831.3,417.3) scale(1,1.045)">ZN</text><text transform="translate(1833.8,505.3) scale(1,1.045)">CCCC</text></g></svg>
</body></html>
